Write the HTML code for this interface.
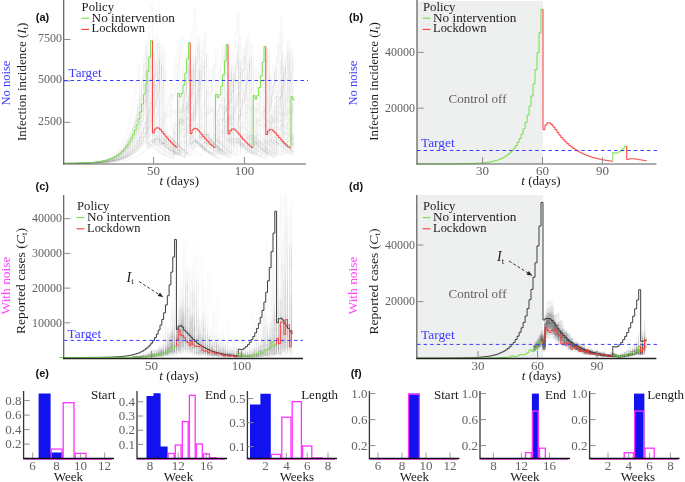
<!DOCTYPE html>
<html><head><meta charset="utf-8"><style>
html,body{margin:0;padding:0;background:#fff;}
svg{display:block;will-change:transform;}
</style></head><body>
<svg width="685" height="482" viewBox="0 0 685 482">
<defs>
<clipPath id="clipA"><rect x="64" y="0" width="245" height="164"/></clipPath>
<clipPath id="clipC"><rect x="64" y="195" width="245" height="163"/></clipPath>
<clipPath id="clipD"><rect x="417" y="195" width="245" height="163"/></clipPath>
</defs>
<rect width="685" height="482" fill="#fff"/>
<g font-family='"Liberation Serif", serif' font-size="13" fill="#1a1a1a">
<g clip-path="url(#clipA)" fill="none" stroke="#808080" stroke-width="0.5" stroke-opacity="0.14">
<path d="M64.2 163.4H66V163.4H67.8V163.4H69.6V163.4H71.4V163.4H73.2V163.3H75V163.3H76.8V163.3H78.6V163.2H80.4V163.2H82.2V163.1H84V163.1H85.8V163H87.6V162.9H89.4V162.8H91.2V162.7H93V162.5H94.8V162.4H96.6V162.2H98.4V161.9H100.2V161.6H102V161.3H103.8V160.9H105.6V160.4H107.4V159.9H109.2V159.2H111V158.5H112.8V157.6H114.6V156.5H116.4V155.3H118.2V153.8H120V152.1H121.8V150H123.6V147.6H125.4V144.8H127.2V141.4H129V137.5H130.8V132.8H132.6V127.3H134.4V120.9H136.2V113.2H138V104.2H139.8V93.6H141.6V81.1H143.4V66.4H145.2V49.1H147V147H148.8V144.7H150.6V143.9H152.4V144.3H154.2V145.6H156V147.2H157.8V148.9H159.6V150.5H161.4V152.1H163.2V153.5H165V154.7H166.8V155.8H168.6V156.8H170.4V157.6H172.2V158.4H174V126.8H175.8V129.9H177.6V128.4H179.4V123.6H181.2V116.7H183V108.3H184.8V98.3H186.6V86.6H188.4V72.8H190.2V56.7H192V148.1H193.8V146H195.6V145.2H197.4V145.6H199.2V146.8H201V148.2H202.8V149.8H204.6V151.4H206.4V152.8H208.2V154.1H210V155.3H211.8V156.3H213.6V157.2H215.4V158H217.2V158.7H219V129.2H220.8V132.1H222.6V130.8H224.4V126.3H226.2V119.8H228V111.9H229.8V102.6H231.6V91.7H233.4V78.8H235.2V63.7H237V46H238.8V146.5H240.6V144.2H242.4V143.4H244.2V143.8H246V145.1H247.8V146.7H249.6V148.5H251.4V150.2H253.2V151.8H255V153.2H256.8V154.5H258.6V155.6H260.4V156.6H262.2V157.5H264V158.2H265.8V125.8H267.6V129H269.4V127.5H271.2V122.5H273V115.4H274.8V106.7H276.6V96.5H278.4V84.5H280.2V70.3H282V53.7H283.8V147.7H285.6V145.5H287.4V144.7H289.2V145.1H291V146.3H292.8V147.8H294.6"/>
<path d="M64.2 163.4H66V163.4H67.8V163.4H69.6V163.4H71.4V163.4H73.2V163.4H75V163.4H76.8V163.3H78.6V163.3H80.4V163.3H82.2V163.3H84V163.2H85.8V163.2H87.6V163.1H89.4V163.1H91.2V163H93V162.9H94.8V162.9H96.6V162.8H98.4V162.6H100.2V162.5H102V162.4H103.8V162.2H105.6V162H107.4V161.8H109.2V161.5H111V161.2H112.8V160.8H114.6V160.4H116.4V159.9H118.2V159.4H120V158.8H121.8V158H123.6V157.2H125.4V156.2H127.2V155.1H129V153.8H130.8V152.3H132.6V150.6H134.4V148.7H136.2V146.4H138V143.7H139.8V140.7H141.6V137.2H143.4V133.2H145.2V128.5H147V123.1H148.8V117H150.6V109.8H152.4V101.6H154.2V92.1H156V81.1H157.8V68.4H159.6V53.8H161.4V145.2H163.2V143.1H165V142.4H166.8V142.9H168.6V144.3H170.4V146H172.2V147.8H174V149.5H175.8V151.1H177.6V152.6H179.4V153.9H181.2V155H183V156.1H184.8V157H186.6V123.8H188.4V127.2H190.2V126.2H192V122.1H193.8V116H195.6V108.7H197.4V100.2H199.2V90.4H201V79.2H202.8V66.3H204.6V147.3H206.4V145.4H208.2V144.8H210V145.3H211.8V146.5H213.6V148H215.4V149.5H217.2V151.1H219V152.5H220.8V153.8H222.6V155H224.4V156H226.2V156.9H228V157.7H229.8V128.3H231.6V131.3H233.4V130.4H235.2V126.8H237V121.4H238.8V114.9H240.6V107.4H242.4V98.7H244.2V88.8H246V77.3H247.8V64.1H249.6V146.9H251.4V145H253.2V144.4H255V144.9H256.8V146.1H258.6V147.6H260.4V149.2H262.2V150.8H264V152.3H265.8V153.6H267.6V154.8H269.4V155.8H271.2V156.8H273V157.6H274.8V127.5H276.6V130.6H278.4V129.7H280.2V125.9H282V120.5H283.8V113.8H285.6V106.1H287.4V97.2H289.2V87.1H291V75.4H292.8V61.9H294.6"/>
<path d="M64.2 163.4H66V163.4H67.8V163.4H69.6V163.4H71.4V163.4H73.2V163.3H75V163.3H76.8V163.3H78.6V163.2H80.4V163.2H82.2V163.1H84V163H85.8V162.9H87.6V162.8H89.4V162.7H91.2V162.5H93V162.3H94.8V162.1H96.6V161.8H98.4V161.5H100.2V161.1H102V160.7H103.8V160.1H105.6V159.5H107.4V158.7H109.2V157.7H111V156.6H112.8V155.3H114.6V153.7H116.4V151.8H118.2V149.5H120V146.8H121.8V143.6H123.6V139.7H125.4V135.1H127.2V129.6H129V123.1H130.8V115.2H132.6V105.9H134.4V94.7H136.2V81.3H138V65.4H139.8V145.7H141.6V143.1H143.4V141.9H145.2V142.1H147V143.2H148.8V144.6H150.6V146.2H152.4V147.8H154.2V149.3H156V150.7H157.8V152H159.6V153.2H161.4V154.2H163.2V155.1H165V113.8H166.8V116.6H168.6V113.4H170.4V105.4H172.2V94.4H174V80.9H175.8V64.7H177.6V145.6H179.4V142.9H181.2V141.8H183V142H184.8V143H186.6V144.5H188.4V146.1H190.2V147.7H192V149.2H193.8V150.6H195.6V151.9H197.4V153.1H199.2V154.1H201V155.1H202.8V113.5H204.6V116.3H206.4V113H208.2V105H210V93.9H211.8V80.3H213.6V64H215.4V145.5H217.2V142.8H219V141.6H220.8V141.8H222.6V142.9H224.4V144.3H226.2V146H228V147.6H229.8V149.1H231.6V150.6H233.4V151.8H235.2V153H237V154.1H238.8V155H240.6V113.1H242.4V116H244.2V112.6H246V104.6H247.8V93.4H249.6V79.7H251.4V63.3H253.2V145.4H255V142.6H256.8V141.4H258.6V141.7H260.4V142.7H262.2V144.2H264V145.9H265.8V147.5H267.6V149H269.4V150.5H271.2V151.8H273V152.9H274.8V154H276.6V154.9H278.4V112.7H280.2V115.6H282V112.3H283.8V104.2H285.6V92.9H287.4V79.1H289.2V62.6H291V145.2H292.8V142.5H294.6"/>
<path d="M64.2 163.4H66V163.4H67.8V163.4H69.6V163.4H71.4V163.4H73.2V163.4H75V163.4H76.8V163.3H78.6V163.3H80.4V163.3H82.2V163.2H84V163.2H85.8V163.2H87.6V163.1H89.4V163.1H91.2V163H93V162.9H94.8V162.8H96.6V162.7H98.4V162.6H100.2V162.5H102V162.4H103.8V162.2H105.6V162H107.4V161.8H109.2V161.6H111V161.3H112.8V161H114.6V160.6H116.4V160.2H118.2V159.7H120V159.2H121.8V158.5H123.6V157.8H125.4V157H127.2V156.1H129V155H130.8V153.7H132.6V152.3H134.4V150.7H136.2V148.9H138V146.8H139.8V144.4H141.6V141.6H143.4V138.4H145.2V134.8H147V130.7H148.8V125.9H150.6V120.5H152.4V114.3H154.2V107.1H156V99H157.8V89.7H159.6V79H161.4V66.8H163.2V52.9H165V141H166.8V138.5H168.6V137.7H170.4V138.3H172.2V139.8H174V141.6H175.8V143.6H177.6V145.6H179.4V147.4H181.2V149.1H183V150.6H184.8V152H186.6V153.2H188.4V154.3H190.2V117.2H192V120.5H193.8V119.3H195.6V114.7H197.4V108.1H199.2V100H201V90.8H202.8V80.2H204.6V68.2H206.4V54.4H208.2V141.4H210V138.9H211.8V138.1H213.6V138.7H215.4V140.1H217.2V141.9H219V143.9H220.8V145.8H222.6V147.7H224.4V149.3H226.2V150.8H228V152.2H229.8V153.4H231.6V154.4H233.4V117.8H235.2V121.1H237V119.9H238.8V115.4H240.6V108.9H242.4V100.9H244.2V91.8H246V81.4H247.8V69.5H249.6V56H251.4V141.7H253.2V139.3H255V138.4H256.8V139H258.6V140.4H260.4V142.3H262.2V144.2H264V146.1H265.8V147.9H267.6V149.5H269.4V151H271.2V152.3H273V153.5H274.8V154.6H276.6V118.5H278.4V121.7H280.2V120.6H282V116.1H283.8V109.6H285.6V101.8H287.4V92.8H289.2V82.6H291V70.8H292.8V57.5H294.6"/>
<path d="M64.2 163.4H66V163.4H67.8V163.4H69.6V163.4H71.4V163.3H73.2V163.3H75V163.3H76.8V163.2H78.6V163.2H80.4V163.1H82.2V163.1H84V163H85.8V162.9H87.6V162.8H89.4V162.7H91.2V162.6H93V162.4H94.8V162.3H96.6V162.1H98.4V161.8H100.2V161.5H102V161.2H103.8V160.8H105.6V160.4H107.4V159.9H109.2V159.3H111V158.6H112.8V157.7H114.6V156.8H116.4V155.6H118.2V154.3H120V152.8H121.8V151H123.6V149H125.4V146.5H127.2V143.7H129V140.4H130.8V136.6H132.6V132.1H134.4V126.9H136.2V120.7H138V113.6H139.8V105.3H141.6V95.6H143.4V84.3H145.2V71.2H147V55.8H148.8V143H150.6V140.3H152.4V139.3H154.2V139.7H156V141H157.8V142.7H159.6V144.6H161.4V146.4H163.2V148.1H165V149.7H166.8V151.1H168.6V152.4H170.4V153.6H172.2V109.1H174V112.7H175.8V110.4H177.6V103.6H179.4V94H181.2V82.4H183V68.7H184.8V52.8H186.6V142.4H188.4V139.7H190.2V138.6H192V139.1H193.8V140.4H195.6V142.2H197.4V144.1H199.2V145.9H201V147.7H202.8V149.3H204.6V150.8H206.4V152.1H208.2V153.3H210V107.7H211.8V111.4H213.6V109H215.4V102H217.2V92.1H219V80.2H220.8V66.1H222.6V49.8H224.4V141.8H226.2V139H228V138H229.8V138.4H231.6V139.8H233.4V141.6H235.2V143.5H237V145.5H238.8V147.3H240.6V148.9H242.4V150.5H244.2V151.8H246V153H247.8V106.2H249.6V110H251.4V107.5H253.2V100.3H255V90.2H256.8V77.9H258.6V63.5H260.4V144.4H262.2V141.9H264V141H265.8V141.4H267.6V142.6H269.4V144.2H271.2V145.9H273V147.6H274.8V149.2H276.6V150.7H278.4V152H280.2V153.2H282V154.3H283.8V113H285.6V116.4H287.4V114.2H289.2V107.9H291V99H292.8V88.1H294.6"/>
<path d="M64.2 163.4H66V163.4H67.8V163.3H69.6V163.3H71.4V163.3H73.2V163.2H75V163.2H76.8V163.2H78.6V163.1H80.4V163H82.2V163H84V162.9H85.8V162.8H87.6V162.7H89.4V162.6H91.2V162.4H93V162.3H94.8V162.1H96.6V161.9H98.4V161.6H100.2V161.4H102V161H103.8V160.7H105.6V160.2H107.4V159.8H109.2V159.2H111V158.5H112.8V157.8H114.6V156.9H116.4V156H118.2V154.8H120V153.5H121.8V152H123.6V150.3H125.4V148.3H127.2V146H129V143.4H130.8V140.4H132.6V136.9H134.4V132.9H136.2V128.3H138V123H139.8V116.9H141.6V109.9H143.4V101.9H145.2V92.6H147V81.9H148.8V69.7H150.6V55.6H152.4V141.6H154.2V139.1H156V138.2H157.8V138.7H159.6V140.1H161.4V141.9H163.2V143.8H165V145.7H166.8V147.5H168.6V149.2H170.4V150.7H172.2V152H174V153.2H175.8V154.3H177.6V155.2H179.4V121.4H181.2V124.4H183V123.1H184.8V118.6H186.6V112.2H188.4V104.4H190.2V95.5H192V85.2H193.8V73.4H195.6V59.9H197.4V44.4H199.2V139.3H201V136.5H202.8V135.6H204.6V136.1H206.4V137.7H208.2V139.7H210V141.8H211.8V143.9H213.6V145.9H215.4V147.7H217.2V149.3H219V150.8H220.8V152.1H222.6V153.3H224.4V154.4H226.2V117.1H228V120.3H229.8V118.9H231.6V113.9H233.4V106.9H235.2V98.3H237V88.4H238.8V77H240.6V64H242.4V49.1H244.2V140.3H246V137.6H247.8V136.7H249.6V137.2H251.4V138.7H253.2V140.6H255V142.7H256.8V144.7H258.6V146.6H260.4V148.3H262.2V149.9H264V151.3H265.8V152.6H267.6V153.7H269.4V154.7H271.2V118.9H273V122H274.8V120.6H276.6V115.9H278.4V109.1H280.2V100.9H282V91.4H283.8V80.5H285.6V68H287.4V53.7H289.2V141.2H291V138.7H292.8V137.8H294.6"/>
<path d="M64.2 163.4H66V163.4H67.8V163.4H69.6V163.4H71.4V163.4H73.2V163.4H75V163.4H76.8V163.4H78.6V163.3H80.4V163.3H82.2V163.3H84V163.2H85.8V163.2H87.6V163.1H89.4V163.1H91.2V163H93V163H94.8V162.9H96.6V162.8H98.4V162.7H100.2V162.6H102V162.4H103.8V162.2H105.6V162H107.4V161.8H109.2V161.6H111V161.3H112.8V160.9H114.6V160.5H116.4V160.1H118.2V159.6H120V159H121.8V158.3H123.6V157.5H125.4V156.5H127.2V155.5H129V154.3H130.8V152.8H132.6V151.2H134.4V149.3H136.2V147.2H138V144.7H139.8V141.8H141.6V138.5H143.4V134.7H145.2V130.2H147V125.2H148.8V119.3H150.6V112.5H152.4V104.7H154.2V95.7H156V85.4H157.8V73.4H159.6V59.7H161.4V43.8H163.2V139.6H165V136.8H166.8V135.8H168.6V136.3H170.4V137.9H172.2V139.9H174V142H175.8V144.1H177.6V146H179.4V147.8H181.2V149.5H183V150.9H184.8V152.3H186.6V153.4H188.4V111.4H190.2V115.1H192V113.4H193.8V107.7H195.6V99.6H197.4V89.7H199.2V78.3H201V65.2H202.8V50.2H204.6V32.9H206.4V137.4H208.2V134.4H210V133.3H211.8V133.9H213.6V135.5H215.4V137.7H217.2V140H219V142.3H220.8V144.5H222.6V146.4H224.4V148.2H226.2V149.8H228V151.2H229.8V152.5H231.6V106.7H233.4V110.6H235.2V108.8H237V102.6H238.8V93.7H240.6V83H242.4V70.6H244.2V56.3H246V39.9H247.8V138.8H249.6V135.9H251.4V134.9H253.2V135.5H255V137H256.8V139.1H258.6V141.3H260.4V143.4H262.2V145.5H264V147.3H265.8V149H267.6V150.5H269.4V151.9H271.2V153.1H273V109.7H274.8V113.5H276.6V111.7H278.4V105.9H280.2V97.5H282V87.3H283.8V75.5H285.6V62H287.4V46.5H289.2V140.2H291V137.4H292.8V136.4H294.6"/>
<path d="M64.2 163.4H66V163.4H67.8V163.4H69.6V163.4H71.4V163.4H73.2V163.3H75V163.3H76.8V163.3H78.6V163.3H80.4V163.2H82.2V163.2H84V163.1H85.8V163.1H87.6V163H89.4V163H91.2V162.9H93V162.8H94.8V162.7H96.6V162.5H98.4V162.4H100.2V162.2H102V162H103.8V161.8H105.6V161.5H107.4V161.2H109.2V160.9H111V160.5H112.8V160H114.6V159.5H116.4V158.9H118.2V158.2H120V157.3H121.8V156.4H123.6V155.3H125.4V154.1H127.2V152.6H129V151H130.8V149.1H132.6V146.9H134.4V144.3H136.2V141.4H138V138H139.8V134.1H141.6V129.6H143.4V124.5H145.2V118.5H147V111.6H148.8V103.7H150.6V94.6H152.4V84.1H154.2V71.9H156V57.9H157.8V41.8H159.6V136.3H161.4V133.1H163.2V131.8H165V132.3H166.8V133.9H168.6V136H170.4V138.2H172.2V140.4H174V142.5H175.8V144.5H177.6V146.2H179.4V147.9H181.2V149.3H183V150.7H184.8V103.5H186.6V107.1H188.4V104.7H190.2V98H192V88.4H193.8V76.9H195.6V63.5H197.4V48.2H199.2V137.7H201V134.7H202.8V133.5H204.6V134H206.4V135.5H208.2V137.4H210V139.5H211.8V141.6H213.6V143.6H215.4V145.5H217.2V147.2H219V148.7H220.8V150.1H222.6V151.3H224.4V106.6H226.2V110H228V107.8H229.8V101.4H231.6V92.4H233.4V81.5H235.2V68.8H237V54.3H238.8V139.1H240.6V136.2H242.4V135.1H244.2V135.5H246V136.9H247.8V138.8H249.6V140.8H251.4V142.8H253.2V144.7H255V146.4H256.8V148H258.6V149.5H260.4V150.8H262.2V152H264V109.6H265.8V112.9H267.6V110.7H269.4V104.7H271.2V96.1H273V85.8H274.8V73.8H276.6V60H278.4V44.2H280.2V136.8H282V133.7H283.8V132.5H285.6V133H287.4V134.5H289.2V136.5H291V138.7H292.8V140.9H294.6"/>
<path d="M64.2 163.5H66V163.4H67.8V163.4H69.6V163.4H71.4V163.4H73.2V163.4H75V163.4H76.8V163.4H78.6V163.3H80.4V163.3H82.2V163.3H84V163.3H85.8V163.2H87.6V163.2H89.4V163.1H91.2V163.1H93V163H94.8V162.9H96.6V162.8H98.4V162.7H100.2V162.6H102V162.4H103.8V162.2H105.6V162H107.4V161.8H109.2V161.5H111V161.2H112.8V160.8H114.6V160.3H116.4V159.8H118.2V159.2H120V158.5H121.8V157.7H123.6V156.7H125.4V155.6H127.2V154.4H129V152.9H130.8V151.1H132.6V149.1H134.4V146.7H136.2V144H138V140.8H139.8V137.1H141.6V132.8H143.4V127.8H145.2V122H147V115.2H148.8V107.3H150.6V98.1H152.4V87.5H154.2V75.1H156V60.6H157.8V43.8H159.6V145.7H161.4V143.5H163.2V142.8H165V143.4H166.8V144.7H168.6V146.4H170.4V148.2H172.2V150H174V151.7H175.8V153.1H177.6V154.4H179.4V155.6H181.2V156.6H183V157.5H184.8V122.4H186.6V126.1H188.4V124.9H190.2V120.3H192V113.6H193.8V105.4H195.6V95.8H197.4V84.6H199.2V71.8H201V56.8H202.8V39.4H204.6V145.1H206.4V142.8H208.2V142H210V142.6H211.8V144H213.6V145.8H215.4V147.7H217.2V149.5H219V151.2H220.8V152.8H222.6V154.1H224.4V155.3H226.2V156.4H228V157.3H229.8V120.9H231.6V124.7H233.4V123.5H235.2V118.7H237V111.7H238.8V103.2H240.6V93.2H242.4V81.7H244.2V68.4H246V52.9H247.8V34.8H249.6V144.4H251.4V142H253.2V141.3H255V141.9H256.8V143.3H258.6V145.1H260.4V147.1H262.2V149H264V150.8H265.8V152.4H267.6V153.8H269.4V155H271.2V156.1H273V157H274.8V119.3H276.6V123.3H278.4V122H280.2V117.1H282V109.8H283.8V101H285.6V90.6H287.4V78.7H289.2V64.8H291V48.8H292.8V146.5H294.6"/>
<path d="M64.2 163.4H66V163.4H67.8V163.4H69.6V163.4H71.4V163.4H73.2V163.4H75V163.4H76.8V163.3H78.6V163.3H80.4V163.3H82.2V163.3H84V163.2H85.8V163.2H87.6V163.1H89.4V163.1H91.2V163H93V162.9H94.8V162.8H96.6V162.7H98.4V162.6H100.2V162.5H102V162.3H103.8V162.1H105.6V161.9H107.4V161.6H109.2V161.3H111V161H112.8V160.6H114.6V160.1H116.4V159.6H118.2V159H120V158.3H121.8V157.4H123.6V156.5H125.4V155.4H127.2V154.1H129V152.6H130.8V150.8H132.6V148.8H134.4V146.5H136.2V143.8H138V140.6H139.8V137H141.6V132.8H143.4V127.9H145.2V122.2H147V115.7H148.8V108.1H150.6V99.3H152.4V89.1H154.2V77.2H156V63.5H157.8V142.1H159.6V139.4H161.4V138.4H163.2V138.8H165V140H166.8V141.7H168.6V143.5H170.4V145.2H172.2V146.9H174V148.5H175.8V149.9H177.6V151.2H179.4V152.4H181.2V109.3H183V112.5H184.8V110.2H186.6V103.8H188.4V94.7H190.2V83.7H192V70.8H193.8V56H195.6V140.4H197.4V137.6H199.2V136.5H201V136.9H202.8V138.3H204.6V140H206.4V142H208.2V143.9H210V145.7H211.8V147.4H213.6V148.9H215.4V150.3H217.2V151.6H219V105.2H220.8V108.7H222.6V106.3H224.4V99.3H226.2V89.5H228V77.7H229.8V63.9H231.6V142.1H233.4V139.5H235.2V138.5H237V138.8H238.8V140.1H240.6V141.7H242.4V143.5H244.2V145.3H246V147H247.8V148.6H249.6V150H251.4V151.3H253.2V152.4H255V109.5H256.8V112.7H258.6V110.4H260.4V104H262.2V94.9H264V83.9H265.8V71.2H267.6V56.4H269.4V140.5H271.2V137.7H273V136.6H274.8V137H276.6V138.3H278.4V140.1H280.2V142H282V144H283.8V145.8H285.6V147.4H287.4V149H289.2V150.4H291V151.6H292.8V105.5H294.6"/>
<path d="M64.2 163.4H66V163.4H67.8V163.4H69.6V163.4H71.4V163.4H73.2V163.3H75V163.3H76.8V163.3H78.6V163.2H80.4V163.2H82.2V163.2H84V163.1H85.8V163.1H87.6V163H89.4V162.9H91.2V162.8H93V162.7H94.8V162.6H96.6V162.4H98.4V162.3H100.2V162.1H102V161.8H103.8V161.6H105.6V161.3H107.4V160.9H109.2V160.5H111V160.1H112.8V159.6H114.6V158.9H116.4V158.2H118.2V157.4H120V156.5H121.8V155.3H123.6V154.1H125.4V152.6H127.2V150.9H129V148.9H130.8V146.7H132.6V144H134.4V141H136.2V137.5H138V133.4H139.8V128.7H141.6V123.3H143.4V117H145.2V109.7H147V101.3H148.8V91.6H150.6V80.4H152.4V67.4H154.2V52.4H156V35.1H157.8V137.7H159.6V134.6H161.4V133.4H163.2V134H165V135.6H166.8V137.7H168.6V140H170.4V142.3H172.2V144.4H174V146.3H175.8V148.1H177.6V149.7H179.4V151.1H181.2V152.4H183V106H184.8V109.9H186.6V107.8H188.4V101.3H190.2V92H192V80.8H193.8V67.7H195.6V52.7H197.4V35.4H199.2V137.8H201V134.7H202.8V133.5H204.6V134.1H206.4V135.7H208.2V137.8H210V140.1H211.8V142.3H213.6V144.4H215.4V146.4H217.2V148.1H219V149.7H220.8V151.1H222.6V152.4H224.4V106.1H226.2V110H228V107.9H229.8V101.4H231.6V92.2H233.4V81H235.2V68H237V53H238.8V35.7H240.6V137.8H242.4V134.7H244.2V133.6H246V134.2H247.8V135.8H249.6V137.9H251.4V140.1H253.2V142.4H255V144.5H256.8V146.4H258.6V148.1H260.4V149.7H262.2V151.1H264V152.4H265.8V106.3H267.6V110.1H269.4V108H271.2V101.6H273V92.4H274.8V81.2H276.6V68.2H278.4V53.2H280.2V36H282V137.9H283.8V134.8H285.6V133.7H287.4V134.2H289.2V135.8H291V137.9H292.8V140.2H294.6"/>
<path d="M64.2 163.4H66V163.4H67.8V163.4H69.6V163.4H71.4V163.3H73.2V163.3H75V163.3H76.8V163.2H78.6V163.2H80.4V163.1H82.2V163.1H84V163H85.8V162.9H87.6V162.8H89.4V162.7H91.2V162.6H93V162.4H94.8V162.2H96.6V162H98.4V161.7H100.2V161.4H102V161.1H103.8V160.7H105.6V160.2H107.4V159.7H109.2V159H111V158.3H112.8V157.4H114.6V156.4H116.4V155.2H118.2V153.7H120V152.1H121.8V150.2H123.6V148H125.4V145.3H127.2V142.3H129V138.7H130.8V134.5H132.6V129.7H134.4V124H136.2V117.3H138V109.6H139.8V100.5H141.6V89.9H143.4V77.5H145.2V63.1H147V144.5H148.8V142H150.6V141H152.4V141.4H154.2V142.6H156V144.2H157.8V145.9H159.6V147.6H161.4V149.2H163.2V150.7H165V152H166.8V153.2H168.6V154.3H170.4V155.2H172.2V156.1H174V122.7H175.8V125.4H177.6V123.6H179.4V118.4H181.2V111.1H183V102.2H184.8V91.8H186.6V79.7H188.4V65.6H190.2V145H192V142.6H193.8V141.6H195.6V142H197.4V143.1H199.2V144.7H201V146.4H202.8V148H204.6V149.6H206.4V151H208.2V152.3H210V153.5H211.8V154.5H213.6V155.5H215.4V156.3H217.2V123.7H219V126.3H220.8V124.6H222.6V119.6H224.4V112.4H226.2V103.8H228V93.6H229.8V81.8H231.6V68.1H233.4V145.4H235.2V143.1H237V142.2H238.8V142.5H240.6V143.7H242.4V145.2H244.2V146.8H246V148.4H247.8V149.9H249.6V151.3H251.4V152.6H253.2V153.7H255V154.7H256.8V155.7H258.6V156.5H260.4V124.7H262.2V127.3H264V125.6H265.8V120.7H267.6V113.7H269.4V105.3H271.2V95.4H273V83.9H274.8V70.5H276.6V145.9H278.4V143.6H280.2V142.7H282V143.1H283.8V144.2H285.6V145.6H287.4V147.2H289.2V148.8H291V150.3H292.8V151.6H294.6"/>
<path d="M64.2 163.5H66V163.5H67.8V163.5H69.6V163.4H71.4V163.4H73.2V163.4H75V163.4H76.8V163.4H78.6V163.4H80.4V163.4H82.2V163.3H84V163.3H85.8V163.3H87.6V163.2H89.4V163.2H91.2V163.2H93V163.1H94.8V163H96.6V163H98.4V162.9H100.2V162.8H102V162.7H103.8V162.5H105.6V162.4H107.4V162.2H109.2V162H111V161.7H112.8V161.4H114.6V161.1H116.4V160.7H118.2V160.2H120V159.7H121.8V159.1H123.6V158.4H125.4V157.6H127.2V156.6H129V155.5H130.8V154.2H132.6V152.6H134.4V150.9H136.2V148.8H138V146.5H139.8V143.7H141.6V140.5H143.4V136.7H145.2V132.4H147V127.3H148.8V121.5H150.6V114.6H152.4V106.7H154.2V97.5H156V86.8H157.8V74.3H159.6V59.9H161.4V143.5H163.2V140.9H165V140H166.8V140.4H168.6V141.7H170.4V143.4H172.2V145.2H174V146.9H175.8V148.6H177.6V150.1H179.4V151.5H181.2V152.8H183V153.9H184.8V154.9H186.6V117.2H188.4V120.3H190.2V118.5H192V113H193.8V105.1H195.6V95.5H197.4V84.4H199.2V71.5H201V145.7H202.8V143.5H204.6V142.6H206.4V143H208.2V144.1H210V145.6H211.8V147.2H213.6V148.8H215.4V150.3H217.2V151.6H219V152.9H220.8V154H222.6V155H224.4V155.9H226.2V122.4H228V125.2H229.8V123.5H231.6V118.6H233.4V111.6H235.2V103.2H237V93.3H238.8V81.8H240.6V68.5H242.4V145.1H244.2V142.8H246V142H247.8V142.4H249.6V143.5H251.4V145.1H253.2V146.7H255V148.3H256.8V149.9H258.6V151.3H260.4V152.5H262.2V153.7H264V154.7H265.8V155.6H267.6V121.1H269.4V123.9H271.2V122.2H273V117.2H274.8V110H276.6V101.2H278.4V91H280.2V79.2H282V65.5H283.8V144.5H285.6V142.2H287.4V141.3H289.2V141.7H291V142.9H292.8V144.5H294.6"/>
<path d="M64.2 163.4H66V163.4H67.8V163.4H69.6V163.4H71.4V163.4H73.2V163.3H75V163.3H76.8V163.3H78.6V163.2H80.4V163.2H82.2V163.1H84V163.1H85.8V163H87.6V162.9H89.4V162.9H91.2V162.8H93V162.6H94.8V162.5H96.6V162.3H98.4V162.1H100.2V161.9H102V161.6H103.8V161.3H105.6V161H107.4V160.6H109.2V160.1H111V159.5H112.8V158.9H114.6V158.1H116.4V157.3H118.2V156.2H120V155H121.8V153.7H123.6V152.1H125.4V150.2H127.2V148H129V145.5H130.8V142.5H132.6V139.1H134.4V135.1H136.2V130.5H138V125.1H139.8V118.8H141.6V111.5H143.4V103H145.2V93.1H147V81.6H148.8V146.6H150.6V144.4H152.4V143.6H154.2V143.9H156V144.9H157.8V146.2H159.6V147.7H161.4V149.1H163.2V150.5H165V151.7H166.8V152.9H168.6V153.9H170.4V154.8H172.2V155.7H174V123.8H175.8V126.2H177.6V124.4H179.4V119.5H181.2V112.6H183V104.2H184.8V94.5H186.6V83.1H188.4V70H190.2V144.2H192V141.7H193.8V140.8H195.6V141.1H197.4V142.2H199.2V143.8H201V145.4H202.8V147.1H204.6V148.6H206.4V150.1H208.2V151.4H210V152.6H211.8V153.6H213.6V154.6H215.4V118.2H217.2V120.9H219V118.9H220.8V113.3H222.6V105.5H224.4V95.9H226.2V84.7H228V71.8H229.8V144.5H231.6V142.1H233.4V141.2H235.2V141.6H237V142.7H238.8V144.2H240.6V145.8H242.4V147.4H244.2V148.9H246V150.3H247.8V151.6H249.6V152.8H251.4V153.8H253.2V154.8H255V119.1H256.8V121.8H258.6V119.8H260.4V114.3H262.2V106.6H264V97.2H265.8V86.2H267.6V73.5H269.4V144.9H271.2V142.6H273V141.6H274.8V142H276.6V143.1H278.4V144.5H280.2V146.1H282V147.7H283.8V149.2H285.6V150.6H287.4V151.8H289.2V153H291V154H292.8V154.9H294.6"/>
<path d="M64.2 163.4H66V163.4H67.8V163.4H69.6V163.4H71.4V163.3H73.2V163.3H75V163.3H76.8V163.3H78.6V163.2H80.4V163.2H82.2V163.2H84V163.1H85.8V163H87.6V163H89.4V162.9H91.2V162.8H93V162.7H94.8V162.6H96.6V162.5H98.4V162.3H100.2V162.2H102V162H103.8V161.7H105.6V161.5H107.4V161.2H109.2V160.9H111V160.5H112.8V160H114.6V159.5H116.4V159H118.2V158.3H120V157.6H121.8V156.7H123.6V155.7H125.4V154.6H127.2V153.3H129V151.8H130.8V150.1H132.6V148.1H134.4V145.9H136.2V143.3H138V140.4H139.8V137H141.6V133.2H143.4V128.8H145.2V123.7H147V118H148.8V111.3H150.6V103.7H152.4V95H154.2V85.1H156V145.7H157.8V143.7H159.6V143H161.4V143.3H163.2V144.4H165V145.7H166.8V147.2H168.6V148.7H170.4V150H172.2V151.3H174V152.4H175.8V153.5H177.6V154.4H179.4V122.1H181.2V124.7H183V123.3H184.8V119H186.6V112.9H188.4V105.5H190.2V97H192V87.3H193.8V76.2H195.6V143.7H197.4V141.5H199.2V140.7H201V141.1H202.8V142.2H204.6V143.7H206.4V145.4H208.2V147H210V148.5H211.8V149.9H213.6V151.2H215.4V152.4H217.2V153.4H219V117.5H220.8V120.3H222.6V118.8H224.4V114H226.2V107.2H228V99H229.8V89.5H231.6V78.7H233.4V144.2H235.2V142.1H237V141.3H238.8V141.7H240.6V142.8H242.4V144.3H244.2V145.9H246V147.4H247.8V148.9H249.6V150.3H251.4V151.5H253.2V152.7H255V153.7H256.8V118.8H258.6V121.6H260.4V120.1H262.2V115.4H264V108.8H265.8V100.8H267.6V91.6H269.4V81.1H271.2V144.8H273V142.7H274.8V141.9H276.6V142.3H278.4V143.4H280.2V144.8H282V146.4H283.8V147.9H285.6V149.3H287.4V150.7H289.2V151.9H291V153H292.8V154H294.6"/>
<path d="M64.2 163.4H66V163.4H67.8V163.4H69.6V163.4H71.4V163.3H73.2V163.3H75V163.3H76.8V163.2H78.6V163.2H80.4V163.2H82.2V163.1H84V163H85.8V162.9H87.6V162.9H89.4V162.7H91.2V162.6H93V162.5H94.8V162.3H96.6V162.1H98.4V161.9H100.2V161.6H102V161.2H103.8V160.9H105.6V160.4H107.4V159.9H109.2V159.3H111V158.6H112.8V157.8H114.6V156.8H116.4V155.7H118.2V154.3H120V152.8H121.8V151H123.6V148.9H125.4V146.4H127.2V143.5H129V140.1H130.8V136.2H132.6V131.6H134.4V126.2H136.2V119.9H138V112.6H139.8V104H141.6V93.9H143.4V82.2H145.2V68.5H147V148.7H148.8V146.8H150.6V146.1H152.4V146.5H154.2V147.6H156V149H157.8V150.5H159.6V151.9H161.4V153.3H163.2V154.5H165V155.6H166.8V156.6H168.6V157.4H170.4V158.1H172.2V158.8H174V132.5H175.8V135.1H177.6V134H179.4V130.3H181.2V124.9H183V118.3H184.8V110.6H186.6V101.7H188.4V91.3H190.2V79.1H192V64.9H193.8V148.2H195.6V146.2H197.4V145.5H199.2V145.9H201V147H202.8V148.5H204.6V150H206.4V151.5H208.2V152.9H210V154.2H211.8V155.3H213.6V156.3H215.4V157.2H217.2V157.9H219V158.6H220.8V131.3H222.6V134H224.4V132.9H226.2V129H228V123.4H229.8V116.6H231.6V108.6H233.4V99.3H235.2V88.5H237V75.9H238.8V61.2H240.6V147.6H242.4V145.5H244.2V144.8H246V145.2H247.8V146.4H249.6V147.9H251.4V149.5H253.2V151H255V152.5H256.8V153.8H258.6V155H260.4V156H262.2V156.9H264V157.7H265.8V158.4H267.6V130.1H269.4V132.9H271.2V131.7H273V127.7H274.8V121.9H276.6V114.8H278.4V106.5H280.2V96.9H282V85.7H283.8V72.6H285.6V57.3H287.4V147H289.2V144.8H291V144.1H292.8V144.5H294.6"/>
<path d="M64.2 163.4H66V163.4H67.8V163.4H69.6V163.4H71.4V163.4H73.2V163.4H75V163.4H76.8V163.4H78.6V163.3H80.4V163.3H82.2V163.3H84V163.3H85.8V163.2H87.6V163.2H89.4V163.1H91.2V163.1H93V163H94.8V162.9H96.6V162.9H98.4V162.8H100.2V162.6H102V162.5H103.8V162.4H105.6V162.2H107.4V162H109.2V161.8H111V161.5H112.8V161.2H114.6V160.9H116.4V160.5H118.2V160.1H120V159.6H121.8V159H123.6V158.3H125.4V157.5H127.2V156.6H129V155.6H130.8V154.4H132.6V153.1H134.4V151.5H136.2V149.7H138V147.7H139.8V145.3H141.6V142.6H143.4V139.5H145.2V135.9H147V131.8H148.8V127H150.6V121.6H152.4V115.3H154.2V108.1H156V99.9H157.8V90.4H159.6V79.5H161.4V66.9H163.2V140H165V137.3H166.8V136.2H168.6V136.6H170.4V137.8H172.2V139.5H174V141.3H175.8V143.1H177.6V144.8H179.4V146.4H181.2V147.9H183V149.3H184.8V150.5H186.6V107.3H188.4V110.3H190.2V108H192V101.8H193.8V93H195.6V82.4H197.4V70.2H199.2V140.8H201V138.2H202.8V137.1H204.6V137.5H206.4V138.7H208.2V140.3H210V142.1H211.8V143.8H213.6V145.5H215.4V147H217.2V148.4H219V149.7H220.8V150.9H222.6V109.2H224.4V112.1H226.2V109.9H228V103.9H229.8V95.4H231.6V85.2H233.4V73.4H235.2V141.6H237V139H238.8V138H240.6V138.4H242.4V139.5H244.2V141.1H246V142.8H247.8V144.5H249.6V146.1H251.4V147.6H253.2V148.9H255V150.2H256.8V151.4H258.6V111.1H260.4V113.9H262.2V111.7H264V105.9H265.8V97.7H267.6V87.8H269.4V76.4H271.2V142.3H273V139.8H274.8V138.9H276.6V139.2H278.4V140.3H280.2V141.8H282V143.5H283.8V145.1H285.6V146.7H287.4V148.1H289.2V149.4H291V150.7H292.8V151.8H294.6"/>
<path d="M64.2 163.5H66V163.4H67.8V163.4H69.6V163.4H71.4V163.4H73.2V163.4H75V163.4H76.8V163.4H78.6V163.3H80.4V163.3H82.2V163.3H84V163.2H85.8V163.2H87.6V163.1H89.4V163.1H91.2V163H93V162.9H94.8V162.8H96.6V162.7H98.4V162.6H100.2V162.4H102V162.2H103.8V162H105.6V161.7H107.4V161.4H109.2V161.1H111V160.6H112.8V160.2H114.6V159.6H116.4V158.9H118.2V158.1H120V157.2H121.8V156.1H123.6V154.8H125.4V153.4H127.2V151.6H129V149.6H130.8V147.2H132.6V144.4H134.4V141.1H136.2V137.3H138V132.8H139.8V127.5H141.6V121.3H143.4V114.1H145.2V105.6H147V95.7H148.8V84.1H150.6V70.5H152.4V54.5H154.2V142.7H156V139.9H157.8V138.9H159.6V139.2H161.4V140.5H163.2V142.2H165V144.1H166.8V145.9H168.6V147.7H170.4V149.3H172.2V150.7H174V152H175.8V153.2H177.6V106.8H179.4V110.4H181.2V107.7H183V100.3H184.8V89.8H186.6V77H188.4V62H190.2V144.1H192V141.6H193.8V140.5H195.6V140.9H197.4V142.1H199.2V143.7H201V145.4H202.8V147.1H204.6V148.8H206.4V150.3H208.2V151.6H210V152.8H211.8V153.9H213.6V110.7H215.4V114.1H217.2V111.6H219V104.6H220.8V94.8H222.6V82.9H224.4V69H226.2V52.7H228V142.4H229.8V139.6H231.6V138.5H233.4V138.9H235.2V140.2H237V141.9H238.8V143.8H240.6V145.7H242.4V147.4H244.2V149.1H246V150.5H247.8V151.9H249.6V153.1H251.4V105.9H253.2V109.6H255V106.8H256.8V99.2H258.6V88.6H260.4V75.6H262.2V60.4H264V143.8H265.8V141.2H267.6V140.2H269.4V140.5H271.2V141.8H273V143.4H274.8V145.1H276.6V146.9H278.4V148.5H280.2V150H282V151.4H283.8V152.7H285.6V153.8H287.4V109.9H289.2V113.3H291V110.7H292.8V103.7H294.6"/>
<path d="M64.2 163.4H66V163.4H67.8V163.4H69.6V163.4H71.4V163.3H73.2V163.3H75V163.3H76.8V163.2H78.6V163.2H80.4V163.1H82.2V163.1H84V163H85.8V162.9H87.6V162.8H89.4V162.7H91.2V162.5H93V162.3H94.8V162.1H96.6V161.9H98.4V161.6H100.2V161.3H102V160.9H103.8V160.5H105.6V159.9H107.4V159.3H109.2V158.6H111V157.7H112.8V156.7H114.6V155.6H116.4V154.2H118.2V152.5H120V150.6H121.8V148.4H123.6V145.7H125.4V142.6H127.2V139H129V134.7H130.8V129.7H132.6V123.8H134.4V116.8H136.2V108.7H138V99.1H139.8V87.8H141.6V74.6H143.4V59.1H145.2V40.9H147V138.5H148.8V135.1H150.6V133.7H152.4V134H154.2V135.4H156V137.4H157.8V139.5H159.6V141.6H161.4V143.7H163.2V145.5H165V147.2H166.8V148.8H168.6V150.2H170.4V93.9H172.2V97.9H174V94.1H175.8V84.5H177.6V71.1H179.4V54.8H181.2V35.7H183V137.4H184.8V133.9H186.6V132.4H188.4V132.8H190.2V134.3H192V136.3H193.8V138.5H195.6V140.7H197.4V142.8H199.2V144.8H201V146.5H202.8V148.1H204.6V149.6H206.4V91H208.2V95.1H210V91.2H211.8V81.2H213.6V67.2H215.4V50.2H217.2V140.4H219V137.2H220.8V135.9H222.6V136.2H224.4V137.5H226.2V139.3H228V141.3H229.8V143.3H231.6V145.1H233.4V146.9H235.2V148.4H237V149.9H238.8V151.2H240.6V99.2H242.4V102.8H244.2V99.3H246V90.4H247.8V78.1H249.6V63H251.4V45.2H253.2V139.4H255V136.1H256.8V134.8H258.6V135.1H260.4V136.4H262.2V138.3H264V140.4H265.8V142.4H267.6V144.4H269.4V146.2H271.2V147.8H273V149.3H274.8V150.6H276.6V96.4H278.4V100.2H280.2V96.6H282V87.3H283.8V74.4H285.6V58.7H287.4V40.2H289.2V138.4H291V134.9H292.8V133.5H294.6"/>
<path d="M64.2 163.4H66V163.4H67.8V163.4H69.6V163.3H71.4V163.3H73.2V163.3H75V163.2H76.8V163.2H78.6V163.2H80.4V163.1H82.2V163.1H84V163H85.8V162.9H87.6V162.8H89.4V162.7H91.2V162.6H93V162.5H94.8V162.3H96.6V162.2H98.4V162H100.2V161.8H102V161.5H103.8V161.2H105.6V160.8H107.4V160.5H109.2V160H111V159.5H112.8V158.9H114.6V158.2H116.4V157.4H118.2V156.5H120V155.4H121.8V154.2H123.6V152.9H125.4V151.3H127.2V149.5H129V147.4H130.8V145H132.6V142.2H134.4V139H136.2V135.4H138V131.2H139.8V126.4H141.6V120.9H143.4V114.5H145.2V107.2H147V98.9H148.8V89.2H150.6V78.2H152.4V65.5H154.2V144.7H156V142.6H157.8V141.8H159.6V142.4H161.4V143.6H163.2V145.2H165V146.9H166.8V148.6H168.6V150.2H170.4V151.6H172.2V152.9H174V154.1H175.8V155.1H177.6V118.8H179.4V122.2H181.2V121H183V116.4H184.8V109.8H186.6V101.7H188.4V92.4H190.2V81.7H192V69.5H193.8V145.5H195.6V143.4H197.4V142.8H199.2V143.3H201V144.5H202.8V146H204.6V147.6H206.4V149.3H208.2V150.8H210V152.1H211.8V153.4H213.6V154.5H215.4V155.5H217.2V120.7H219V123.9H220.8V122.8H222.6V118.4H224.4V112H226.2V104.3H228V95.4H229.8V85.2H231.6V73.5H233.4V146.3H235.2V144.3H237V143.6H238.8V144.1H240.6V145.3H242.4V146.7H244.2V148.3H246V149.9H247.8V151.3H249.6V152.6H251.4V153.8H253.2V154.9H255V155.8H256.8V122.5H258.6V125.6H260.4V124.5H262.2V120.3H264V114.2H265.8V106.8H267.6V98.2H269.4V88.5H271.2V77.3H273V64.4H274.8V144.5H276.6V142.4H278.4V141.6H280.2V142.1H282V143.4H283.8V145H285.6V146.8H287.4V148.5H289.2V150.1H291V151.5H292.8V152.8H294.6"/>
<path d="M64.2 163.4H66V163.4H67.8V163.4H69.6V163.4H71.4V163.4H73.2V163.3H75V163.3H76.8V163.3H78.6V163.3H80.4V163.2H82.2V163.2H84V163.1H85.8V163.1H87.6V163H89.4V163H91.2V162.9H93V162.8H94.8V162.7H96.6V162.6H98.4V162.5H100.2V162.4H102V162.2H103.8V162H105.6V161.8H107.4V161.6H109.2V161.3H111V161H112.8V160.6H114.6V160.2H116.4V159.8H118.2V159.2H120V158.6H121.8V158H123.6V157.2H125.4V156.3H127.2V155.3H129V154.1H130.8V152.8H132.6V151.3H134.4V149.6H136.2V147.7H138V145.5H139.8V142.9H141.6V140.1H143.4V136.8H145.2V133H147V128.8H148.8V123.9H150.6V118.3H152.4V112H154.2V104.8H156V96.6H157.8V87.2H159.6V76.5H161.4V64.3H163.2V143.4H165V141.3H166.8V140.6H168.6V141.2H170.4V142.5H172.2V144.2H174V146H175.8V147.7H177.6V149.4H179.4V150.9H181.2V152.2H183V153.5H184.8V154.5H186.6V118.4H188.4V121.8H190.2V120.8H192V116.6H193.8V110.4H195.6V103H197.4V94.4H199.2V84.7H201V73.6H202.8V61H204.6V142.8H206.4V140.6H208.2V139.9H210V140.4H211.8V141.8H213.6V143.6H215.4V145.4H217.2V147.2H219V148.9H220.8V150.5H222.6V151.9H224.4V153.1H226.2V154.2H228V117H229.8V120.5H231.6V119.4H233.4V115.1H235.2V108.7H237V101H238.8V92.1H240.6V82H242.4V70.6H244.2V57.6H246V142.1H247.8V139.8H249.6V139.1H251.4V139.7H253.2V141.1H255V142.9H256.8V144.8H258.6V146.7H260.4V148.4H262.2V150H264V151.5H265.8V152.8H267.6V153.9H269.4V115.4H271.2V119H273V117.9H274.8V113.5H276.6V106.9H278.4V98.9H280.2V89.7H282V79.3H283.8V67.5H285.6V144.1H287.4V142H289.2V141.4H291V141.9H292.8V143.2H294.6"/>
<path d="M64.2 163.4H66V163.4H67.8V163.4H69.6V163.3H71.4V163.3H73.2V163.3H75V163.3H76.8V163.2H78.6V163.2H80.4V163.2H82.2V163.1H84V163.1H85.8V163H87.6V162.9H89.4V162.8H91.2V162.8H93V162.6H94.8V162.5H96.6V162.4H98.4V162.2H100.2V162H102V161.8H103.8V161.6H105.6V161.3H107.4V161H109.2V160.7H111V160.3H112.8V159.8H114.6V159.3H116.4V158.7H118.2V158H120V157.2H121.8V156.3H123.6V155.3H125.4V154.1H127.2V152.8H129V151.2H130.8V149.5H132.6V147.5H134.4V145.2H136.2V142.6H138V139.7H139.8V136.3H141.6V132.4H143.4V128H145.2V122.9H147V117.1H148.8V110.5H150.6V102.9H152.4V94.3H154.2V84.5H156V73.2H157.8V60.4H159.6V145H161.4V143H163.2V142.4H165V143H166.8V144.4H168.6V146H170.4V147.8H172.2V149.5H174V151.1H175.8V152.5H177.6V153.8H179.4V155H181.2V156H183V156.9H184.8V126.2H186.6V129.3H188.4V128.7H190.2V125.2H192V120.1H193.8V113.9H195.6V106.7H197.4V98.6H199.2V89.3H201V78.8H202.8V66.8H204.6V53H206.4V143.7H208.2V141.6H210V140.9H211.8V141.6H213.6V143H215.4V144.8H217.2V146.7H219V148.5H220.8V150.2H222.6V151.7H224.4V153.1H226.2V154.3H228V155.4H229.8V156.4H231.6V123.5H233.4V126.9H235.2V126.2H237V122.5H238.8V117H240.6V110.3H242.4V102.7H244.2V93.9H246V84H247.8V72.7H249.6V59.9H251.4V145H253.2V142.9H255V142.3H256.8V142.9H258.6V144.3H260.4V145.9H262.2V147.7H264V149.4H265.8V151H267.6V152.5H269.4V153.8H271.2V154.9H273V155.9H274.8V156.8H276.6V125.9H278.4V129.1H280.2V128.5H282V125H283.8V119.8H285.6V113.6H287.4V106.4H289.2V98.2H291V88.9H292.8V78.4H294.6"/>
<path d="M64.2 163.4H66V163.4H67.8V163.4H69.6V163.4H71.4V163.4H73.2V163.3H75V163.3H76.8V163.3H78.6V163.3H80.4V163.2H82.2V163.2H84V163.1H85.8V163.1H87.6V163H89.4V162.9H91.2V162.8H93V162.7H94.8V162.6H96.6V162.4H98.4V162.2H100.2V162H102V161.8H103.8V161.5H105.6V161.2H107.4V160.8H109.2V160.3H111V159.8H112.8V159.2H114.6V158.5H116.4V157.7H118.2V156.7H120V155.6H121.8V154.3H123.6V152.8H125.4V151.1H127.2V149H129V146.6H130.8V143.9H132.6V140.6H134.4V136.9H136.2V132.5H138V127.4H139.8V121.5H141.6V114.6H143.4V106.5H145.2V97.2H147V86.3H148.8V73.6H150.6V58.8H152.4V142.5H154.2V139.8H156V138.8H157.8V139.2H159.6V140.5H161.4V142.2H163.2V144H165V145.8H166.8V147.5H168.6V149.1H170.4V150.6H172.2V151.8H174V153H175.8V154.1H177.6V155H179.4V119.2H181.2V122H183V120.1H184.8V114.6H186.6V106.9H188.4V97.5H190.2V86.6H192V73.9H193.8V59.2H195.6V142.6H197.4V139.9H199.2V138.9H201V139.3H202.8V140.5H204.6V142.2H206.4V144.1H208.2V145.9H210V147.6H211.8V149.2H213.6V150.6H215.4V151.9H217.2V153.1H219V154.1H220.8V155H222.6V119.3H224.4V122.1H226.2V120.2H228V114.7H229.8V107H231.6V97.7H233.4V86.8H235.2V74.1H237V59.5H238.8V142.7H240.6V140H242.4V139H244.2V139.4H246V140.6H247.8V142.3H249.6V144.1H251.4V145.9H253.2V147.6H255V149.2H256.8V150.6H258.6V151.9H260.4V153.1H262.2V154.1H264V155.1H265.8V119.4H267.6V122.2H269.4V120.3H271.2V114.9H273V107.2H274.8V97.9H276.6V87H278.4V74.4H280.2V59.8H282V142.7H283.8V140.1H285.6V139H287.4V139.4H289.2V140.7H291V142.4H292.8V144.2H294.6"/>
<path d="M64.2 163.4H66V163.4H67.8V163.4H69.6V163.4H71.4V163.4H73.2V163.3H75V163.3H76.8V163.3H78.6V163.2H80.4V163.2H82.2V163.2H84V163.1H85.8V163H87.6V163H89.4V162.9H91.2V162.8H93V162.7H94.8V162.5H96.6V162.3H98.4V162.2H100.2V161.9H102V161.7H103.8V161.4H105.6V161H107.4V160.6H109.2V160.1H111V159.6H112.8V159H114.6V158.2H116.4V157.3H118.2V156.3H120V155.1H121.8V153.7H123.6V152.1H125.4V150.3H127.2V148.1H129V145.5H130.8V142.6H132.6V139.1H134.4V135.1H136.2V130.4H138V125H139.8V118.6H141.6V111.2H143.4V102.6H145.2V92.5H147V80.8H148.8V67.2H150.6V51.3H152.4V143.2H154.2V140.6H156V139.7H157.8V140.2H159.6V141.5H161.4V143.3H163.2V145.1H165V147H166.8V148.7H168.6V150.3H170.4V151.8H172.2V153.1H174V154.2H175.8V110.2H177.6V114.1H179.4V112H181.2V105.6H183V96.4H184.8V85.2H186.6V72.1H188.4V57H190.2V144.2H192V141.8H193.8V140.9H195.6V141.4H197.4V142.6H199.2V144.3H201V146.1H202.8V147.9H204.6V149.5H206.4V151H208.2V152.4H210V153.6H211.8V154.7H213.6V113H215.4V116.6H217.2V114.6H219V108.5H220.8V99.8H222.6V89.2H224.4V76.9H226.2V62.5H228V45.8H229.8V142.2H231.6V139.5H233.4V138.5H235.2V139H237V140.4H238.8V142.3H240.6V144.3H242.4V146.2H244.2V148H246V149.7H247.8V151.2H249.6V152.6H251.4V153.8H253.2V107.6H255V111.7H256.8V109.5H258.6V102.7H260.4V93.1H262.2V81.4H264V67.7H265.8V51.9H267.6V143.3H269.4V140.8H271.2V139.8H273V140.3H274.8V141.6H276.6V143.4H278.4V145.3H280.2V147.1H282V148.8H283.8V150.4H285.6V151.8H287.4V153.1H289.2V154.3H291V110.5H292.8V114.4H294.6"/>
<path d="M64.2 163.4H66V163.4H67.8V163.3H69.6V163.3H71.4V163.3H73.2V163.2H75V163.2H76.8V163.2H78.6V163.1H80.4V163H82.2V163H84V162.9H85.8V162.8H87.6V162.7H89.4V162.5H91.2V162.4H93V162.2H94.8V162H96.6V161.7H98.4V161.5H100.2V161.1H102V160.7H103.8V160.3H105.6V159.8H107.4V159.2H109.2V158.5H111V157.7H112.8V156.7H114.6V155.6H116.4V154.3H118.2V152.8H120V151.1H121.8V149.1H123.6V146.8H125.4V144.1H127.2V140.9H129V137.3H130.8V133H132.6V128.1H134.4V122.4H136.2V115.7H138V108H139.8V99H141.6V88.6H143.4V76.5H145.2V62.4H147V46H148.8V27H150.6V4.9H152.4V131.4H154.2V127.4H156V125.8H157.8V126.4H159.6V128.4H161.4V131H163.2V133.8H165V136.5H166.8V139.2H168.6V141.6H170.4V143.8H172.2V145.7H174V147.5H175.8V149.1H177.6V150.6H179.4V96.6H181.2V100.9H183V98.1H184.8V90.1H186.6V78.7H188.4V64.8H190.2V48.7H192V30H193.8V8.4H195.6V132.1H197.4V128.2H199.2V126.7H201V127.3H202.8V129.2H204.6V131.7H206.4V134.5H208.2V137.2H210V139.7H211.8V142.1H213.6V144.2H215.4V146.1H217.2V147.9H219V149.4H220.8V150.8H222.6V98.1H224.4V102.3H226.2V99.6H228V91.7H229.8V80.6H231.6V67H233.4V51.3H235.2V33H237V11.9H238.8V132.8H240.6V129H242.4V127.5H244.2V128.1H246V130H247.8V132.4H249.6V135.1H251.4V137.8H253.2V140.3H255V142.6H256.8V144.6H258.6V146.5H260.4V148.2H262.2V149.8H264V151.1H265.8V99.6H267.6V103.7H269.4V101H271.2V93.3H273V82.4H274.8V69.2H276.6V53.8H278.4V36H280.2V15.3H282V133.5H283.8V129.8H285.6V128.3H287.4V128.9H289.2V130.7H291V133.1H292.8V135.7H294.6"/>
<path d="M64.2 163.4H66V163.4H67.8V163.4H69.6V163.4H71.4V163.4H73.2V163.3H75V163.3H76.8V163.3H78.6V163.3H80.4V163.3H82.2V163.2H84V163.2H85.8V163.1H87.6V163.1H89.4V163H91.2V163H93V162.9H94.8V162.8H96.6V162.7H98.4V162.6H100.2V162.5H102V162.4H103.8V162.2H105.6V162H107.4V161.9H109.2V161.6H111V161.4H112.8V161.1H114.6V160.8H116.4V160.4H118.2V160H120V159.5H121.8V159H123.6V158.4H125.4V157.7H127.2V156.9H129V156H130.8V155H132.6V153.9H134.4V152.6H136.2V151.2H138V149.5H139.8V147.6H141.6V145.5H143.4V143.1H145.2V140.4H147V137.2H148.8V133.7H150.6V129.7H152.4V125.2H154.2V120.1H156V114.2H157.8V107.6H159.6V100.1H161.4V91.7H163.2V82H165V71.1H166.8V143.9H168.6V141.9H170.4V141.2H172.2V141.8H174V143.1H175.8V144.7H177.6V146.4H179.4V148.1H181.2V149.7H183V151.1H184.8V152.4H186.6V153.6H188.4V154.6H190.2V155.6H192V125.6H193.8V128.4H195.6V127.7H197.4V124.4H199.2V119.5H201V113.6H202.8V106.8H204.6V99.2H206.4V90.5H208.2V80.8H210V69.7H211.8V143.6H213.6V141.5H215.4V140.9H217.2V141.5H219V142.8H220.8V144.4H222.6V146.2H224.4V147.9H226.2V149.5H228V150.9H229.8V152.2H231.6V153.4H233.4V154.5H235.2V155.4H237V125H238.8V127.9H240.6V127.2H242.4V123.8H244.2V118.8H246V112.8H247.8V105.9H249.6V98.2H251.4V89.4H253.2V79.5H255V68.2H256.8V143.3H258.6V141.2H260.4V140.5H262.2V141.1H264V142.4H265.8V144.1H267.6V145.9H269.4V147.6H271.2V149.2H273V150.7H274.8V152.1H276.6V153.3H278.4V154.4H280.2V155.3H282V124.4H283.8V127.3H285.6V126.6H287.4V123.2H289.2V118.1H291V112H292.8V105H294.6"/>
<path d="M64.2 163.5H66V163.4H67.8V163.4H69.6V163.4H71.4V163.4H73.2V163.4H75V163.4H76.8V163.4H78.6V163.4H80.4V163.3H82.2V163.3H84V163.3H85.8V163.3H87.6V163.2H89.4V163.2H91.2V163.2H93V163.1H94.8V163.1H96.6V163H98.4V163H100.2V162.9H102V162.8H103.8V162.7H105.6V162.6H107.4V162.5H109.2V162.4H111V162.2H112.8V162.1H114.6V161.9H116.4V161.7H118.2V161.4H120V161.2H121.8V160.9H123.6V160.5H125.4V160.1H127.2V159.7H129V159.2H130.8V158.6H132.6V157.9H134.4V157.2H136.2V156.4H138V155.4H139.8V154.4H141.6V153.2H143.4V151.8H145.2V150.3H147V148.6H148.8V146.6H150.6V144.4H152.4V141.8H154.2V139H156V135.8H157.8V132.1H159.6V128H161.4V123.3H163.2V118H165V112H166.8V105.2H168.6V97.6H170.4V88.9H172.2V79.1H174V68H175.8V55.4H177.6V41.2H179.4V133H181.2V129.9H183V128.8H184.8V129.5H186.6V131.2H188.4V133.4H190.2V135.8H192V138.2H193.8V140.4H195.6V142.5H197.4V144.4H199.2V146.1H201V147.7H202.8V149.1H204.6V150.4H206.4V109.7H208.2V113H210V111.6H211.8V106.8H213.6V99.8H215.4V91.4H217.2V81.8H219V71H220.8V58.8H222.6V45.1H224.4V134H226.2V130.9H228V129.9H229.8V130.6H231.6V132.2H233.4V134.4H235.2V136.7H237V139H238.8V141.2H240.6V143.2H242.4V145H244.2V146.7H246V148.2H247.8V149.6H249.6V150.9H251.4V111.4H253.2V114.6H255V113.3H256.8V108.6H258.6V101.8H260.4V93.7H262.2V84.4H264V74H265.8V62.2H267.6V48.9H269.4V134.9H271.2V132H273V131H274.8V131.6H276.6V133.2H278.4V135.3H280.2V137.6H282V139.8H283.8V141.9H285.6V143.8H287.4V145.6H289.2V147.2H291V148.7H292.8V150H294.6"/>
<path d="M64.2 163.4H66V163.3H67.8V163.3H69.6V163.3H71.4V163.3H73.2V163.2H75V163.2H76.8V163.2H78.6V163.1H80.4V163H82.2V163H84V162.9H85.8V162.8H87.6V162.7H89.4V162.6H91.2V162.5H93V162.3H94.8V162.1H96.6V161.9H98.4V161.7H100.2V161.4H102V161.1H103.8V160.8H105.6V160.4H107.4V159.9H109.2V159.4H111V158.8H112.8V158.1H114.6V157.3H116.4V156.4H118.2V155.3H120V154.1H121.8V152.8H123.6V151.2H125.4V149.4H127.2V147.3H129V144.9H130.8V142.2H132.6V139H134.4V135.4H136.2V131.3H138V126.5H139.8V121.1H141.6V114.9H143.4V107.7H145.2V99.5H147V90.1H148.8V79.3H150.6V66.9H152.4V52.6H154.2V140.2H156V137.6H157.8V136.7H159.6V137.2H161.4V138.7H163.2V140.6H165V142.6H166.8V144.6H168.6V146.4H170.4V148.1H172.2V149.7H174V151.1H175.8V152.4H177.6V153.5H179.4V154.5H181.2V119.5H183V122.5H184.8V121.1H186.6V116.6H188.4V110.1H190.2V102.2H192V93H193.8V82.6H195.6V70.7H197.4V57.1H199.2V41.5H201V137.9H202.8V135H204.6V134H206.4V134.6H208.2V136.2H210V138.2H211.8V140.5H213.6V142.7H215.4V144.7H217.2V146.6H219V148.3H220.8V149.9H222.6V151.2H224.4V152.5H226.2V153.6H228V115H229.8V118.3H231.6V116.9H233.4V111.9H235.2V104.7H237V96H238.8V85.9H240.6V74.5H242.4V61.4H244.2V46.4H246V138.9H247.8V136.1H249.6V135.1H251.4V135.7H253.2V137.3H255V139.3H256.8V141.4H258.6V143.5H260.4V145.5H262.2V147.3H264V148.9H265.8V150.4H267.6V151.7H269.4V152.9H271.2V154H273V116.9H274.8V120.1H276.6V118.7H278.4V113.9H280.2V107H282V98.7H283.8V89H285.6V78H287.4V65.5H289.2V51H291V139.9H292.8V137.2H294.6"/>
</g>
<path d="M64.2 163.4H66V163.4H67.8V163.3H69.6V163.3H71.4V163.3H73.2V163.3H75V163.2H76.8V163.2H78.6V163.1H80.4V163.1H82.2V163H84V162.9H85.8V162.8H87.6V162.7H89.4V162.6H91.2V162.5H93V162.3H94.8V162.1H96.6V161.9H98.4V161.7H100.2V161.4H102V161H103.8V160.7H105.6V160.2H107.4V159.7H109.2V159.1H111V158.4H112.8V157.6H114.6V156.7H116.4V155.7H118.2V154.4H120V153H121.8V151.4H123.6V149.5H125.4V147.3H127.2V144.8H129V141.9H130.8V138.5H132.6V134.6H134.4V130.1H136.2V124.9H138V118.9H139.8V112H141.6V104H143.4V94.7H145.2V84H147V71.6H148.8V57.2H150.6V40.7H152.4" fill="none" stroke="#74e043" stroke-width="1" />
<path d="M152.4 40.7V133H154.2V129.3H156V127.8H157.8V128.1H159.6V129.6H161.4V131.7H163.2V133.9H165V136.2H166.8V138.4H168.6V140.4H170.4V142.3H172.2V144.1H174V145.7H175.8V147.1H177.6" fill="none" stroke="#ff3a3a" stroke-width="1" />
<path d="M177.6 147.1V93.4H179.4V96.8H181.2V93.4H183V85H184.8V73.2H186.6V59.1H188.4V42.7H190.2" fill="none" stroke="#74e043" stroke-width="1" />
<path d="M190.2 42.7V133.5H192V129.8H193.8V128.3H195.6V128.7H197.4V130.2H199.2V132.2H201V134.4H202.8V136.7H204.6V138.8H206.4V140.8H208.2V142.7H210V144.4H211.8V145.9H213.6V147.4H215.4" fill="none" stroke="#ff3a3a" stroke-width="1" />
<path d="M215.4 147.4V94.5H217.2V97.8H219V94.5H220.8V86.2H222.6V74.7H224.4V60.8H226.2V44.6H228" fill="none" stroke="#74e043" stroke-width="1" />
<path d="M228 44.6V134H229.8V130.4H231.6V128.9H233.4V129.2H235.2V130.7H237V132.7H238.8V134.9H240.6V137.1H242.4V139.2H244.2V141.2H246V143H247.8V144.7H249.6V146.2H251.4V147.6H253.2" fill="none" stroke="#ff3a3a" stroke-width="1" />
<path d="M253.2 147.6V95.6H255V98.9H256.8V95.6H258.6V87.5H260.4V76.1H262.2V62.4H264V46.5H265.8" fill="none" stroke="#74e043" stroke-width="1" />
<path d="M265.8 46.5V134.5H267.6V130.9H269.4V129.4H271.2V129.8H273V131.2H274.8V133.2H276.6V135.4H278.4V137.5H280.2V139.6H282V141.5H283.8V143.3H285.6V145H287.4V146.5H289.2V147.9H291" fill="none" stroke="#ff3a3a" stroke-width="1" />
<path d="M291 147.9V96.7H292.8V99.9H294.6" fill="none" stroke="#74e043" stroke-width="1" />
<path d="M63.7 0L63.7 164.5" stroke="#5a5a5a" stroke-width="1.2" />
<path d="M63.1 164L306 164" stroke="#5a5a5a" stroke-width="1.2" />
<path d="M63.7 122.3L70.5 122.3" stroke="#8a8a8a" stroke-width="1" />
<text x="62" y="124.6" text-anchor="end" fill="#626262" textLength="24" lengthAdjust="spacingAndGlyphs">2500</text>
<path d="M63.7 80.9L70.5 80.9" stroke="#8a8a8a" stroke-width="1" />
<text x="62" y="83.2" text-anchor="end" fill="#626262" textLength="24" lengthAdjust="spacingAndGlyphs">5000</text>
<path d="M63.7 39.5L70.5 39.5" stroke="#8a8a8a" stroke-width="1" />
<text x="62" y="41.8" text-anchor="end" fill="#626262" textLength="24" lengthAdjust="spacingAndGlyphs">7500</text>
<path d="M153.6 164L153.6 157" stroke="#8a8a8a" stroke-width="1" />
<text x="153.6" y="175" text-anchor="middle" fill="#626262">50</text>
<path d="M244.4 164L244.4 157" stroke="#8a8a8a" stroke-width="1" />
<text x="244.4" y="175" text-anchor="middle" fill="#626262">100</text>
<text x="179.3" y="184.8" text-anchor="middle"><tspan font-style="italic">t</tspan> (days)</text>
<path d="M64 80.5L308 80.5" stroke="#3b3bff" stroke-width="1" stroke-dasharray="3.5 3.07"/>
<text x="68.6" y="76.8" fill="#3b3bff" textLength="33" lengthAdjust="spacingAndGlyphs">Target</text>
<text x="81.6" y="10.6" textLength="32.4" lengthAdjust="spacingAndGlyphs">Policy</text>
<path d="M81.2 18.2L89 18.2" stroke="#74e043" stroke-width="1.1" />
<text x="91.6" y="21.6" textLength="83.4" lengthAdjust="spacingAndGlyphs">No intervention</text>
<path d="M81.2 29.4L89 29.4" stroke="#ff3a3a" stroke-width="1.1" />
<text x="91.6" y="32.1" textLength="53.4" lengthAdjust="spacingAndGlyphs">Lockdown</text>
<rect x="417" y="1" width="126" height="163" fill="#eeefef"/>
<text x="477.5" y="103.3" text-anchor="middle" fill="#606060" textLength="58" lengthAdjust="spacingAndGlyphs">Control off</text>
<path d="M417.4 164H419.4V164H421.4V164H423.4V164H425.4V164H427.4V164H429.4V164H431.4V164H433.4V164H435.4V164H437.4V164H439.4V164H441.4V164H443.4V164H445.3V163.9H447.3V163.9H449.3V163.9H451.3V163.9H453.3V163.9H455.3V163.9H457.3V163.8H459.3V163.8H461.3V163.8H463.3V163.7H465.3V163.7H467.3V163.7H469.3V163.6H471.3V163.5H473.2V163.4H475.2V163.3H477.2V163.2H479.2V163.1H481.2V162.9H483.2V162.7H485.2V162.5H487.2V162.2H489.2V161.9H491.2V161.5H493.2V161H495.2V160.5H497.2V159.9H499.2V159.1H501.1V158.3H503.1V157.2H505.1V156H507.1V154.6H509.1V152.9H511.1V150.9H513.1V148.6H515.1V145.8H517.1V142.5H519.1V138.7H521.1V134.2H523.1V128.8H525.1V122.5H527.1V115.1H529V106.3H531V96H533V83.9H535V69.5H537V52.6H539V32.7H541V9.2H543" fill="none" stroke="#74e043" stroke-width="1" />
<path d="M543 9.2V129.7H545V124.9H547V122.7H549V123H551V124.7H553V127.1H555V129.8H557V132.5H558.9V135.1H560.9V137.6H562.9V139.8H564.9V141.9H566.9V143.7H568.9V145.5H570.9V147H572.9V148.5H574.9V149.8H576.9V151H578.9V152.1H580.9V153.1H582.9V154.1H584.9V154.9H586.8V155.7H588.8V156.4H590.8V157.1H592.8V157.7H594.8V158.2H596.8V158.7H598.8V159.1H600.8V159.6H602.8V159.9H604.8V160.3H606.8V160.6H608.8V160.9H610.8V161.2H612.8" fill="none" stroke="#ff3a3a" stroke-width="1" />
<path d="M612.8 161.2V152.6H614.7V153.2H616.7V152.8H618.7V151.7H620.7V150.1H622.7V148.2H624.7V146H626.7" fill="none" stroke="#74e043" stroke-width="1" />
<path d="M626.7 146V159.4H628.7V158.9H630.7V158.7H632.7V158.7H634.7V159H636.7V159.3H638.7V159.7H640.7V160H642.6V160.3H644.6V160.7H646.6" fill="none" stroke="#ff3a3a" stroke-width="1" />
<path d="M417 0L417 164.5" stroke="#5a5a5a" stroke-width="1.2" />
<path d="M416.4 164L656.4 164" stroke="#5a5a5a" stroke-width="1.2" />
<path d="M417 108.2L423.7 108.2" stroke="#8a8a8a" stroke-width="1" />
<text x="415" y="111.9" text-anchor="end" fill="#626262" textLength="30" lengthAdjust="spacingAndGlyphs">20000</text>
<path d="M417 52.4L423.7 52.4" stroke="#8a8a8a" stroke-width="1" />
<text x="415" y="56.1" text-anchor="end" fill="#626262" textLength="30" lengthAdjust="spacingAndGlyphs">40000</text>
<path d="M482.6 164L482.6 157" stroke="#8a8a8a" stroke-width="1" />
<text x="482.6" y="175" text-anchor="middle" fill="#626262">30</text>
<path d="M542.5 164L542.5 157" stroke="#8a8a8a" stroke-width="1" />
<text x="542.5" y="175" text-anchor="middle" fill="#626262">60</text>
<path d="M602.4 164L602.4 157" stroke="#8a8a8a" stroke-width="1" />
<text x="602.4" y="175" text-anchor="middle" fill="#626262">90</text>
<text x="541" y="184.8" text-anchor="middle"><tspan font-style="italic">t</tspan> (days)</text>
<path d="M417 150.5L659 150.5" stroke="#3b3bff" stroke-width="1" stroke-dasharray="3.5 3.07"/>
<text x="421" y="146.7" fill="#3b3bff" textLength="33.6" lengthAdjust="spacingAndGlyphs">Target</text>
<text x="423" y="10.6" textLength="32.4" lengthAdjust="spacingAndGlyphs">Policy</text>
<path d="M422.6 18.2L430.4 18.2" stroke="#74e043" stroke-width="1.1" />
<text x="433" y="21.6" textLength="83.4" lengthAdjust="spacingAndGlyphs">No intervention</text>
<path d="M422.6 29.4L430.4 29.4" stroke="#ff3a3a" stroke-width="1.1" />
<text x="433" y="32.1" textLength="53.4" lengthAdjust="spacingAndGlyphs">Lockdown</text>
<g clip-path="url(#clipC)" fill="none" stroke="#707070" stroke-width="0.5" stroke-opacity="0.065">
<path d="M132.7 357.3H134.5V357.4H136.3V357H138.1V356.8H140V357.1H141.8V355.7H143.6V356.1H145.4V356H147.2V356H149.1V355H150.9V356.8H152.7V354.8H154.5V354.3H156.4V356.7H158.2V353.8H160V354.5H161.8V350.7H163.6V353.9H165.5V352H167.3V349.3H169.1V353.1H170.9V344.2H172.8V347.6H174.6V340.4H176.4V347.1H178.2V339.1H180V327H181.9V330.2H183.7V311.6H185.5V291.4H187.3V269.9H189.2V348.4H191V316.1H192.8V328.5H194.6V339H196.4V348.2H198.3V320.2H200.1V350.9H201.9V337.5H203.7V328H205.6V353.4H207.4V348.8H209.2V353.4H211V347.1H212.8V335.7H214.7V329.7H216.5V355.4H218.3V353.2H220.1V348.5H222V343H223.8V351.2H225.6V354.8H227.4V352.7H229.2V353.9H231.1V354.6H232.9V355.6H234.7V353.9H236.5V354.4H238.3V355.3H240.2V353H242V356.2H243.8V356.1H245.6V353.9H247.5V355.8H249.3V356.6H251.1V351.2H252.9V353.1H254.7V343.2H256.6V353.1H258.4V353.8H260.2V355.2H262V341.3H263.9V314.9H265.7V352H267.5V350.3H269.3V338.5H271.1V348.7H273V342.6H274.8V340.9H276.6V329.9H278.4V326.6H280.3V322.6H282.1V264.3H283.9V318.7H285.7V297.1H287.5V346.1H289.4V341H291.2V291.9H293"/>
<path d="M132.7 357.1H134.5V357.1H136.3V356.8H138.1V356.8H140V356.3H141.8V357.1H143.6V355.6H145.4V356.7H147.2V356.6H149.1V356H150.9V356.1H152.7V354.6H154.5V355.6H156.4V355.9H158.2V355.3H160V347.1H161.8V352.2H163.6V354.7H165.5V350.4H167.3V354.5H169.1V326.5H170.9V355.3H172.8V339.4H174.6V329.4H176.4V349.9H178.2V334.8H180V324.1H181.9V335.6H183.7V340H185.5V332.4H187.3V343.8H189.2V343.5H191V348H192.8V343.4H194.6V352.9H196.4V344.5H198.3V352.4H200.1V354.3H201.9V350H203.7V341.3H205.6V348.3H207.4V354.3H209.2V351.1H211V354.7H212.8V354.4H214.7V354.3H216.5V356.9H218.3V354.6H220.1V356.3H222V356.2H223.8V356.8H225.6V356.8H227.4V356.6H229.2V355H231.1V353.6H232.9V356.3H234.7V355.3H236.5V355.4H238.3V357.1H240.2V356.5H242V356.5H243.8V356.8H245.6V356.2H247.5V355.7H249.3V356.7H251.1V356.9H252.9V355.8H254.7V355.5H256.6V355.3H258.4V351.5H260.2V346.1H262V354.2H263.9V349.5H265.7V346.6H267.5V346.5H269.3V341.5H271.1V350.1H273V339.6H274.8V309.2H276.6V332H278.4V351.4H280.3V326.7H282.1V287.4H283.9V318.7H285.7V337.3H287.5V283.1H289.4V346.3H291.2V325.4H293"/>
<path d="M132.7 357.1H134.5V357.2H136.3V356.3H138.1V357.2H140V356.9H141.8V353.2H143.6V357H145.4V357H147.2V356.5H149.1V356.3H150.9V355H152.7V355.7H154.5V356.3H156.4V354.9H158.2V342.6H160V350.3H161.8V356.9H163.6V353.6H165.5V354.6H167.3V348.6H169.1V351.3H170.9V328.9H172.8V340H174.6V337.5H176.4V342.7H178.2V350.5H180V337.2H181.9V301.3H183.7V323.7H185.5V339.4H187.3V309.2H189.2V335.6H191V340.8H192.8V348H194.6V347.5H196.4V348.9H198.3V355.6H200.1V337H201.9V343.7H203.7V350H205.6V342.1H207.4V348.1H209.2V349.4H211V356.4H212.8V353.1H214.7V350.9H216.5V345.5H218.3V344.9H220.1V348.9H222V356.1H223.8V356.8H225.6V353.9H227.4V355.2H229.2V353.7H231.1V355.8H232.9V355.6H234.7V356.9H236.5V355.7H238.3V356.6H240.2V356.1H242V356.2H243.8V355.2H245.6V355.7H247.5V356.6H249.3V356.3H251.1V356.3H252.9V356.8H254.7V356.7H256.6V353.1H258.4V355.9H260.2V353.8H262V354.5H263.9V355.6H265.7V355.6H267.5V353.5H269.3V352.4H271.1V349.9H273V354.9H274.8V352.8H276.6V349.8H278.4V330.4H280.3V355.1H282.1V349.3H283.9V347.7H285.7V330.1H287.5V342.7H289.4V332.9H291.2V307.6H293"/>
<path d="M132.7 356.9H134.5V357.4H136.3V357.2H138.1V357H140V356.4H141.8V355.9H143.6V356.9H145.4V356.9H147.2V356H149.1V356.5H150.9V356.3H152.7V353.9H154.5V351.3H156.4V354.6H158.2V355H160V352.6H161.8V356.3H163.6V352.9H165.5V354.8H167.3V327.4H169.1V345.5H170.9V347.9H172.8V352.9H174.6V355.2H176.4V329.6H178.2V307.3H180V347.1H181.9V333.2H183.7V334.5H185.5V352.7H187.3V335.4H189.2V331H191V345.9H192.8V348.8H194.6V343.7H196.4V354.7H198.3V350.2H200.1V345.1H201.9V355H203.7V347.6H205.6V353.9H207.4V356.4H209.2V353.8H211V355.6H212.8V353.5H214.7V356.1H216.5V352.2H218.3V356H220.1V354.7H222V356.1H223.8V356H225.6V353.9H227.4V355.7H229.2V356.4H231.1V356.9H232.9V355H234.7V355.8H236.5V356.7H238.3V356.5H240.2V357.1H242V356.6H243.8V356.9H245.6V356.6H247.5V356.8H249.3V357.1H251.1V356.2H252.9V355.9H254.7V356.3H256.6V355H258.4V356.3H260.2V355.9H262V354.7H263.9V355.1H265.7V352.7H267.5V356H269.3V347.6H271.1V354.7H273V352.6H274.8V354.9H276.6V346.5H278.4V337.4H280.3V347.1H282.1V337.3H283.9V351.1H285.7V347H287.5V345.2H289.4V349H291.2V327.8H293"/>
<path d="M132.7 357.4H134.5V357.2H136.3V357.3H138.1V356.7H140V357.2H141.8V356H143.6V356.4H145.4V357.3H147.2V355.8H149.1V354.1H150.9V356.6H152.7V354.3H154.5V356.9H156.4V354.8H158.2V356.6H160V353.1H161.8V356.3H163.6V356.7H165.5V350.8H167.3V330.8H169.1V352.7H170.9V343.3H172.8V347H174.6V348.2H176.4V337.5H178.2V311.8H180V353.4H181.9V327.7H183.7V319H185.5V345.4H187.3V274.5H189.2V261.3H191V344.1H192.8V286.8H194.6V335.9H196.4V340.5H198.3V311.8H200.1V339.4H201.9V340H203.7V322.9H205.6V330.4H207.4V338.5H209.2V353.6H211V354.3H212.8V340.9H214.7V353.5H216.5V350.2H218.3V354.5H220.1V352.7H222V355.4H223.8V344.6H225.6V355.4H227.4V354.1H229.2V354.5H231.1V350.9H232.9V356.4H234.7V355.1H236.5V352.4H238.3V352.6H240.2V354.5H242V356.1H243.8V355H245.6V355.5H247.5V353.5H249.3V354.2H251.1V354.8H252.9V352.8H254.7V350.4H256.6V328.8H258.4V351.9H260.2V346.4H262V330H263.9V354.3H265.7V352.8H267.5V349.6H269.3V338.8H271.1V250.1H273V321.8H274.8V286.4H276.6V324.6H278.4V353.1H280.3V346.4H282.1V241.3H283.9V274.4H285.7V327.3H287.5V243.9H289.4V335.3H291.2V250H293"/>
<path d="M132.7 357.3H134.5V357H136.3V357.1H138.1V357.2H140V357H141.8V357H143.6V355.5H145.4V356.8H147.2V356.6H149.1V351.9H150.9V356.3H152.7V352H154.5V351.7H156.4V354.9H158.2V356.1H160V352.1H161.8V350.2H163.6V347H165.5V350.6H167.3V340.5H169.1V334.9H170.9V355H172.8V328.6H174.6V338.4H176.4V345.8H178.2V344.5H180V306.9H181.9V331.5H183.7V353.6H185.5V345.5H187.3V348.1H189.2V349.2H191V351.5H192.8V354.5H194.6V345.4H196.4V354.1H198.3V353.1H200.1V354H201.9V354.6H203.7V350.7H205.6V352.6H207.4V355.3H209.2V355.8H211V355.4H212.8V352.8H214.7V355H216.5V355.1H218.3V356H220.1V356.1H222V355.7H223.8V357.1H225.6V354H227.4V356.8H229.2V356.8H231.1V355.3H232.9V356.5H234.7V356.7H236.5V356.2H238.3V357.1H240.2V356.7H242V356.2H243.8V357.1H245.6V355.5H247.5V357H249.3V356.8H251.1V355.6H252.9V355.9H254.7V354.6H256.6V356.1H258.4V356.2H260.2V356.6H262V355.9H263.9V355.4H265.7V355.5H267.5V350.3H269.3V353H271.1V355.3H273V335H274.8V351.6H276.6V350.8H278.4V323.8H280.3V326.9H282.1V351.2H283.9V352.8H285.7V351.7H287.5V336.4H289.4V350H291.2V352.6H293"/>
<path d="M132.7 356.5H134.5V357.2H136.3V357H138.1V356.6H140V355.9H141.8V356.7H143.6V356.6H145.4V356.6H147.2V357H149.1V355H150.9V356.3H152.7V357H154.5V355.8H156.4V356.8H158.2V356.1H160V354.4H161.8V355.5H163.6V349H165.5V355.6H167.3V350.6H169.1V347.6H170.9V336.7H172.8V340.3H174.6V344.6H176.4V350.3H178.2V342.6H180V309H181.9V342.5H183.7V326.7H185.5V338.1H187.3V335.2H189.2V342.7H191V292.9H192.8V347.9H194.6V341.6H196.4V342.7H198.3V340.7H200.1V343.6H201.9V345H203.7V341.1H205.6V354.5H207.4V350.2H209.2V354.5H211V350.4H212.8V354.9H214.7V354.8H216.5V353H218.3V347H220.1V351.9H222V353.2H223.8V349.5H225.6V355.9H227.4V356.8H229.2V355.6H231.1V355.6H232.9V352.9H234.7V349.9H236.5V356.8H238.3V349.6H240.2V347.8H242V353.9H243.8V355.8H245.6V352.1H247.5V356.1H249.3V356.4H251.1V355.6H252.9V356.6H254.7V354.2H256.6V354.8H258.4V353.3H260.2V352.5H262V355.2H263.9V344.8H265.7V354.2H267.5V344.3H269.3V354.4H271.1V344.5H273V350.5H274.8V343.1H276.6V346.7H278.4V352.8H280.3V351.7H282.1V329.2H283.9V297.1H285.7V342.1H287.5V347.9H289.4V337.2H291.2V328.5H293"/>
<path d="M132.7 356.7H134.5V357.1H136.3V356.7H138.1V357.2H140V356.6H141.8V356.8H143.6V356.1H145.4V356.1H147.2V356.9H149.1V357H150.9V356.5H152.7V353.8H154.5V354H156.4V353.5H158.2V356.5H160V356.8H161.8V354.2H163.6V352.8H165.5V352.9H167.3V347.6H169.1V349.2H170.9V352.5H172.8V350.4H174.6V349.7H176.4V340.6H178.2V334.7H180V254.4H181.9V338.6H183.7V334.9H185.5V347.5H187.3V343.7H189.2V335.2H191V336.7H192.8V345.8H194.6V342.3H196.4V346.5H198.3V354.7H200.1V356.5H201.9V322.2H203.7V345.3H205.6V351.3H207.4V355.6H209.2V355.2H211V346H212.8V356.8H214.7V354.4H216.5V351.3H218.3V354H220.1V352.8H222V355.1H223.8V346.4H225.6V356.4H227.4V356.7H229.2V355.4H231.1V353.5H232.9V356.1H234.7V355H236.5V356.7H238.3V356.2H240.2V353.4H242V354.6H243.8V355.2H245.6V356.8H247.5V357H249.3V356.9H251.1V356.1H252.9V354.8H254.7V354.5H256.6V356.5H258.4V354.1H260.2V354H262V353.2H263.9V352.8H265.7V352.6H267.5V347.9H269.3V349.2H271.1V347.2H273V350.9H274.8V349.9H276.6V345.2H278.4V352.5H280.3V330.8H282.1V341.9H283.9V326H285.7V343.2H287.5V343.9H289.4V342.5H291.2V345.7H293"/>
<path d="M132.7 357.2H134.5V357.2H136.3V357H138.1V357.3H140V356.9H141.8V356.4H143.6V356.6H145.4V356.9H147.2V356.7H149.1V356H150.9V355.3H152.7V354.3H154.5V355.5H156.4V356.4H158.2V349.9H160V353.3H161.8V352.2H163.6V351.7H165.5V354.6H167.3V352.2H169.1V348.4H170.9V339.9H172.8V346.6H174.6V355.9H176.4V345.2H178.2V336.4H180V336.6H181.9V325.1H183.7V238.8H185.5V282.3H187.3V289.6H189.2V309.1H191V347.7H192.8V319.8H194.6V328.5H196.4V344.9H198.3V334.2H200.1V338.7H201.9V348H203.7V346.8H205.6V348.7H207.4V346.6H209.2V351.1H211V346.7H212.8V355.5H214.7V352.4H216.5V355.6H218.3V353.9H220.1V351.3H222V353.4H223.8V354.2H225.6V354.1H227.4V349.4H229.2V356.2H231.1V353.3H232.9V356.7H234.7V356.1H236.5V355.6H238.3V356.6H240.2V353.1H242V353.9H243.8V356.8H245.6V356.4H247.5V356.4H249.3V357H251.1V355.8H252.9V356.2H254.7V351.3H256.6V355.8H258.4V346.8H260.2V354.6H262V340.4H263.9V349.4H265.7V348.6H267.5V344.4H269.3V341.1H271.1V345.3H273V323.4H274.8V344.4H276.6V350.3H278.4V354.8H280.3V346.5H282.1V336.2H283.9V342.5H285.7V346H287.5V349.9H289.4V351.8H291.2V351H293"/>
<path d="M132.7 357.2H134.5V357.1H136.3V356.8H138.1V357.1H140V357.2H141.8V356.5H143.6V356.5H145.4V357.2H147.2V356.7H149.1V356.1H150.9V356.2H152.7V355.3H154.5V354.4H156.4V354.4H158.2V355.2H160V356.3H161.8V352.3H163.6V347.3H165.5V340.2H167.3V352H169.1V351H170.9V337.6H172.8V334.3H174.6V344.2H176.4V337.6H178.2V353.4H180V335.4H181.9V344.4H183.7V337.4H185.5V338.1H187.3V343.2H189.2V353H191V348.1H192.8V339.4H194.6V344.9H196.4V348.3H198.3V343.4H200.1V342.5H201.9V342.6H203.7V352.9H205.6V350.4H207.4V352.5H209.2V354.3H211V355.6H212.8V353.2H214.7V355.2H216.5V342.5H218.3V354.4H220.1V354.9H222V355.4H223.8V349.4H225.6V356.3H227.4V355.8H229.2V356.4H231.1V356.1H232.9V356.1H234.7V354.9H236.5V357H238.3V356.5H240.2V354.9H242V355.8H243.8V356.3H245.6V357H247.5V357.4H249.3V356.7H251.1V355.4H252.9V356.6H254.7V357.1H256.6V355.6H258.4V355.5H260.2V353.2H262V352.8H263.9V354.9H265.7V352.8H267.5V356.2H269.3V347.2H271.1V350.9H273V343.6H274.8V341.4H276.6V349.7H278.4V347.4H280.3V354.2H282.1V354H283.9V339.3H285.7V335.9H287.5V348.3H289.4V330.2H291.2V340.7H293"/>
<path d="M132.7 357.3H134.5V357.3H136.3V357.1H138.1V356.4H140V356.9H141.8V356.3H143.6V354.8H145.4V355H147.2V354.3H149.1V354.2H150.9V356.9H152.7V353H154.5V354.5H156.4V354.9H158.2V355.9H160V356.1H161.8V355.3H163.6V352.2H165.5V354.6H167.3V353.1H169.1V351.7H170.9V341.7H172.8V347.6H174.6V351.4H176.4V321.6H178.2V339.2H180V324.7H181.9V346.8H183.7V333.1H185.5V337.9H187.3V339H189.2V346.4H191V350.6H192.8V347.4H194.6V349.3H196.4V337.8H198.3V341.1H200.1V353.7H201.9V346.3H203.7V352.6H205.6V349.3H207.4V353.5H209.2V355.6H211V348.8H212.8V352H214.7V355.8H216.5V356.5H218.3V355.4H220.1V356.2H222V355.6H223.8V354.2H225.6V352.3H227.4V356.1H229.2V353.5H231.1V354.3H232.9V356.5H234.7V356.4H236.5V354.1H238.3V355.7H240.2V352.8H242V354.5H243.8V355.2H245.6V352.6H247.5V356.5H249.3V354.9H251.1V355.3H252.9V347.7H254.7V352.2H256.6V356.9H258.4V345.1H260.2V354.2H262V345.9H263.9V351.5H265.7V346.1H267.5V340.3H269.3V342.3H271.1V349H273V311.7H274.8V329.4H276.6V345.6H278.4V314.2H280.3V328.8H282.1V243.5H283.9V313.1H285.7V312.2H287.5V316.4H289.4V341H291.2V344.9H293"/>
<path d="M132.7 357.1H134.5V356.8H136.3V357H138.1V356.9H140V355.5H141.8V356.8H143.6V356H145.4V356.4H147.2V356.6H149.1V356.4H150.9V356.5H152.7V355.5H154.5V355.9H156.4V355.4H158.2V350.5H160V354.1H161.8V348.4H163.6V351.4H165.5V347H167.3V352.8H169.1V348.4H170.9V303.8H172.8V338.1H174.6V331.9H176.4V339.3H178.2V325.5H180V347.4H181.9V350.2H183.7V319.4H185.5V284.5H187.3V325H189.2V321.6H191V327.6H192.8V326.6H194.6V342.8H196.4V346H198.3V332.3H200.1V349.7H201.9V345.8H203.7V344.4H205.6V348.3H207.4V338.1H209.2V346.2H211V344.4H212.8V351H214.7V350.5H216.5V343H218.3V345.6H220.1V351.2H222V347.6H223.8V349.5H225.6V350.4H227.4V341.1H229.2V353.4H231.1V351.2H232.9V351.7H234.7V354.1H236.5V355.8H238.3V352.3H240.2V348.4H242V352.8H243.8V354.6H245.6V355.1H247.5V355.9H249.3V353.5H251.1V356.3H252.9V353.1H254.7V355.5H256.6V352.6H258.4V345.9H260.2V350.3H262V350.2H263.9V341.1H265.7V346H267.5V345.1H269.3V342.9H271.1V298.3H273V317.5H274.8V315.9H276.6V341H278.4V326H280.3V336.8H282.1V260.3H283.9V323.4H285.7V212.8H287.5V336.4H289.4V246.1H291.2V268.1H293"/>
<path d="M132.7 357.4H134.5V357.2H136.3V356.9H138.1V357.3H140V357.3H141.8V356.5H143.6V356.7H145.4V356.7H147.2V356.4H149.1V356.9H150.9V348.1H152.7V356.6H154.5V356.1H156.4V356.6H158.2V355.5H160V349.4H161.8V354H163.6V351.5H165.5V354H167.3V339.5H169.1V350.3H170.9V354.2H172.8V343.1H174.6V349.5H176.4V348.6H178.2V342.7H180V333.8H181.9V335.9H183.7V347.1H185.5V350.9H187.3V327.1H189.2V344H191V341.4H192.8V348.5H194.6V354.5H196.4V353.1H198.3V335H200.1V352.6H201.9V351.7H203.7V354.9H205.6V353.1H207.4V353.1H209.2V353.1H211V353.1H212.8V354.7H214.7V354.9H216.5V354.1H218.3V353.7H220.1V355H222V349.7H223.8V354.9H225.6V355.2H227.4V356.3H229.2V354.2H231.1V356.7H232.9V357H234.7V356.8H236.5V353.1H238.3V356.7H240.2V355H242V356.6H243.8V357.1H245.6V356.5H247.5V353H249.3V356.6H251.1V356.7H252.9V354.4H254.7V351.5H256.6V351.7H258.4V354.7H260.2V352.9H262V351.7H263.9V345.7H265.7V331.7H267.5V350.6H269.3V337.4H271.1V353.4H273V340.6H274.8V348.2H276.6V347.2H278.4V336.5H280.3V349.1H282.1V333H283.9V348.7H285.7V345.5H287.5V347.7H289.4V349.9H291.2V348.2H293"/>
<path d="M132.7 357.4H134.5V356.8H136.3V356.1H138.1V357.2H140V356.8H141.8V356.3H143.6V354.5H145.4V357.3H147.2V356.3H149.1V355.6H150.9V356.9H152.7V355.3H154.5V355.2H156.4V353.7H158.2V355.6H160V353.2H161.8V354.9H163.6V350.7H165.5V351.6H167.3V352.6H169.1V354.5H170.9V332H172.8V336.4H174.6V336.1H176.4V348.3H178.2V344.2H180V299.3H181.9V336.2H183.7V340.3H185.5V311.4H187.3V308.6H189.2V319.7H191V335.5H192.8V271.5H194.6V305.7H196.4V328.7H198.3V346.6H200.1V338.3H201.9V331.6H203.7V315.3H205.6V340H207.4V315.3H209.2V336.7H211V346.7H212.8V354.9H214.7V350.5H216.5V352.2H218.3V345.8H220.1V342.7H222V330.4H223.8V347.4H225.6V353.1H227.4V317.5H229.2V347.7H231.1V351.2H232.9V344.4H234.7V353.6H236.5V348.4H238.3V351.1H240.2V340.9H242V343.3H243.8V343.1H245.6V335.6H247.5V348.1H249.3V347.5H251.1V342.3H252.9V349.3H254.7V337.6H256.6V336.8H258.4V310.8H260.2V322.2H262V345.4H263.9V307.2H265.7V240.9H267.5V336.7H269.3V308.3H271.1V261.6H273V310.4H274.8V265.5H276.6V236.5H278.4V280.2H280.3V206.7H282.1V228.6H283.9V241.7H285.7V135.6H287.5V-10.5H289.4V158.8H291.2V107.6H293"/>
<path d="M132.7 356.9H134.5V357.1H136.3V356.7H138.1V357H140V357.1H141.8V356.9H143.6V356.9H145.4V356.7H147.2V354.9H149.1V356.9H150.9V357H152.7V355.8H154.5V351.4H156.4V352.8H158.2V350.9H160V350.1H161.8V355.1H163.6V352.6H165.5V356.6H167.3V353.3H169.1V346.5H170.9V356H172.8V355H174.6V351.4H176.4V341.2H178.2V328.7H180V289.9H181.9V328.1H183.7V353.5H185.5V355.4H187.3V347.8H189.2V341.6H191V355H192.8V352.8H194.6V353H196.4V351.9H198.3V353.1H200.1V351.2H201.9V349.4H203.7V353.6H205.6V352H207.4V346.4H209.2V356.1H211V356.2H212.8V354.3H214.7V350.6H216.5V355.4H218.3V354H220.1V356.2H222V355H223.8V356.7H225.6V355.7H227.4V356.1H229.2V356.3H231.1V355.4H232.9V355.9H234.7V357H236.5V356.4H238.3V357.3H240.2V354.8H242V352.5H243.8V356.7H245.6V356.9H247.5V357H249.3V356.4H251.1V357H252.9V356.2H254.7V356.7H256.6V356.6H258.4V356H260.2V355.9H262V356.9H263.9V348.8H265.7V354.6H267.5V356.5H269.3V350.1H271.1V353.3H273V351.7H274.8V348.1H276.6V353.6H278.4V356.3H280.3V348.5H282.1V351.1H283.9V333.6H285.7V346.2H287.5V342.1H289.4V334.8H291.2V344.2H293"/>
<path d="M132.7 356.2H134.5V357.4H136.3V357.2H138.1V357.4H140V356.7H141.8V356.2H143.6V355.8H145.4V355.9H147.2V356.6H149.1V351.8H150.9V354.9H152.7V355.4H154.5V356.1H156.4V353H158.2V354.6H160V354H161.8V351.2H163.6V350.1H165.5V353.1H167.3V337.7H169.1V352.1H170.9V351.7H172.8V348.8H174.6V339.9H176.4V332.3H178.2V339.2H180V334.1H181.9V342.8H183.7V350.8H185.5V328.5H187.3V349H189.2V344.6H191V335.6H192.8V344.9H194.6V290.5H196.4V353.4H198.3V351.8H200.1V348.5H201.9V338.8H203.7V351.5H205.6V355H207.4V345.2H209.2V354.6H211V353.3H212.8V349.7H214.7V354.9H216.5V354.8H218.3V353H220.1V354.9H222V354.2H223.8V356.2H225.6V355.4H227.4V356.5H229.2V356.8H231.1V352.2H232.9V355.4H234.7V354.9H236.5V356.8H238.3V356.4H240.2V355.2H242V356.9H243.8V356.1H245.6V357H247.5V356.6H249.3V357.1H251.1V354.9H252.9V354.9H254.7V355.1H256.6V356.3H258.4V355.7H260.2V350.9H262V354.6H263.9V352.7H265.7V352.3H267.5V354.8H269.3V339.9H271.1V355.4H273V347.1H274.8V352.5H276.6V353.3H278.4V335.2H280.3V332.5H282.1V339.9H283.9V348.2H285.7V337.8H287.5V329.7H289.4V343.3H291.2V323.2H293"/>
<path d="M132.7 357.1H134.5V357.1H136.3V357.2H138.1V357.1H140V356.8H141.8V356.6H143.6V356.3H145.4V355.9H147.2V356.2H149.1V355.6H150.9V356.3H152.7V355.9H154.5V353.2H156.4V356.8H158.2V353.7H160V330H161.8V356.3H163.6V344.6H165.5V355.7H167.3V349.1H169.1V335.1H170.9V333.5H172.8V351.6H174.6V352.1H176.4V351.7H178.2V330H180V349.5H181.9V334.1H183.7V316.5H185.5V312.6H187.3V311H189.2V324.2H191V347.5H192.8V290.5H194.6V353.5H196.4V309.1H198.3V344.1H200.1V341.6H201.9V345.8H203.7V345.7H205.6V344H207.4V347.1H209.2V351.9H211V339.4H212.8V351H214.7V336.8H216.5V350.4H218.3V353H220.1V348.8H222V346.9H223.8V354.5H225.6V353.4H227.4V346.1H229.2V355.3H231.1V355.3H232.9V353.7H234.7V356.1H236.5V356.9H238.3V355.3H240.2V352.5H242V353.7H243.8V354.4H245.6V354.4H247.5V356.2H249.3V352.2H251.1V349.1H252.9V354.5H254.7V347.3H256.6V352.4H258.4V348.9H260.2V346.1H262V353.5H263.9V325.4H265.7V349.1H267.5V341.4H269.3V342.9H271.1V325.6H273V320.6H274.8V324.2H276.6V260.8H278.4V303H280.3V336.6H282.1V348H283.9V281H285.7V282H287.5V308H289.4V310.8H291.2V251.3H293"/>
<path d="M132.7 356.3H134.5V357H136.3V357.2H138.1V357.2H140V355H141.8V354.8H143.6V357H145.4V356.4H147.2V355.1H149.1V356.9H150.9V356.5H152.7V353.4H154.5V356.2H156.4V355.7H158.2V356.4H160V355.5H161.8V351.6H163.6V354.9H165.5V355.3H167.3V353.4H169.1V334.4H170.9V347.9H172.8V350.5H174.6V344.4H176.4V338.9H178.2V339.8H180V354.3H181.9V329H183.7V327H185.5V297H187.3V343.7H189.2V295.1H191V336.4H192.8V348.7H194.6V298.3H196.4V341.2H198.3V330.8H200.1V340.2H201.9V321.4H203.7V324.1H205.6V326.6H207.4V335.7H209.2V353.1H211V353.7H212.8V345.4H214.7V352.3H216.5V345.4H218.3V348.4H220.1V354.5H222V354H223.8V354.5H225.6V354.3H227.4V352.9H229.2V349.9H231.1V346.7H232.9V355.3H234.7V354.9H236.5V347.9H238.3V351.8H240.2V349.3H242V356.6H243.8V356.1H245.6V355H247.5V355.7H249.3V346H251.1V353.6H252.9V352.3H254.7V355H256.6V354.5H258.4V353H260.2V352H262V349.1H263.9V342.9H265.7V341.7H267.5V326.9H269.3V349.8H271.1V332.3H273V341.3H274.8V267.9H276.6V316.6H278.4V299.4H280.3V331.1H282.1V301.5H283.9V306.3H285.7V333.4H287.5V332.4H289.4V327.3H291.2V316.1H293"/>
<path d="M132.7 357.1H134.5V356.4H136.3V356.6H138.1V356.9H140V355.7H141.8V355.8H143.6V356.7H145.4V357H147.2V356.4H149.1V354.8H150.9V355.7H152.7V349.7H154.5V354.1H156.4V353.7H158.2V352.4H160V354.9H161.8V352.6H163.6V353.5H165.5V355.9H167.3V354.9H169.1V341.5H170.9V352.9H172.8V344.8H174.6V349.7H176.4V343.7H178.2V325.1H180V338.1H181.9V345.5H183.7V315.4H185.5V343.9H187.3V347.2H189.2V332.5H191V354H192.8V343.4H194.6V353.2H196.4V352.6H198.3V352.7H200.1V350H201.9V350.8H203.7V350.5H205.6V351.5H207.4V345.6H209.2V344.4H211V351.2H212.8V351.6H214.7V354.9H216.5V356H218.3V353.5H220.1V354.9H222V353.5H223.8V356.9H225.6V346.5H227.4V356.7H229.2V355.9H231.1V354.7H232.9V357H234.7V356.7H236.5V356.8H238.3V356.9H240.2V357.2H242V356.6H243.8V356.3H245.6V356.6H247.5V354.5H249.3V353.7H251.1V355.7H252.9V355.7H254.7V355.5H256.6V355.4H258.4V349.7H260.2V353H262V353.9H263.9V353H265.7V348.7H267.5V352H269.3V347.2H271.1V348H273V329.8H274.8V329.1H276.6V351.4H278.4V341.2H280.3V323.8H282.1V347.7H283.9V307.1H285.7V302.6H287.5V293.2H289.4V317.5H291.2V309.8H293"/>
<path d="M132.7 357.3H134.5V357.1H136.3V357.4H138.1V356.7H140V357H141.8V356.8H143.6V355.9H145.4V356.8H147.2V355.6H149.1V356.6H150.9V355.5H152.7V356.2H154.5V355.1H156.4V351.6H158.2V355.7H160V355.4H161.8V354.5H163.6V352.2H165.5V326.9H167.3V353.4H169.1V355.6H170.9V352.1H172.8V354H174.6V349.6H176.4V343.9H178.2V349.1H180V352.1H181.9V351.8H183.7V325.4H185.5V340.2H187.3V303.1H189.2V308.1H191V344.6H192.8V341.2H194.6V338.1H196.4V329.8H198.3V352.4H200.1V344.4H201.9V315.7H203.7V346.9H205.6V345.8H207.4V348.4H209.2V353.7H211V343.8H212.8V349.6H214.7V350.8H216.5V348.8H218.3V349.4H220.1V356.2H222V352.1H223.8V355.1H225.6V354H227.4V355.7H229.2V356H231.1V353.1H232.9V355.4H234.7V355.9H236.5V356.1H238.3V355.9H240.2V356.1H242V357.2H243.8V355.7H245.6V355.9H247.5V355.6H249.3V355.1H251.1V356.9H252.9V352.7H254.7V355.8H256.6V354.9H258.4V355.9H260.2V355.7H262V349.7H263.9V354.4H265.7V353.5H267.5V346.9H269.3V339.5H271.1V354.9H273V350.4H274.8V348.1H276.6V321.1H278.4V327.6H280.3V344.3H282.1V331.7H283.9V322.3H285.7V317.2H287.5V343.1H289.4V329.2H291.2V348.1H293"/>
<path d="M132.7 356.9H134.5V357.1H136.3V357.2H138.1V357H140V355.9H141.8V357H143.6V356.6H145.4V356.9H147.2V354.8H149.1V356.3H150.9V354.7H152.7V354.8H154.5V356H156.4V353.5H158.2V352.1H160V355.9H161.8V351.3H163.6V311H165.5V353.2H167.3V348.2H169.1V354.5H170.9V346.4H172.8V351H174.6V339.1H176.4V345H178.2V350.6H180V321.8H181.9V348.9H183.7V346.1H185.5V323.2H187.3V340.3H189.2V317.7H191V330.2H192.8V337H194.6V320.8H196.4V348.2H198.3V320.8H200.1V352.8H201.9V312.2H203.7V341.4H205.6V346.7H207.4V350.3H209.2V342.5H211V349H212.8V349.9H214.7V342.4H216.5V352.3H218.3V352.1H220.1V350H222V347.2H223.8V353.4H225.6V352.9H227.4V353.7H229.2V352.1H231.1V349.5H232.9V356H234.7V351.6H236.5V353.9H238.3V354H240.2V352.3H242V355.3H243.8V354.5H245.6V351.2H247.5V356H249.3V355.1H251.1V354H252.9V352.1H254.7V350.1H256.6V352.3H258.4V330.5H260.2V351.3H262V347.4H263.9V330.3H265.7V331.8H267.5V339.7H269.3V330.8H271.1V316.1H273V329.7H274.8V307.7H276.6V336.9H278.4V311.7H280.3V340.3H282.1V341.5H283.9V327H285.7V219.3H287.5V288.2H289.4V252.1H291.2V312.5H293"/>
<path d="M132.7 356.2H134.5V357.3H136.3V356.6H138.1V357.1H140V356.5H141.8V356.2H143.6V355.7H145.4V354.4H147.2V356.7H149.1V346.3H150.9V354.9H152.7V356.2H154.5V356.4H156.4V342.4H158.2V346.4H160V353.2H161.8V349H163.6V343.1H165.5V350H167.3V351.3H169.1V348H170.9V337.6H172.8V350.8H174.6V350.9H176.4V320.8H178.2V350.5H180V344.8H181.9V312.9H183.7V336.4H185.5V338.3H187.3V341.4H189.2V330.4H191V345.5H192.8V354.4H194.6V345.5H196.4V356.3H198.3V355.3H200.1V335.6H201.9V343.7H203.7V352.9H205.6V352.1H207.4V352H209.2V348.3H211V354.9H212.8V355.3H214.7V355.2H216.5V354H218.3V354.1H220.1V355.5H222V353.6H223.8V356.4H225.6V355.6H227.4V356.4H229.2V356.7H231.1V354.2H232.9V356.4H234.7V356.9H236.5V354.6H238.3V356.6H240.2V355.9H242V355.9H243.8V355.5H245.6V356.9H247.5V356.2H249.3V351.8H251.1V355.8H252.9V352.2H254.7V350.1H256.6V356.2H258.4V349.3H260.2V350.4H262V348.5H263.9V339.3H265.7V348.1H267.5V349H269.3V343.2H271.1V348.6H273V339.4H274.8V353.5H276.6V301H278.4V350.2H280.3V323.8H282.1V314.5H283.9V320.5H285.7V322H287.5V325.4H289.4V348H291.2V339.5H293"/>
<path d="M132.7 357H134.5V356.5H136.3V356.6H138.1V356.5H140V355.5H141.8V357.2H143.6V357.1H145.4V357.2H147.2V355.2H149.1V357.1H150.9V355.7H152.7V353.9H154.5V356.5H156.4V355.5H158.2V354.5H160V350.6H161.8V355.7H163.6V350.2H165.5V346.5H167.3V348.5H169.1V346.8H170.9V331.8H172.8V350.4H174.6V343.7H176.4V340.8H178.2V326H180V341.3H181.9V329.6H183.7V339.7H185.5V325.7H187.3V349.3H189.2V344.4H191V343.3H192.8V344.1H194.6V338.2H196.4V346.7H198.3V343.9H200.1V333H201.9V346.8H203.7V354.7H205.6V355.5H207.4V350.5H209.2V354.3H211V353H212.8V354.5H214.7V350.4H216.5V351.6H218.3V356.3H220.1V354.9H222V355.9H223.8V356.7H225.6V355H227.4V356.2H229.2V355.7H231.1V351.5H232.9V354.9H234.7V355.5H236.5V356.8H238.3V357.1H240.2V355.9H242V357H243.8V355.8H245.6V356.7H247.5V356.8H249.3V355H251.1V357H252.9V356.9H254.7V356.5H256.6V356.3H258.4V357H260.2V357.1H262V356.4H263.9V355.9H265.7V356.2H267.5V356.1H269.3V355.8H271.1V356.2H273V354H274.8V355.5H276.6V353.6H278.4V350.8H280.3V353H282.1V355.6H283.9V354.2H285.7V353.8H287.5V351.9H289.4V356.4H291.2V353.2H293"/>
<path d="M132.7 356.9H134.5V357.2H136.3V357.3H138.1V357.1H140V356.8H141.8V356.3H143.6V353.7H145.4V356.7H147.2V356.3H149.1V356.5H150.9V355.9H152.7V356.1H154.5V356.5H156.4V352.9H158.2V354.4H160V350H161.8V354.7H163.6V352.1H165.5V349.4H167.3V355.6H169.1V354.4H170.9V343.7H172.8V346.9H174.6V353.9H176.4V353.2H178.2V349.5H180V340.4H181.9V295.3H183.7V342.3H185.5V281.9H187.3V341.4H189.2V346.7H191V314.1H192.8V330.9H194.6V325.6H196.4V315.7H198.3V335.9H200.1V335.7H201.9V354.5H203.7V352.6H205.6V347.5H207.4V349.7H209.2V347.6H211V353.3H212.8V347H214.7V340.3H216.5V351.3H218.3V350.8H220.1V352.6H222V351.7H223.8V354.1H225.6V355.6H227.4V354.8H229.2V355.1H231.1V356.7H232.9V355.4H234.7V355.8H236.5V355.8H238.3V355.1H240.2V354.7H242V355.6H243.8V356.8H245.6V356H247.5V355.1H249.3V354.7H251.1V356.4H252.9V356.3H254.7V354.7H256.6V355.9H258.4V338.8H260.2V354.9H262V354.4H263.9V348.5H265.7V352.4H267.5V355.7H269.3V348.9H271.1V351.7H273V348.3H274.8V352.2H276.6V352.5H278.4V339.5H280.3V329.3H282.1V343.2H283.9V340H285.7V342.5H287.5V331.5H289.4V337.7H291.2V348.6H293"/>
<path d="M132.7 357.2H134.5V357.2H136.3V357.3H138.1V355H140V357H141.8V356.6H143.6V356.6H145.4V357.1H147.2V356.7H149.1V355.9H150.9V354.5H152.7V356H154.5V354.6H156.4V355.4H158.2V352.9H160V356.8H161.8V351.1H163.6V354.1H165.5V353.4H167.3V356.4H169.1V353.3H170.9V343.1H172.8V307H174.6V353.5H176.4V348.1H178.2V328.1H180V332H181.9V343.7H183.7V340.6H185.5V344H187.3V334H189.2V333.6H191V317.1H192.8V336.3H194.6V341.1H196.4V346.8H198.3V341.5H200.1V353.3H201.9V328.7H203.7V349.7H205.6V342.9H207.4V354.3H209.2V348.2H211V351.9H212.8V354H214.7V355.2H216.5V355.7H218.3V348.3H220.1V351.8H222V355H223.8V355.1H225.6V356.3H227.4V357H229.2V357H231.1V356.5H232.9V354.3H234.7V356.5H236.5V355.3H238.3V356H240.2V356.1H242V357H243.8V356H245.6V355.5H247.5V356.4H249.3V356.8H251.1V345.8H252.9V351.6H254.7V353.9H256.6V342.1H258.4V344.3H260.2V347.4H262V347.2H263.9V340.2H265.7V325.9H267.5V342.5H269.3V343H271.1V328.5H273V355.7H274.8V331H276.6V328.9H278.4V321.1H280.3V326.4H282.1V316.8H283.9V325.4H285.7V328.9H287.5V334.7H289.4V327.3H291.2V342.9H293"/>
<path d="M132.7 357.5H134.5V357.4H136.3V356.3H138.1V357H140V356.8H141.8V356.9H143.6V356.4H145.4V357.2H147.2V357.2H149.1V357H150.9V355.8H152.7V354.4H154.5V354.3H156.4V355H158.2V356.1H160V351.2H161.8V353.8H163.6V352.3H165.5V351.6H167.3V352.2H169.1V352.2H170.9V350.7H172.8V352.4H174.6V350.2H176.4V344.9H178.2V316.9H180V351.1H181.9V315.4H183.7V340.1H185.5V342.5H187.3V348.5H189.2V349.5H191V352.8H192.8V337.6H194.6V348.8H196.4V343.2H198.3V343.6H200.1V352.2H201.9V351.9H203.7V352.8H205.6V347.1H207.4V352.3H209.2V352.7H211V351.3H212.8V354.2H214.7V345.7H216.5V356H218.3V351.8H220.1V351.8H222V356.5H223.8V354.3H225.6V355.5H227.4V354.9H229.2V356.9H231.1V356.1H232.9V356.9H234.7V356.7H236.5V351.1H238.3V356.1H240.2V357.3H242V357.2H243.8V357.1H245.6V355.4H247.5V356.7H249.3V357H251.1V353.9H252.9V355.1H254.7V354.4H256.6V355.8H258.4V349H260.2V353.8H262V356.2H263.9V354.9H265.7V353.8H267.5V350.6H269.3V342.8H271.1V350.9H273V349.1H274.8V296.4H276.6V339.4H278.4V343.2H280.3V333.2H282.1V352H283.9V317.2H285.7V278.1H287.5V328.9H289.4V281.4H291.2V327H293"/>
<path d="M132.7 357.2H134.5V357.3H136.3V357.4H138.1V356.5H140V357H141.8V356.9H143.6V357H145.4V355.8H147.2V352.7H149.1V355.4H150.9V354.4H152.7V356.6H154.5V354.9H156.4V354.3H158.2V349.1H160V353.7H161.8V355.1H163.6V352.5H165.5V352.9H167.3V339.3H169.1V344.6H170.9V345.3H172.8V351.3H174.6V336H176.4V344.1H178.2V347.4H180V352.4H181.9V322.5H183.7V336.9H185.5V337H187.3V344.9H189.2V324.7H191V352.2H192.8V337.6H194.6V352.7H196.4V351.9H198.3V354.4H200.1V351H201.9V352.9H203.7V350.9H205.6V354.4H207.4V355.8H209.2V352.2H211V349.8H212.8V352.6H214.7V354.9H216.5V354.3H218.3V356.8H220.1V355.9H222V353.6H223.8V355.3H225.6V356.6H227.4V355.2H229.2V356.4H231.1V355.7H232.9V357.1H234.7V356.9H236.5V356.5H238.3V355.1H240.2V355.8H242V356.8H243.8V357H245.6V356.5H247.5V356H249.3V357.1H251.1V356.6H252.9V356.3H254.7V355.7H256.6V353.9H258.4V356.6H260.2V353.8H262V356.5H263.9V355.3H265.7V354.5H267.5V353.4H269.3V353.6H271.1V355.2H273V351.6H274.8V348.4H276.6V354.3H278.4V353.4H280.3V350.3H282.1V345.2H283.9V342.3H285.7V311.6H287.5V350.5H289.4V353.9H291.2V351.5H293"/>
<path d="M132.7 357H134.5V357.3H136.3V357.2H138.1V356.7H140V356.6H141.8V357H143.6V356H145.4V357.1H147.2V356.6H149.1V353.3H150.9V357.2H152.7V355.8H154.5V353.3H156.4V355.1H158.2V355.6H160V355.4H161.8V356.4H163.6V355.4H165.5V351.3H167.3V352.7H169.1V349.4H170.9V353.2H172.8V344.6H174.6V352H176.4V344.5H178.2V345.3H180V345.9H181.9V350.2H183.7V354.6H185.5V341.2H187.3V340.8H189.2V316.2H191V344.4H192.8V336.1H194.6V347.6H196.4V352.7H198.3V349.8H200.1V355.1H201.9V352.1H203.7V353.6H205.6V355.6H207.4V349.9H209.2V351H211V353.6H212.8V353.1H214.7V350.7H216.5V355.5H218.3V356.7H220.1V356.5H222V355H223.8V355.8H225.6V357H227.4V354.7H229.2V356.2H231.1V354.7H232.9V355.6H234.7V356.9H236.5V355.4H238.3V356.8H240.2V357.1H242V357H243.8V356.5H245.6V355.5H247.5V356.9H249.3V355.7H251.1V356.1H252.9V356.1H254.7V353.6H256.6V355.7H258.4V351.1H260.2V355H262V355.5H263.9V350.5H265.7V355.5H267.5V354.7H269.3V351.3H271.1V353.4H273V349.8H274.8V353.7H276.6V351.8H278.4V339.5H280.3V340.3H282.1V351.7H283.9V345.4H285.7V346.8H287.5V341.1H289.4V352.7H291.2V339.5H293"/>
<path d="M132.7 357.3H134.5V356.8H136.3V356.7H138.1V357.2H140V356.7H141.8V356.9H143.6V357.3H145.4V356.5H147.2V355.3H149.1V356.6H150.9V356.5H152.7V353.8H154.5V356.4H156.4V356.1H158.2V355H160V352.1H161.8V351.2H163.6V354H165.5V352.8H167.3V350.4H169.1V351.4H170.9V352.2H172.8V352.2H174.6V337.4H176.4V344.7H178.2V297.9H180V325.8H181.9V338.2H183.7V326.2H185.5V320.2H187.3V321.1H189.2V322.7H191V325.3H192.8V337.3H194.6V326.7H196.4V281.1H198.3V344.7H200.1V345.4H201.9V334.9H203.7V328.2H205.6V337.2H207.4V333.4H209.2V347.8H211V349.6H212.8V344.6H214.7V345.6H216.5V336.6H218.3V339.8H220.1V355.7H222V348.6H223.8V354.3H225.6V356.3H227.4V352.2H229.2V354.1H231.1V354.7H232.9V356.1H234.7V356H236.5V355.2H238.3V356.6H240.2V352.5H242V354.1H243.8V355.7H245.6V355.5H247.5V355.6H249.3V356.4H251.1V356.1H252.9V354.1H254.7V350.6H256.6V352.8H258.4V353.9H260.2V350.9H262V355.4H263.9V353.3H265.7V350.1H267.5V346.9H269.3V347H271.1V344.8H273V349.3H274.8V343.2H276.6V342.2H278.4V348.5H280.3V337.3H282.1V322.6H283.9V251.8H285.7V296.5H287.5V257H289.4V277.3H291.2V334.4H293"/>
<path d="M132.7 357H134.5V356.7H136.3V357.2H138.1V356.4H140V357.2H141.8V356.9H143.6V356.9H145.4V354.1H147.2V353.6H149.1V354.9H150.9V354.9H152.7V356H154.5V349.7H156.4V350.2H158.2V351.3H160V353.7H161.8V353.7H163.6V352.2H165.5V341.9H167.3V353.3H169.1V347.7H170.9V327H172.8V347.2H174.6V316.6H176.4V331.8H178.2V331.8H180V312.3H181.9V331.3H183.7V337.8H185.5V347.2H187.3V352.5H189.2V326.6H191V349.3H192.8V351.5H194.6V342.3H196.4V353.1H198.3V354.5H200.1V353H201.9V351.9H203.7V351.2H205.6V350.9H207.4V349.5H209.2V353.9H211V353.1H212.8V354.6H214.7V355.6H216.5V354.2H218.3V354.6H220.1V350.7H222V354.7H223.8V356.4H225.6V355.3H227.4V356.3H229.2V354.1H231.1V357.1H232.9V356.8H234.7V356.9H236.5V356.6H238.3V356.8H240.2V357.3H242V357H243.8V356.4H245.6V355.9H247.5V356.2H249.3V357H251.1V356.6H252.9V357H254.7V357.1H256.6V355H258.4V355.5H260.2V356.2H262V356.1H263.9V353.7H265.7V354.4H267.5V355.1H269.3V353.4H271.1V353.5H273V353.9H274.8V354H276.6V345.8H278.4V354.9H280.3V353.7H282.1V319.4H283.9V331.3H285.7V341.8H287.5V347.5H289.4V346.7H291.2V354.1H293"/>
<path d="M132.7 357.3H134.5V356.9H136.3V357H138.1V356.9H140V356.8H141.8V356.4H143.6V357.1H145.4V356.5H147.2V356.1H149.1V356.6H150.9V355.5H152.7V356.5H154.5V354.1H156.4V355.9H158.2V355H160V351.8H161.8V349.4H163.6V354.2H165.5V353.8H167.3V345.2H169.1V356.3H170.9V346.9H172.8V334.1H174.6V349.7H176.4V325.2H178.2V339.3H180V339.4H181.9V354.6H183.7V349.1H185.5V348.3H187.3V350.2H189.2V350.7H191V350.9H192.8V356.3H194.6V351.8H196.4V353.7H198.3V352.4H200.1V353.9H201.9V353H203.7V352.6H205.6V346H207.4V355.5H209.2V348.5H211V355.1H212.8V356.1H214.7V356.6H216.5V353.9H218.3V356.8H220.1V354.4H222V355.5H223.8V356.5H225.6V356.6H227.4V355.9H229.2V356.3H231.1V355.9H232.9V356.6H234.7V356.9H236.5V356.5H238.3V357.2H240.2V356.5H242V356.9H243.8V356.9H245.6V357.1H247.5V357.1H249.3V357.4H251.1V356.4H252.9V356.5H254.7V357.2H256.6V356.8H258.4V354.9H260.2V356.2H262V356.9H263.9V357.1H265.7V356.9H267.5V353.3H269.3V354.7H271.1V356.9H273V352.6H274.8V353.9H276.6V354.5H278.4V354.4H280.3V354.5H282.1V346.6H283.9V355.6H285.7V355.1H287.5V350.8H289.4V350.7H291.2V356.2H293"/>
<path d="M132.7 357.1H134.5V357.2H136.3V357.2H138.1V357.1H140V357H141.8V356.3H143.6V356.5H145.4V353.6H147.2V355.7H149.1V355.7H150.9V349.9H152.7V355.5H154.5V356H156.4V354.3H158.2V355.8H160V351.8H161.8V345.8H163.6V348.9H165.5V352.3H167.3V350.2H169.1V344.6H170.9V333.6H172.8V347.3H174.6V345.6H176.4V320.4H178.2V332.5H180V341.4H181.9V317.2H183.7V330.7H185.5V317.6H187.3V274H189.2V321.8H191V325.3H192.8V316.7H194.6V317.9H196.4V241H198.3V342.2H200.1V331.7H201.9V278.2H203.7V337.3H205.6V334.4H207.4V351H209.2V329.2H211V333.3H212.8V336.1H214.7V347.2H216.5V344.1H218.3V348.3H220.1V342.3H222V349.5H223.8V345.3H225.6V354.7H227.4V352.6H229.2V356.6H231.1V352.9H232.9V337.9H234.7V351.5H236.5V336.8H238.3V355.5H240.2V353.9H242V354.6H243.8V353H245.6V352H247.5V354.1H249.3V352H251.1V312.1H252.9V345.3H254.7V326.7H256.6V348.6H258.4V335.4H260.2V317.7H262V327.7H263.9V329.3H265.7V316.4H267.5V301.6H269.3V251.4H271.1V234.6H273V318.9H274.8V329.2H276.6V301.4H278.4V241H280.3V181.4H282.1V155.8H283.9V244.3H285.7V64.7H287.5V221.1H289.4V304.8H291.2V200.3H293"/>
<path d="M132.7 356.1H134.5V357.3H136.3V357.1H138.1V357.3H140V357.1H141.8V357.2H143.6V355.7H145.4V355.8H147.2V356.9H149.1V355.8H150.9V354.9H152.7V351.6H154.5V353.6H156.4V354.6H158.2V354.6H160V352H161.8V352.3H163.6V353.8H165.5V354.8H167.3V343.8H169.1V352.4H170.9V349.5H172.8V338.7H174.6V344.8H176.4V325.5H178.2V353.1H180V323.8H181.9V344.5H183.7V346H185.5V342.7H187.3V328.3H189.2V341.4H191V348.1H192.8V312.2H194.6V347.3H196.4V341.4H198.3V338.9H200.1V347H201.9V341H203.7V339.8H205.6V347.4H207.4V338.2H209.2V351.4H211V353.4H212.8V349H214.7V353.9H216.5V349.7H218.3V352.3H220.1V353.8H222V350.8H223.8V351.6H225.6V356.9H227.4V354.7H229.2V354.1H231.1V353.6H232.9V355.7H234.7V356.4H236.5V355.2H238.3V354.5H240.2V357H242V356.9H243.8V354.9H245.6V357.1H247.5V356.5H249.3V355.5H251.1V356.8H252.9V355.7H254.7V356.4H256.6V354.6H258.4V353.5H260.2V350.3H262V353.7H263.9V349.1H265.7V351H267.5V353.2H269.3V339.7H271.1V352H273V347H274.8V303.5H276.6V346.1H278.4V348.8H280.3V330.9H282.1V342.3H283.9V338.6H285.7V350.2H287.5V336.9H289.4V351.5H291.2V338.5H293"/>
<path d="M132.7 357.2H134.5V357.2H136.3V357.2H138.1V357.4H140V357.4H141.8V356.6H143.6V357.1H145.4V355.5H147.2V356.9H149.1V356.1H150.9V357H152.7V356.5H154.5V355.9H156.4V354.4H158.2V350.1H160V352H161.8V356.2H163.6V353.5H165.5V353.3H167.3V353.8H169.1V348H170.9V336.2H172.8V350.8H174.6V335.7H176.4V326.9H178.2V353.8H180V303.8H181.9V281.9H183.7V327.1H185.5V284.6H187.3V331.1H189.2V313.6H191V328.4H192.8V347.5H194.6V338.6H196.4V344.4H198.3V347.8H200.1V351.8H201.9V350.8H203.7V353H205.6V338.1H207.4V355.1H209.2V349.4H211V352.8H212.8V354.7H214.7V348.1H216.5V354.3H218.3V346.8H220.1V353.5H222V352.5H223.8V354.1H225.6V352.4H227.4V351.8H229.2V355.4H231.1V355H232.9V350.2H234.7V356H236.5V351.2H238.3V354.1H240.2V355.7H242V356.9H243.8V356.7H245.6V357H247.5V356.2H249.3V354H251.1V355H252.9V355.4H254.7V355.6H256.6V354.8H258.4V355.5H260.2V354.9H262V333H263.9V348H265.7V352.2H267.5V340.2H269.3V322.7H271.1V347.3H273V340.6H274.8V348.1H276.6V348.7H278.4V285.8H280.3V189.1H282.1V344.7H283.9V341.1H285.7V231.7H287.5V243.1H289.4V266.8H291.2V235.9H293"/>
<path d="M132.7 357.1H134.5V356.2H136.3V356.2H138.1V357.3H140V357.1H141.8V356.1H143.6V356.5H145.4V356.3H147.2V356.3H149.1V355.9H150.9V356.6H152.7V352.9H154.5V356.2H156.4V354.8H158.2V348.2H160V349.4H161.8V352.8H163.6V352H165.5V353.1H167.3V352H169.1V349.9H170.9V332.8H172.8V348.3H174.6V337H176.4V335.5H178.2V344.6H180V338.8H181.9V303.9H183.7V320.9H185.5V323.9H187.3V335.8H189.2V350.7H191V317.5H192.8V320.4H194.6V342.5H196.4V340.6H198.3V336.8H200.1V349.1H201.9V334.9H203.7V336.9H205.6V337H207.4V337.9H209.2V354.6H211V345H212.8V351.4H214.7V342.3H216.5V344.2H218.3V347.1H220.1V352.2H222V326.7H223.8V353.1H225.6V355.4H227.4V350.4H229.2V356.1H231.1V346.6H232.9V352H234.7V351.3H236.5V345.7H238.3V352.9H240.2V356.5H242V356.2H243.8V354.3H245.6V355.2H247.5V353.7H249.3V355.2H251.1V355H252.9V351.6H254.7V348.4H256.6V350.8H258.4V353.4H260.2V354.4H262V318.3H263.9V351.5H265.7V349.2H267.5V346.9H269.3V322.1H271.1V343.2H273V318.8H274.8V338H276.6V340H278.4V297.4H280.3V333.1H282.1V311.3H283.9V280.5H285.7V319.7H287.5V335.1H289.4V329.4H291.2V327.8H293"/>
<path d="M132.7 357.3H134.5V357.3H136.3V357.3H138.1V357.3H140V356.4H141.8V356.1H143.6V356.5H145.4V355.4H147.2V356.2H149.1V356.4H150.9V356.6H152.7V354.2H154.5V353.5H156.4V351.2H158.2V355.5H160V354.3H161.8V355.6H163.6V346.4H165.5V347.7H167.3V347.3H169.1V349H170.9V348.3H172.8V348.1H174.6V329.5H176.4V352.7H178.2V328.6H180V328.3H181.9V345H183.7V348.5H185.5V344.8H187.3V338.8H189.2V349.9H191V334.1H192.8V328.3H194.6V339.6H196.4V353.7H198.3V355.3H200.1V341.5H201.9V336.2H203.7V351.8H205.6V348.3H207.4V352.5H209.2V354H211V348.5H212.8V354.5H214.7V350.9H216.5V347.1H218.3V354.7H220.1V348.3H222V356.4H223.8V353.5H225.6V355.5H227.4V348.2H229.2V355.9H231.1V356.6H232.9V353.8H234.7V356.2H236.5V354.9H238.3V356.7H240.2V355H242V356.4H243.8V355H245.6V355.9H247.5V356.5H249.3V356.9H251.1V349H252.9V353.8H254.7V355.7H256.6V354H258.4V347.8H260.2V355.2H262V327.1H263.9V350.5H265.7V349.9H267.5V331.5H269.3V342.3H271.1V353.9H273V329.3H274.8V326.5H276.6V310.3H278.4V345.6H280.3V347.9H282.1V330.2H283.9V345.1H285.7V353.8H287.5V348.4H289.4V339.5H291.2V350.8H293"/>
<path d="M132.7 356.9H134.5V357.2H136.3V357.3H138.1V356.8H140V357H141.8V357.2H143.6V357.1H145.4V356.4H147.2V357.1H149.1V356.8H150.9V353H152.7V356.5H154.5V355.1H156.4V354.6H158.2V352.6H160V352.1H161.8V356.8H163.6V354.4H165.5V346.7H167.3V354H169.1V334.7H170.9V347.9H172.8V353.2H174.6V341.1H176.4V309.9H178.2V347.3H180V330.8H181.9V351.7H183.7V341.5H185.5V319.8H187.3V309.1H189.2V315.9H191V322.2H192.8V243.7H194.6V344.8H196.4V350.5H198.3V326.8H200.1V335.7H201.9V350.7H203.7V308.5H205.6V348.4H207.4V352.3H209.2V341.9H211V341.2H212.8V312.2H214.7V354.3H216.5V354H218.3V351.5H220.1V352.6H222V351.9H223.8V354.1H225.6V355.8H227.4V354.2H229.2V351.2H231.1V351.5H232.9V355.4H234.7V353.3H236.5V354H238.3V352.7H240.2V354.4H242V355H243.8V344.6H245.6V354.8H247.5V355.9H249.3V354.5H251.1V354.7H252.9V347.6H254.7V356.2H256.6V354.3H258.4V344.3H260.2V345.6H262V346.7H263.9V337.5H265.7V351.3H267.5V335.5H269.3V347.8H271.1V347.1H273V318.2H274.8V337.7H276.6V326.4H278.4V324.5H280.3V332.4H282.1V251.4H283.9V188.1H285.7V296H287.5V247.8H289.4V257.7H291.2V333.6H293"/>
<path d="M132.7 357.3H134.5V357.2H136.3V357.3H138.1V356.9H140V356H141.8V355.8H143.6V355.7H145.4V356.3H147.2V354.9H149.1V356.2H150.9V357H152.7V355.2H154.5V355H156.4V356.6H158.2V355.1H160V356.7H161.8V354.2H163.6V345.8H165.5V353.5H167.3V340.4H169.1V347.8H170.9V351.5H172.8V354H174.6V335.8H176.4V345.2H178.2V350.8H180V337.5H181.9V303.3H183.7V342.2H185.5V327.3H187.3V351.6H189.2V346.8H191V328.7H192.8V350H194.6V351.8H196.4V352.1H198.3V348H200.1V353.6H201.9V348.1H203.7V344.3H205.6V334.7H207.4V351.7H209.2V337.6H211V348.5H212.8V352.6H214.7V350.3H216.5V344.8H218.3V346.2H220.1V351.2H222V354.2H223.8V352H225.6V354.2H227.4V354.6H229.2V354.7H231.1V350.4H232.9V356.6H234.7V355.8H236.5V356.7H238.3V354.9H240.2V354.7H242V354.5H243.8V355.3H245.6V355.8H247.5V355.8H249.3V356.5H251.1V356.3H252.9V356.2H254.7V355.9H256.6V356H258.4V355H260.2V356.7H262V355.6H263.9V356.3H265.7V354.3H267.5V355.1H269.3V350.9H271.1V345.2H273V354.7H274.8V353.1H276.6V346.9H278.4V344.4H280.3V338.4H282.1V334.7H283.9V341.3H285.7V345.5H287.5V338.2H289.4V338.3H291.2V343.5H293"/>
<path d="M132.7 357.2H134.5V357.1H136.3V357.2H138.1V356.5H140V357H141.8V357H143.6V356H145.4V357H147.2V356.4H149.1V354.2H150.9V355.9H152.7V353.1H154.5V355.8H156.4V355.8H158.2V355H160V355.2H161.8V354.5H163.6V354.1H165.5V348.7H167.3V349.6H169.1V351.3H170.9V352.4H172.8V277.9H174.6V347.5H176.4V324H178.2V350.2H180V352.3H181.9V314.6H183.7V343.6H185.5V343.5H187.3V331.8H189.2V342.1H191V338.8H192.8V334.8H194.6V324.7H196.4V338.6H198.3V339.2H200.1V325.2H201.9V326.6H203.7V348.7H205.6V354.5H207.4V352.9H209.2V341.2H211V352.2H212.8V353.4H214.7V353.1H216.5V342.5H218.3V352.5H220.1V354.1H222V355.1H223.8V355.8H225.6V337.9H227.4V354.8H229.2V354.7H231.1V355.6H232.9V353.4H234.7V356.5H236.5V357H238.3V356.5H240.2V352.9H242V347.9H243.8V356.2H245.6V356.8H247.5V356.4H249.3V356.6H251.1V356.4H252.9V355.2H254.7V354.5H256.6V355.6H258.4V350.5H260.2V353.7H262V352.5H263.9V353.6H265.7V349.4H267.5V347.7H269.3V344H271.1V351.5H273V339.4H274.8V353H276.6V341.8H278.4V322H280.3V299.6H282.1V342.3H283.9V348.3H285.7V338.5H287.5V322.5H289.4V346H291.2V294.5H293"/>
<path d="M132.7 356.8H134.5V356.4H136.3V353.7H138.1V356.6H140V357H141.8V357H143.6V357H145.4V355.3H147.2V355.5H149.1V355H150.9V355H152.7V350.4H154.5V351.5H156.4V350.9H158.2V355H160V353.8H161.8V355.2H163.6V353.4H165.5V349.8H167.3V353.7H169.1V351.1H170.9V314.7H172.8V345.7H174.6V354.3H176.4V348.9H178.2V330.3H180V307.8H181.9V331.6H183.7V312.1H185.5V328.2H187.3V346.9H189.2V317.8H191V343.7H192.8V299H194.6V346.9H196.4V344.5H198.3V348.3H200.1V347.4H201.9V342.6H203.7V348.6H205.6V337.4H207.4V346.3H209.2V335.5H211V350H212.8V342.2H214.7V344.3H216.5V352.5H218.3V330.9H220.1V345.1H222V351.5H223.8V354.1H225.6V354.1H227.4V354.6H229.2V353.9H231.1V356.2H232.9V354.9H234.7V355.9H236.5V351.2H238.3V354.3H240.2V352.2H242V349.7H243.8V352.8H245.6V349.8H247.5V355.8H249.3V355.9H251.1V356.8H252.9V356H254.7V353.2H256.6V354.8H258.4V355.7H260.2V354.8H262V355.6H263.9V355.2H265.7V355.9H267.5V347.4H269.3V345.8H271.1V351.3H273V354.3H274.8V349.8H276.6V318.6H278.4V352.4H280.3V351.8H282.1V344.4H283.9V312.9H285.7V346.1H287.5V327.7H289.4V343.7H291.2V340.2H293"/>
<path d="M132.7 356.6H134.5V357.2H136.3V357.4H138.1V353.1H140V356.1H141.8V356.5H143.6V351.9H145.4V356.9H147.2V356.6H149.1V356.2H150.9V354.6H152.7V355.7H154.5V352.7H156.4V354.9H158.2V348.4H160V351.3H161.8V355.7H163.6V351.5H165.5V354.1H167.3V349.8H169.1V347.7H170.9V307.6H172.8V351.5H174.6V352.1H176.4V332.4H178.2V346.8H180V283.9H181.9V324.6H183.7V303.8H185.5V344.1H187.3V349.5H189.2V339.9H191V352.1H192.8V351.1H194.6V350.8H196.4V348.4H198.3V354.1H200.1V355.4H201.9V337.9H203.7V352.7H205.6V351.9H207.4V349H209.2V350.5H211V354.4H212.8V354.3H214.7V346H216.5V349.2H218.3V352.1H220.1V348.5H222V356.7H223.8V354.8H225.6V355.6H227.4V356.9H229.2V355.1H231.1V354.8H232.9V355.6H234.7V356.4H236.5V355.7H238.3V356H240.2V356.6H242V356H243.8V355.4H245.6V353H247.5V355.1H249.3V343.9H251.1V354.3H252.9V353.6H254.7V351.1H256.6V353.3H258.4V353.3H260.2V343.8H262V355.8H263.9V355H265.7V319.4H267.5V339.2H269.3V338.8H271.1V338.8H273V336H274.8V346.4H276.6V337.4H278.4V350H280.3V285.2H282.1V281.3H283.9V299.5H285.7V296.3H287.5V317H289.4V338.5H291.2V249.8H293"/>
<path d="M132.7 356.9H134.5V357.1H136.3V356H138.1V356.8H140V356.3H141.8V356.3H143.6V356.4H145.4V356.9H147.2V353.4H149.1V356H150.9V357H152.7V356H154.5V356.3H156.4V350.9H158.2V350.3H160V345.9H161.8V336.3H163.6V353.8H165.5V355.6H167.3V353.3H169.1V345.2H170.9V355.7H172.8V348.9H174.6V330.7H176.4V347.4H178.2V338.1H180V344.1H181.9V311.7H183.7V248.8H185.5V333.3H187.3V330.6H189.2V307.9H191V289.7H192.8V305H194.6V301.4H196.4V293H198.3V288.9H200.1V258.9H201.9V328.7H203.7V340.5H205.6V337.2H207.4V270.1H209.2V326.3H211V331.4H212.8V321.1H214.7V326.7H216.5V297.7H218.3V351.1H220.1V346H222V342.4H223.8V343.2H225.6V351.8H227.4V355.3H229.2V352.4H231.1V354H232.9V352.8H234.7V347.9H236.5V350.9H238.3V355.8H240.2V355.5H242V354H243.8V341.6H245.6V353.4H247.5V354.3H249.3V356.7H251.1V355.6H252.9V355.7H254.7V353.3H256.6V353.9H258.4V354.7H260.2V354.7H262V349.5H263.9V352.3H265.7V337H267.5V345.1H269.3V346.6H271.1V329.2H273V353.6H274.8V320.6H276.6V339.3H278.4V309.7H280.3V339.9H282.1V343.8H283.9V350.6H285.7V335.1H287.5V330.1H289.4V350.5H291.2V303.5H293"/>
<path d="M132.7 356.8H134.5V356.8H136.3V355.8H138.1V355.8H140V357.2H141.8V356.3H143.6V355.7H145.4V355.1H147.2V355.4H149.1V356.3H150.9V352.6H152.7V355.3H154.5V355.5H156.4V353.7H158.2V354.6H160V354.6H161.8V351.7H163.6V320.9H165.5V348.3H167.3V348.4H169.1V350H170.9V342.4H172.8V351.2H174.6V334.8H176.4V346.7H178.2V335.8H180V315.8H181.9V331.2H183.7V313.1H185.5V319.6H187.3V322.2H189.2V335.3H191V321.4H192.8V341.5H194.6V318.9H196.4V343.8H198.3V326.2H200.1V343.2H201.9V346.8H203.7V352.5H205.6V344H207.4V347.3H209.2V350H211V348.9H212.8V351H214.7V354.6H216.5V355.3H218.3V350.9H220.1V353.1H222V347.8H223.8V345.4H225.6V352.5H227.4V353.5H229.2V354.1H231.1V355.2H232.9V356.3H234.7V356.7H236.5V352.9H238.3V354.9H240.2V356H242V355.7H243.8V353.7H245.6V353.2H247.5V354.4H249.3V354.8H251.1V351.9H252.9V350H254.7V334.9H256.6V354.2H258.4V347.6H260.2V352.9H262V350.3H263.9V302.7H265.7V347.3H267.5V343H269.3V344.9H271.1V319.1H273V348.5H274.8V348.6H276.6V313.5H278.4V289H280.3V320.6H282.1V318.8H283.9V337.5H285.7V342H287.5V331.1H289.4V346.4H291.2V341.5H293"/>
<path d="M132.7 357.3H134.5V357.2H136.3V357.2H138.1V356.6H140V356.8H141.8V356.1H143.6V355.5H145.4V355.6H147.2V354.8H149.1V354.3H150.9V355.8H152.7V356.2H154.5V356.2H156.4V352.9H158.2V355.2H160V355.5H161.8V354.9H163.6V353H165.5V350.4H167.3V351.5H169.1V353.3H170.9V343.7H172.8V355H174.6V352.2H176.4V327.9H178.2V331.3H180V309.7H181.9V335.4H183.7V329.3H185.5V339.4H187.3V345.4H189.2V338.7H191V332.2H192.8V354.3H194.6V351.2H196.4V355.1H198.3V352.7H200.1V354.1H201.9V352.2H203.7V352.1H205.6V346.2H207.4V345.1H209.2V354.6H211V354.3H212.8V351.4H214.7V355.1H216.5V355H218.3V356.6H220.1V353.1H222V354.6H223.8V356.3H225.6V356.7H227.4V356.6H229.2V355.3H231.1V356.4H232.9V356.9H234.7V356.5H236.5V355.5H238.3V355.1H240.2V355.2H242V355.1H243.8V356H245.6V356.5H247.5V356.4H249.3V356.3H251.1V357H252.9V356.8H254.7V356.5H256.6V355.1H258.4V356.3H260.2V356.3H262V352.9H263.9V350.2H265.7V355.7H267.5V354.1H269.3V348.1H271.1V353.6H273V346.5H274.8V354.8H276.6V354H278.4V343.2H280.3V319.6H282.1V332H283.9V353.1H285.7V353.1H287.5V351.3H289.4V339.9H291.2V342.5H293"/>
<path d="M132.7 357.2H134.5V357.3H136.3V356.9H138.1V357.4H140V356.4H141.8V357.3H143.6V356.9H145.4V356.6H147.2V356.8H149.1V356.7H150.9V354.5H152.7V349.8H154.5V353.8H156.4V355.1H158.2V355.8H160V355.7H161.8V349.5H163.6V349.9H165.5V345.6H167.3V346.2H169.1V341H170.9V352H172.8V351.8H174.6V351.8H176.4V344.6H178.2V350.6H180V338.4H181.9V345.5H183.7V328.1H185.5V314.8H187.3V332.7H189.2V353.8H191V337.9H192.8V343.1H194.6V327.1H196.4V343.8H198.3V336.5H200.1V347.7H201.9V343.2H203.7V337.6H205.6V349.5H207.4V346.8H209.2V348.6H211V346.6H212.8V351.4H214.7V349.2H216.5V355.8H218.3V353.2H220.1V349.6H222V351H223.8V355.5H225.6V355.5H227.4V353.4H229.2V353.9H231.1V354H232.9V355H234.7V355.2H236.5V353.6H238.3V356.5H240.2V355.8H242V352.7H243.8V356.5H245.6V355.4H247.5V356.5H249.3V356.6H251.1V351.6H252.9V355.1H254.7V356.3H256.6V354.4H258.4V353.8H260.2V353.3H262V351.1H263.9V354.3H265.7V350.9H267.5V345H269.3V341.1H271.1V350.6H273V348.7H274.8V351.4H276.6V300.8H278.4V347.4H280.3V342.9H282.1V339.3H283.9V335.3H285.7V342.6H287.5V349.4H289.4V345.2H291.2V312.9H293"/>
<path d="M132.7 357.4H134.5V357.3H136.3V357.3H138.1V357.3H140V357.2H141.8V357.1H143.6V356.3H145.4V357.3H147.2V355.9H149.1V356.7H150.9V355.8H152.7V356.4H154.5V350.1H156.4V356.9H158.2V352.7H160V355.5H161.8V354.8H163.6V348.2H165.5V353.7H167.3V348.2H169.1V341.7H170.9V352.6H172.8V325.3H174.6V334.3H176.4V347.1H178.2V349.8H180V347.9H181.9V329.9H183.7V317.6H185.5V316H187.3V334.2H189.2V344.3H191V346.4H192.8V349.3H194.6V345.8H196.4V338.7H198.3V349.6H200.1V350.8H201.9V352.7H203.7V345H205.6V350.9H207.4V355H209.2V344.3H211V345.9H212.8V352.1H214.7V353.7H216.5V353.3H218.3V355.3H220.1V350.6H222V349.5H223.8V351.8H225.6V354.4H227.4V354.7H229.2V354.4H231.1V351.5H232.9V356.4H234.7V355.9H236.5V356.6H238.3V355.8H240.2V354.8H242V354.6H243.8V356.9H245.6V354.9H247.5V355H249.3V354.9H251.1V351.9H252.9V355.7H254.7V348.3H256.6V354.5H258.4V351.1H260.2V355.6H262V345.6H263.9V349.9H265.7V351.4H267.5V352.2H269.3V343.4H271.1V322.9H273V333.1H274.8V349.9H276.6V344.3H278.4V341.1H280.3V331.5H282.1V346.7H283.9V335.1H285.7V303.7H287.5V334.4H289.4V337.7H291.2V344H293"/>
<path d="M132.7 357H134.5V357.3H136.3V356H138.1V355.3H140V356.3H141.8V356.2H143.6V357H145.4V356.8H147.2V357.1H149.1V356.6H150.9V354.9H152.7V356.3H154.5V356.9H156.4V351.2H158.2V348.1H160V349.2H161.8V356.2H163.6V350.2H165.5V354.6H167.3V352.1H169.1V346.6H170.9V335.4H172.8V351.1H174.6V353H176.4V351.8H178.2V338.1H180V347.4H181.9V344.3H183.7V329.4H185.5V341.8H187.3V341.8H189.2V341.6H191V337.1H192.8V330.3H194.6V352.8H196.4V354.3H198.3V345.8H200.1V345.5H201.9V340.2H203.7V346.9H205.6V339.6H207.4V350.1H209.2V354.3H211V349.1H212.8V355.3H214.7V355.2H216.5V353.2H218.3V354.9H220.1V352.5H222V355.5H223.8V350H225.6V356.4H227.4V354.5H229.2V356.2H231.1V353.5H232.9V355H234.7V353.9H236.5V357.3H238.3V356.8H240.2V353.5H242V355.7H243.8V355.5H245.6V353.6H247.5V345H249.3V356H251.1V354.1H252.9V354.4H254.7V349.7H256.6V353.8H258.4V355H260.2V354.5H262V342.9H263.9V344.7H265.7V334.6H267.5V352.1H269.3V347.5H271.1V342.6H273V314H274.8V337.7H276.6V327.4H278.4V331.5H280.3V301.1H282.1V322.6H283.9V277.8H285.7V246H287.5V316.6H289.4V340.9H291.2V239.7H293"/>
<path d="M132.7 356.8H134.5V356.5H136.3V356.6H138.1V356.8H140V355.9H141.8V357.3H143.6V355.6H145.4V357.2H147.2V356.2H149.1V356H150.9V355.3H152.7V354.7H154.5V354H156.4V355.9H158.2V355.6H160V355.4H161.8V353H163.6V353.6H165.5V355.5H167.3V344.9H169.1V353.7H170.9V350.8H172.8V350.8H174.6V349.6H176.4V335.6H178.2V346.3H180V349.4H181.9V349.5H183.7V343.3H185.5V342.3H187.3V282.8H189.2V274H191V343.1H192.8V263H194.6V254.6H196.4V346H198.3V323.3H200.1V337.7H201.9V320.4H203.7V354.6H205.6V330.6H207.4V344.6H209.2V337.2H211V333.3H212.8V354.8H214.7V346.6H216.5V347.2H218.3V343.6H220.1V339.6H222V344.8H223.8V353.2H225.6V347.3H227.4V353.9H229.2V348.7H231.1V353.2H232.9V353.6H234.7V353.1H236.5V354.2H238.3V353H240.2V355.9H242V352.1H243.8V349.6H245.6V355.9H247.5V356.4H249.3V350.9H251.1V353H252.9V353.3H254.7V317.1H256.6V349.3H258.4V351.1H260.2V345.2H262V336.6H263.9V300.6H265.7V328.2H267.5V345H269.3V333.5H271.1V246H273V342.8H274.8V305.5H276.6V243.9H278.4V269.2H280.3V319.3H282.1V301.4H283.9V235.1H285.7V222.4H287.5V235.7H289.4V207.4H291.2V242.8H293"/>
<path d="M132.7 356.9H134.5V357.1H136.3V356.9H138.1V357.2H140V356.7H141.8V357H143.6V356.5H145.4V356.5H147.2V352H149.1V356.5H150.9V355.1H152.7V355.7H154.5V349.7H156.4V351H158.2V356.1H160V355.1H161.8V351.1H163.6V353.3H165.5V347.6H167.3V348.3H169.1V352.4H170.9V347.5H172.8V348H174.6V342.4H176.4V331.6H178.2V327.6H180V336.8H181.9V307.1H183.7V349H185.5V333.5H187.3V346H189.2V338.4H191V334.4H192.8V339.1H194.6V340.4H196.4V341H198.3V344.6H200.1V350.4H201.9V345.3H203.7V344.5H205.6V346.5H207.4V350.7H209.2V351.3H211V356.2H212.8V355H214.7V354.1H216.5V350.8H218.3V350.6H220.1V354.3H222V356.2H223.8V354.2H225.6V353.4H227.4V354.3H229.2V356.4H231.1V356.7H232.9V356.7H234.7V356.8H236.5V355.2H238.3V356.1H240.2V353.4H242V350.4H243.8V354.7H245.6V356.9H247.5V356.3H249.3V356.3H251.1V357.1H252.9V357H254.7V356.6H256.6V353.6H258.4V355.9H260.2V356.5H262V354.5H263.9V352.6H265.7V355.7H267.5V341.5H269.3V354.2H271.1V344.8H273V345.8H274.8V352H276.6V347.9H278.4V345.1H280.3V346.1H282.1V344H283.9V338H285.7V348.5H287.5V328H289.4V345H291.2V336.3H293"/>
<path d="M132.7 357.4H134.5V357H136.3V357.2H138.1V357.3H140V357.2H141.8V356.9H143.6V356.2H145.4V357.3H147.2V356.6H149.1V355.3H150.9V355.3H152.7V354.3H154.5V349.4H156.4V356H158.2V355.5H160V350.3H161.8V345.3H163.6V351.3H165.5V352.8H167.3V354.3H169.1V345.4H170.9V345.6H172.8V352H174.6V348.3H176.4V349.5H178.2V331.2H180V348.1H181.9V304.4H183.7V272.7H185.5V314.5H187.3V285.2H189.2V296.1H191V281.2H192.8V338.3H194.6V321.4H196.4V284.4H198.3V327H200.1V343.8H201.9V338.2H203.7V290.4H205.6V347H207.4V349.3H209.2V337.2H211V349.5H212.8V354.2H214.7V354.5H216.5V349.8H218.3V352.9H220.1V341H222V353.7H223.8V355.4H225.6V354.7H227.4V355.6H229.2V349.1H231.1V355.4H232.9V348.9H234.7V353.3H236.5V347.5H238.3V355.3H240.2V353.7H242V356.2H243.8V355.3H245.6V356.3H247.5V354.1H249.3V355.8H251.1V354.1H252.9V355.9H254.7V356.2H256.6V354.1H258.4V347.6H260.2V352.7H262V341.2H263.9V352H265.7V351.2H267.5V350.1H269.3V348.3H271.1V349.4H273V344.6H274.8V347.2H276.6V347H278.4V291.2H280.3V332.5H282.1V331.4H283.9V325.7H285.7V340.8H287.5V291.6H289.4V330.7H291.2V243.5H293"/>
<path d="M132.7 357.3H134.5V357.3H136.3V356.9H138.1V357.2H140V355.8H141.8V356.8H143.6V357.1H145.4V356.4H147.2V357.1H149.1V352.5H150.9V355.2H152.7V353.2H154.5V353H156.4V353.2H158.2V355.3H160V349H161.8V352.8H163.6V353.4H165.5V355.4H167.3V335.8H169.1V348.2H170.9V352.5H172.8V353.3H174.6V316.3H176.4V337.1H178.2V316.6H180V338.4H181.9V347.2H183.7V333.4H185.5V352.1H187.3V352.6H189.2V345.5H191V338.8H192.8V335.7H194.6V348.6H196.4V349.5H198.3V348.5H200.1V351.2H201.9V352.8H203.7V349.2H205.6V353.6H207.4V353.2H209.2V347.6H211V352.8H212.8V354.9H214.7V352.1H216.5V354.7H218.3V353.1H220.1V356.1H222V356.1H223.8V356.7H225.6V353.5H227.4V353.1H229.2V354H231.1V355.7H232.9V356H234.7V356.5H236.5V353.6H238.3V356.1H240.2V357H242V355.9H243.8V355.8H245.6V355.9H247.5V356.3H249.3V356.3H251.1V355.6H252.9V355.1H254.7V356.4H256.6V355.4H258.4V355.9H260.2V349.7H262V355.7H263.9V355.2H265.7V354.2H267.5V349.8H269.3V353.1H271.1V328H273V339.9H274.8V354.9H276.6V340.4H278.4V335.9H280.3V352.9H282.1V335.1H283.9V320.4H285.7V334.6H287.5V326.5H289.4V318.9H291.2V337.1H293"/>
<path d="M132.7 357.2H134.5V357.1H136.3V357.1H138.1V356.4H140V356.9H141.8V357.3H143.6V357H145.4V354.7H147.2V355.2H149.1V355.3H150.9V356.6H152.7V354.9H154.5V353.3H156.4V354.8H158.2V352.8H160V350.3H161.8V349.6H163.6V351.2H165.5V350H167.3V354.6H169.1V351.2H170.9V342.2H172.8V325.8H174.6V351.1H176.4V331.2H178.2V338.1H180V347.4H181.9V333.5H183.7V334.9H185.5V348.9H187.3V349.5H189.2V344.4H191V349.3H192.8V343.1H194.6V353.7H196.4V343.1H198.3V352.4H200.1V348.8H201.9V355.3H203.7V347.2H205.6V351.7H207.4V339.4H209.2V356.1H211V356.4H212.8V352.1H214.7V352.1H216.5V356.7H218.3V354H220.1V353.5H222V352.5H223.8V355.5H225.6V356.9H227.4V357.1H229.2V352.3H231.1V355.9H232.9V355.5H234.7V356.7H236.5V356.7H238.3V356.8H240.2V356.4H242V356.6H243.8V357.2H245.6V357H247.5V356.1H249.3V356.7H251.1V356.9H252.9V354H254.7V354.4H256.6V355.9H258.4V356.9H260.2V352.5H262V351.6H263.9V355.5H265.7V348.8H267.5V355.2H269.3V353.5H271.1V353.4H273V350.2H274.8V350.6H276.6V334.8H278.4V353.6H280.3V342.7H282.1V340.6H283.9V338.5H285.7V348.5H287.5V343.5H289.4V325.1H291.2V337.1H293"/>
<path d="M132.7 355.9H134.5V356.9H136.3V356.7H138.1V357.1H140V356.9H141.8V356.7H143.6V355.7H145.4V357H147.2V355.9H149.1V348.4H150.9V356.6H152.7V356.9H154.5V355.9H156.4V355.1H158.2V348.5H160V352.6H161.8V348.7H163.6V354.4H165.5V352H167.3V349.5H169.1V353.1H170.9V346.7H172.8V348.7H174.6V350.4H176.4V351.9H178.2V352.1H180V307.9H181.9V337.6H183.7V340.5H185.5V268H187.3V328H189.2V338.9H191V349.3H192.8V342.9H194.6V345.4H196.4V349.5H198.3V335.7H200.1V344.7H201.9V347.2H203.7V353.7H205.6V353.8H207.4V346.6H209.2V351.9H211V354.5H212.8V352.6H214.7V353.8H216.5V355H218.3V354.9H220.1V353.1H222V354.5H223.8V356.2H225.6V356.3H227.4V355.3H229.2V356.7H231.1V355.9H232.9V356.3H234.7V356.2H236.5V357.1H238.3V356.8H240.2V356.6H242V356.4H243.8V354.6H245.6V356H247.5V355.8H249.3V354.9H251.1V355.7H252.9V349H254.7V355.3H256.6V355.3H258.4V354.3H260.2V346.3H262V353.4H263.9V353.3H265.7V345.6H267.5V337.1H269.3V349.1H271.1V337.3H273V352.6H274.8V315.6H276.6V345H278.4V336.8H280.3V339.7H282.1V345.5H283.9V338.4H285.7V329.2H287.5V347.8H289.4V305.4H291.2V341.4H293"/>
<path d="M132.7 356.5H134.5V357.1H136.3V357.3H138.1V357.2H140V357.1H141.8V355.7H143.6V356.4H145.4V356.7H147.2V356H149.1V353.5H150.9V355.7H152.7V356.1H154.5V354.3H156.4V355.8H158.2V352.6H160V349.6H161.8V352H163.6V353.2H165.5V350.3H167.3V354.4H169.1V331.8H170.9V333.5H172.8V345.7H174.6V353H176.4V346.4H178.2V351.1H180V353H181.9V344.8H183.7V346.1H185.5V349.8H187.3V336H189.2V347.8H191V353H192.8V347.3H194.6V354.4H196.4V352.4H198.3V354.2H200.1V351.2H201.9V353.6H203.7V354.6H205.6V352.9H207.4V352.8H209.2V353.8H211V351.6H212.8V356.2H214.7V354.5H216.5V351.3H218.3V355.6H220.1V357.1H222V354.6H223.8V356.3H225.6V355.6H227.4V356.1H229.2V355.9H231.1V355.4H232.9V356.6H234.7V356.2H236.5V357.2H238.3V357.1H240.2V357H242V356.1H243.8V356.8H245.6V356.9H247.5V356.8H249.3V357.2H251.1V357.3H252.9V357.4H254.7V356.5H256.6V357.1H258.4V356.4H260.2V356.1H262V356.9H263.9V355.6H265.7V357.1H267.5V355.7H269.3V356.4H271.1V354.4H273V354H274.8V353.4H276.6V351.1H278.4V354.2H280.3V355.2H282.1V356H283.9V343.2H285.7V351.9H287.5V348.8H289.4V344.3H291.2V348.7H293"/>
<path d="M132.7 356.7H134.5V357.1H136.3V356.5H138.1V356.7H140V356.6H141.8V357.1H143.6V357H145.4V356.9H147.2V355.3H149.1V354.8H150.9V356.8H152.7V356.8H154.5V355.4H156.4V352.3H158.2V354.4H160V352.9H161.8V352.7H163.6V351.5H165.5V353.1H167.3V349.8H169.1V347.2H170.9V350.3H172.8V330.9H174.6V352.2H176.4V353.2H178.2V350.2H180V320.3H181.9V320.4H183.7V346.8H185.5V340.6H187.3V346.5H189.2V352H191V350.4H192.8V344.1H194.6V343.5H196.4V352.1H198.3V349.7H200.1V345.5H201.9V342.1H203.7V350.4H205.6V354.5H207.4V355.8H209.2V353.2H211V354.5H212.8V355.2H214.7V355.6H216.5V355.6H218.3V354.9H220.1V354.2H222V356.4H223.8V351.8H225.6V353.6H227.4V356.3H229.2V356H231.1V354.5H232.9V356.9H234.7V356.9H236.5V357H238.3V357.1H240.2V356.5H242V357H243.8V355.9H245.6V356.6H247.5V357H249.3V356.3H251.1V357H252.9V357.1H254.7V357.2H256.6V357H258.4V356.4H260.2V356.2H262V355.9H263.9V356.3H265.7V355.1H267.5V354.7H269.3V356.4H271.1V353.8H273V353.1H274.8V354.2H276.6V348.2H278.4V351.9H280.3V353.6H282.1V351.4H283.9V333.8H285.7V352.2H287.5V347H289.4V339.1H291.2V343.2H293"/>
<path d="M132.7 357.4H134.5V356.4H136.3V356.9H138.1V356.6H140V356H141.8V357.2H143.6V355.4H145.4V356.4H147.2V355.8H149.1V355.1H150.9V354.9H152.7V355.9H154.5V355.2H156.4V354.4H158.2V351H160V356.6H161.8V346.2H163.6V354.6H165.5V331.8H167.3V347.4H169.1V330.4H170.9V348.7H172.8V320.5H174.6V338.9H176.4V346.2H178.2V331H180V351.7H181.9V346.4H183.7V347.8H185.5V329.8H187.3V336.5H189.2V319.3H191V331.7H192.8V315.3H194.6V346.6H196.4V337.7H198.3V347.1H200.1V351.3H201.9V353.7H203.7V347.2H205.6V352H207.4V351H209.2V353H211V353.7H212.8V313.2H214.7V350.9H216.5V355H218.3V352.8H220.1V352.5H222V355.8H223.8V349.3H225.6V355.5H227.4V352.7H229.2V355.2H231.1V355.8H232.9V336H234.7V355.9H236.5V356.7H238.3V354H240.2V356H242V353.7H243.8V355.4H245.6V356.7H247.5V350.7H249.3V355.3H251.1V356.2H252.9V350.4H254.7V351.2H256.6V355H258.4V354.8H260.2V351.5H262V352.4H263.9V344.3H265.7V344.4H267.5V351.6H269.3V350.1H271.1V342.5H273V308.7H274.8V341.4H276.6V314.8H278.4V335.3H280.3V329.9H282.1V325.1H283.9V264.8H285.7V318.7H287.5V316.6H289.4V217.6H291.2V252.7H293"/>
<path d="M132.7 356.9H134.5V356.7H136.3V356.2H138.1V356.9H140V356.8H141.8V356H143.6V350.3H145.4V356.7H147.2V356.5H149.1V353.4H150.9V356.8H152.7V357.2H154.5V353.6H156.4V351.5H158.2V350.8H160V351.2H161.8V349.6H163.6V354.7H165.5V347.1H167.3V354.4H169.1V355H170.9V350.4H172.8V353.4H174.6V352.1H176.4V352.9H178.2V345.5H180V331.6H181.9V345.6H183.7V342.5H185.5V338.7H187.3V336.1H189.2V333.3H191V330.6H192.8V340.2H194.6V339.2H196.4V338.2H198.3V346.3H200.1V345.8H201.9V352.3H203.7V347.4H205.6V342.3H207.4V352.8H209.2V341.7H211V353.2H212.8V346.2H214.7V342.2H216.5V352.1H218.3V354.2H220.1V352.3H222V354.8H223.8V355.7H225.6V351.6H227.4V356.7H229.2V353H231.1V356.2H232.9V353.7H234.7V356.2H236.5V351.8H238.3V356.4H240.2V357.2H242V336.1H243.8V355.6H245.6V356.4H247.5V356.5H249.3V356.6H251.1V355.9H252.9V356.6H254.7V350H256.6V356.2H258.4V353.8H260.2V350.7H262V354.7H263.9V350.7H265.7V354.4H267.5V354.8H269.3V353.9H271.1V343H273V341H274.8V352.2H276.6V335.5H278.4V350.3H280.3V348.2H282.1V327.9H283.9V350.4H285.7V316.2H287.5V336H289.4V348.3H291.2V322H293"/>
<path d="M132.7 357.3H134.5V356.1H136.3V357.2H138.1V356.8H140V357.2H141.8V352.8H143.6V356.9H145.4V356.3H147.2V356.5H149.1V356.7H150.9V354.5H152.7V356H154.5V356.4H156.4V355.9H158.2V355.3H160V354.1H161.8V353.4H163.6V354.9H165.5V353.8H167.3V333.8H169.1V351.5H170.9V337.2H172.8V350.3H174.6V343.2H176.4V353.1H178.2V353.4H180V341.9H181.9V317.9H183.7V308.6H185.5V317.3H187.3V344.9H189.2V344.1H191V350.4H192.8V341H194.6V336H196.4V344.2H198.3V351.2H200.1V345.2H201.9V348.3H203.7V346.7H205.6V351.2H207.4V350H209.2V353.8H211V354.4H212.8V356.6H214.7V352.3H216.5V353H218.3V355.5H220.1V348.1H222V350.6H223.8V348.8H225.6V355.1H227.4V355.5H229.2V354.8H231.1V353.9H232.9V352.7H234.7V356.6H236.5V356.2H238.3V357.1H240.2V356.5H242V355.5H243.8V353.4H245.6V350.2H247.5V356H249.3V356.9H251.1V356.9H252.9V356.2H254.7V353.6H256.6V356.8H258.4V356.5H260.2V355.3H262V355.5H263.9V352.2H265.7V355H267.5V353.3H269.3V352.8H271.1V351.1H273V341.3H274.8V354.3H276.6V354.6H278.4V353.6H280.3V347.3H282.1V349.6H283.9V333.9H285.7V327.2H287.5V330.9H289.4V350.3H291.2V343.4H293"/>
<path d="M132.7 356.7H134.5V357.2H136.3V357.4H138.1V356.9H140V356.8H141.8V356.6H143.6V356.8H145.4V356.1H147.2V356.9H149.1V355H150.9V352.1H152.7V355.3H154.5V355.1H156.4V353.3H158.2V352.9H160V352H161.8V352.4H163.6V353.2H165.5V340.3H167.3V354.3H169.1V339.9H170.9V351.9H172.8V350.2H174.6V351.1H176.4V351H178.2V348.6H180V348.6H181.9V319.8H183.7V347.9H185.5V349.3H187.3V351.4H189.2V347.1H191V348.1H192.8V345H194.6V352.6H196.4V354.3H198.3V351.4H200.1V347.4H201.9V349.1H203.7V355.1H205.6V354.5H207.4V352.8H209.2V355.2H211V356.3H212.8V354.4H214.7V355.5H216.5V354.8H218.3V354H220.1V356.2H222V356.7H223.8V356.6H225.6V355.3H227.4V356.2H229.2V355.7H231.1V356.7H232.9V356.1H234.7V356.9H236.5V356.2H238.3V356.3H240.2V356.8H242V357H243.8V356.8H245.6V355.9H247.5V356.9H249.3V357.1H251.1V355.7H252.9V351.9H254.7V353.7H256.6V356.5H258.4V354H260.2V351.1H262V351H263.9V343.5H265.7V348.8H267.5V356.6H269.3V347.5H271.1V352.7H273V352.4H274.8V353.9H276.6V351.9H278.4V345.6H280.3V320.8H282.1V337H283.9V323.5H285.7V283.8H287.5V332.7H289.4V339.9H291.2V257.4H293"/>
<path d="M132.7 357.4H134.5V357.4H136.3V357.2H138.1V357H140V356.8H141.8V357.2H143.6V356.3H145.4V356.9H147.2V355.2H149.1V356.4H150.9V355.9H152.7V356.4H154.5V356.2H156.4V355H158.2V353.3H160V352.1H161.8V355H163.6V355.4H165.5V350.3H167.3V342.6H169.1V352H170.9V350.8H172.8V353.7H174.6V343.3H176.4V325.7H178.2V348.4H180V336.2H181.9V319.3H183.7V337.2H185.5V349.9H187.3V353.1H189.2V346.8H191V334.7H192.8V343.1H194.6V337.6H196.4V351.9H198.3V350.8H200.1V354.1H201.9V349.9H203.7V353.3H205.6V354.9H207.4V354.4H209.2V352.3H211V351.8H212.8V352.6H214.7V345.3H216.5V353.6H218.3V356.3H220.1V353.5H222V356.5H223.8V356.7H225.6V355.1H227.4V356.6H229.2V356.3H231.1V356.7H232.9V356.6H234.7V357.2H236.5V356H238.3V355.8H240.2V356H242V355.1H243.8V356.3H245.6V356.3H247.5V355.8H249.3V357.1H251.1V355.9H252.9V356.5H254.7V355.4H256.6V356.3H258.4V350.8H260.2V351.5H262V355.1H263.9V353.7H265.7V353.6H267.5V352.9H269.3V349.1H271.1V354.6H273V355H274.8V342.1H276.6V346.6H278.4V353.8H280.3V350.3H282.1V351.1H283.9V343.7H285.7V352.4H287.5V341.5H289.4V341.4H291.2V349.6H293"/>
</g>
<path d="M59.8 357.5H61.6V357.5H63.4V357.5H65.3V357.5H67.1V357.5H68.9V357.5H70.7V357.5H72.5V357.5H74.4V357.5H76.2V357.5H78V357.5H79.8V357.5H81.7V357.5H83.5V357.5H85.3V357.5H87.1V357.4H88.9V357.4H90.8V357.4H92.6V357.4H94.4V357.4H96.2V357.4H98.1V357.4H99.9V357.3H101.7V357.3H103.5V357.3H105.3V357.2H107.2V357.2H109V357.2H110.8V357.1H112.6V357H114.5V356.9H116.3V356.8H118.1V356.7H119.9V356.6H121.7V356.4H123.6V356.2H125.4V356H127.2V355.7H129V355.4H130.8V355.1H132.7V354.6H134.5V354.1H136.3V353.5H138.1V352.9H140V352H141.8V351.1H143.6V350H145.4V348.6H147.2V347.1H149.1V345.2H150.9V343.1H152.7V340.6H154.5V337.6H156.4V334.1H158.2V330H160V325.1H161.8V319.5H163.6V312.8H165.5V304.9H167.3V295.7H169.1V284.9H170.9V272.1H172.8V257.1H174.6V239.5H176.4V329.4H178.2V326.2H180V325.7H181.9V327.2H183.7V330.2H185.5V331.9H187.3V333.9H189.2V335.9H191V337.9H192.8V339.7H194.6V341.4H196.4V343H198.3V344.3H200.1V345.6H201.9V346.7H203.7V347.8H205.6V348.7H207.4V349.5H209.2V350.3H211V351H212.8V351.6H214.7V352.2H216.5V352.7H218.3V353.2H220.1V353.6H222V354H223.8V354.3H225.6V354.6H227.4V354.9H229.2V355.1H231.1V355.4H232.9V355.6H234.7V355.8H236.5V355.9H238.3V349.2H240.2V349.7H242V349.3H243.8V348.1H245.6V346.5H247.5V344.6H249.3V342.3H251.1V339.6H252.9V336.5H254.7V332.8H256.6V328.5H258.4V323.4H260.2V317.4H262V310.4H263.9V302.1H265.7V292.3H267.5V280.9H269.3V267.5H271.1V251.7H273V233.1H274.8V211.3H276.6V322.7H278.4V318.7H280.3V318.1H282.1V319.9H283.9V323.7H285.7V325.8H287.5V328.3H289.4V330.8H291.2V333.2H293" fill="none" stroke="#333" stroke-width="0.95" />
<path d="M59.8 357.5H61.6V357.5H63.4V357.5H65.3V357.5H67.1V357.5H68.9V357.5H70.7V357.5H72.5V357.5H74.4V357.5H76.2V357.5H78V357.5H79.8V357.5H81.7V357.5H83.5V357.5H85.3V357.5H87.1V357.5H88.9V357.5H90.8V357.5H92.6V357.5H94.4V357.5H96.2V357.5H98.1V357.5H99.9V357.5H101.7V357.5H103.5V357.5H105.3V357.5H107.2V357.5H109V357.4H110.8V357.5H112.6V357.4H114.5V357.4H116.3V357.4H118.1V357.4H119.9V357.4H121.7V357.4H123.6V357.4H125.4V357.3H127.2V357.3H129V357.3H130.8V357.3H132.7V357.2H134.5V357H136.3V357.1H138.1V356.9H140V357H141.8V356.8H143.6V356.9H145.4V356.5H147.2V356.3H149.1V356.2H150.9V356H152.7V354.9H154.5V354.4H156.4V355.6H158.2V353.4H160V355.2H161.8V354H163.6V352.8H165.5V351.6H167.3V352.3H169.1V350.8H170.9V347.9H172.8V348.2H174.6V346.4H176.4" fill="none" stroke="#74e043" stroke-width="1" />
<path d="M176.4 346.4V339.3H178.2V329.8H180V335H181.9V335.6H183.7V337.9H185.5V341.1H187.3V342.6H189.2V345.5H191V340.9H192.8V345H194.6V346.3H196.4V346.5H198.3V346.7H200.1V345.3H201.9V350.3H203.7V351.2H205.6V350.8H207.4V352.9H209.2V350.4H211V351.6H212.8V352.5H214.7V353.8H216.5V353.3H218.3V353.4H220.1V354.3H222V355.1H223.8V356H225.6V354.9H227.4V355.8H229.2V356.1H231.1V355.6H232.9V356H234.7V356.6H236.5V356.4H238.3" fill="none" stroke="#ff3a3a" stroke-width="1" />
<path d="M238.3 356.4V353.6H240.2V354.5H242V356.5H243.8V356.6H245.6V356.3H247.5V355.5H249.3V356.2H251.1V356.6H252.9V355.9H254.7V354.6H256.6V353.6H258.4V351.7H260.2V352.6H262V353.3H263.9V349.9H265.7V350.4H267.5V349.5H269.3V347.6H271.1V341.5H273V346.6H274.8V345H276.6" fill="none" stroke="#74e043" stroke-width="1" />
<path d="M276.6 345V338.5H278.4V343.7H280.3V322H282.1V322H283.9V334.5H285.7V319.5H287.5V325H289.4V346.7H291.2V331.1H293" fill="none" stroke="#ff3a3a" stroke-width="1" />
<path d="M63.7 195L63.7 358.5" stroke="#5a5a5a" stroke-width="1.2" />
<path d="M63.1 358.4L303 358.4" stroke="#222" stroke-width="1.5" />
<path d="M63.7 322.8L70.5 322.8" stroke="#8a8a8a" stroke-width="1" />
<text x="62" y="326.5" text-anchor="end" fill="#626262" textLength="30" lengthAdjust="spacingAndGlyphs">10000</text>
<path d="M63.7 288.1L70.5 288.1" stroke="#8a8a8a" stroke-width="1" />
<text x="62" y="291.8" text-anchor="end" fill="#626262" textLength="30" lengthAdjust="spacingAndGlyphs">20000</text>
<path d="M63.7 253.4L70.5 253.4" stroke="#8a8a8a" stroke-width="1" />
<text x="62" y="257.1" text-anchor="end" fill="#626262" textLength="30" lengthAdjust="spacingAndGlyphs">30000</text>
<path d="M63.7 218.7L70.5 218.7" stroke="#8a8a8a" stroke-width="1" />
<text x="62" y="222.4" text-anchor="end" fill="#626262" textLength="30" lengthAdjust="spacingAndGlyphs">40000</text>
<path d="M151.4 358L151.4 351" stroke="#8a8a8a" stroke-width="1" />
<text x="151.4" y="369.5" text-anchor="middle" fill="#626262">50</text>
<path d="M241.5 358L241.5 351" stroke="#8a8a8a" stroke-width="1" />
<text x="241.5" y="369.5" text-anchor="middle" fill="#626262">100</text>
<text x="179" y="380.2" text-anchor="middle"><tspan font-style="italic">t</tspan> (days)</text>
<path d="M64 340.4L303 340.4" stroke="#3b3bff" stroke-width="1" stroke-dasharray="3.5 3.07"/>
<text x="67.6" y="338" fill="#3b3bff" textLength="33.6" lengthAdjust="spacingAndGlyphs">Target</text>
<text x="77" y="210" textLength="32.4" lengthAdjust="spacingAndGlyphs">Policy</text>
<path d="M76.6 217.6L84.4 217.6" stroke="#74e043" stroke-width="1.1" />
<text x="87" y="221" textLength="83.4" lengthAdjust="spacingAndGlyphs">No intervention</text>
<path d="M76.6 228.8L84.4 228.8" stroke="#ff3a3a" stroke-width="1.1" />
<text x="87" y="231.5" textLength="53.4" lengthAdjust="spacingAndGlyphs">Lockdown</text>
<text x="126.5" y="281.5" font-size="14"><tspan font-style="italic">I</tspan><tspan font-size="9" dy="2.5">t</tspan></text>
<path d="M139 281.5L163 297" stroke="#222" stroke-width="0.9" stroke-dasharray="3 2"/>
<path d="M163 297L157.6 296.1L160 292.4Z" fill="#222"/>
<rect x="417" y="195" width="126" height="163" fill="#eeefef"/>
<text x="477.5" y="297.6" text-anchor="middle" fill="#606060" textLength="58" lengthAdjust="spacingAndGlyphs">Control off</text>
<g clip-path="url(#clipD)" fill="none" stroke="#505050" stroke-width="0.5" stroke-opacity="0.16">
<path d="M533 349.8H535V348.3H537V342.7H539V338.2H541V337.2H543V351.6H545V334H547V334.4H549V335.1H551V332.4H553V320.7H555V335.8H557V339.5H558.9V335.8H560.9V340.4H562.9V342.1H564.9V345.9H566.9V345.5H568.9V345.8H570.9V351.2H572.9V351.5H574.9V348H576.9V349.4H578.9V352.2H580.9V353.3H582.9V353.1H584.9V354.4H586.8V354.2H588.8V352.9H590.8V354.7H592.8V354.3H594.8V355.6H596.8V355.5H598.8V355.3H600.8V356.7H602.8V356.5H604.8V356.6H606.8V356.7H608.8V356.4H610.8V355.2H612.8V357H614.7V357.2H616.7V357.2H618.7V357H620.7V355.7H622.7V356.6H624.7V355.7H626.7V355.8H628.7V354.3H630.7V354H632.7V353.5H634.7V352.8H636.7V350.1H638.7V351.8H640.7V350.3H642.6V353.8H644.6V339.7H646.6"/>
<path d="M533 342.4H535V344.2H537V346.1H539V346.4H541V330.2H543V343.2H545V317.2H547V323H549V318.1H551V306H553V322.4H555V333.6H557V332.4H558.9V324.5H560.9V339.6H562.9V345.7H564.9V346.2H566.9V345H568.9V339.9H570.9V343.8H572.9V347.2H574.9V349.2H576.9V348H578.9V349H580.9V350.5H582.9V350.8H584.9V352.2H586.8V349.1H588.8V354.6H590.8V352.9H592.8V354.4H594.8V353.3H596.8V354.5H598.8V354.5H600.8V354.7H602.8V355.2H604.8V355.1H606.8V356.4H608.8V355.6H610.8V356.4H612.8V356.3H614.7V353.8H616.7V355.7H618.7V356.3H620.7V357.3H622.7V356.8H624.7V355.8H626.7V356.3H628.7V355.5H630.7V353.6H632.7V353.6H634.7V354.5H636.7V352.4H638.7V354.5H640.7V349.6H642.6V349.2H644.6V348.8H646.6"/>
<path d="M533 348H535V347.4H537V344.4H539V340.3H541V339H543V349.3H545V329.6H547V328.4H549V323.5H551V322.4H553V332.5H555V324.8H557V323.9H558.9V335.3H560.9V332.8H562.9V343.3H564.9V341.8H566.9V338.1H568.9V347.6H570.9V345.8H572.9V347.7H574.9V343.8H576.9V345.1H578.9V349.9H580.9V349.4H582.9V353.6H584.9V349.8H586.8V351.3H588.8V350.5H590.8V354.9H592.8V353H594.8V354.1H596.8V355.8H598.8V355H600.8V354.9H602.8V354.6H604.8V355.3H606.8V355.9H608.8V355.7H610.8V356.2H612.8V355H614.7V356.3H616.7V356.7H618.7V356.5H620.7V355.4H622.7V356.2H624.7V354.6H626.7V354.9H628.7V353.6H630.7V354.7H632.7V354H634.7V352.7H636.7V350H638.7V353.8H640.7V345.4H642.6V344.8H644.6V342.9H646.6"/>
<path d="M533 346.9H535V351.1H537V343.2H539V344.1H541V340.1H543V344.1H545V323.5H547V329.3H549V325.8H551V312.3H553V319.5H555V325.8H557V333.3H558.9V330.7H560.9V335.9H562.9V341.4H564.9V344.3H566.9V341.1H568.9V343.1H570.9V342H572.9V347.7H574.9V344.4H576.9V349.4H578.9V347.1H580.9V349.5H582.9V351.9H584.9V352.9H586.8V352.5H588.8V353.2H590.8V352.4H592.8V354.4H594.8V355.3H596.8V354.6H598.8V353.4H600.8V354.1H602.8V355.8H604.8V355.9H606.8V355.9H608.8V356.5H610.8V356.5H612.8V356.7H614.7V355.8H616.7V356.5H618.7V357.1H620.7V356.8H622.7V356.9H624.7V356.3H626.7V356.4H628.7V356H630.7V355.7H632.7V350.1H634.7V352.7H636.7V351.6H638.7V351.2H640.7V354.7H642.6V348.6H644.6V347.1H646.6"/>
<path d="M533 350.6H535V350.3H537V346.5H539V344.6H541V340.3H543V350.1H545V336.6H547V327.1H549V313.3H551V328H553V338.6H555V333.5H557V339.5H558.9V344.4H560.9V342.2H562.9V343.3H564.9V341.6H566.9V340.1H568.9V342.3H570.9V344.6H572.9V348.5H574.9V348.3H576.9V349.5H578.9V347.6H580.9V351.8H582.9V352.2H584.9V350H586.8V352H588.8V353.6H590.8V353.5H592.8V353.9H594.8V354.2H596.8V354.1H598.8V354.8H600.8V355.4H602.8V355.8H604.8V356.5H606.8V356.2H608.8V355.7H610.8V356.3H612.8V355.4H614.7V356.3H616.7V357.1H618.7V356.6H620.7V355.6H622.7V355.3H624.7V355.1H626.7V354.9H628.7V355H630.7V355.1H632.7V353.5H634.7V353.2H636.7V350.5H638.7V350.3H640.7V354H642.6V344.9H644.6V332.9H646.6"/>
<path d="M533 351.6H535V348.8H537V344.8H539V344.5H541V341.5H543V349H545V324.2H547V309.3H549V329.5H551V315.8H553V334.6H555V328.1H557V340.2H558.9V331H560.9V335.5H562.9V337H564.9V334.1H566.9V338.8H568.9V342.5H570.9V346H572.9V344.9H574.9V347.7H576.9V348.1H578.9V344.6H580.9V347.2H582.9V349.3H584.9V349.5H586.8V352.9H588.8V351.6H590.8V354H592.8V353.5H594.8V352.9H596.8V353.4H598.8V353.5H600.8V354.4H602.8V354.8H604.8V355.1H606.8V354.4H608.8V354.8H610.8V354.9H612.8V355.3H614.7V355.9H616.7V356.3H618.7V355.7H620.7V355.7H622.7V355.6H624.7V354.3H626.7V354.1H628.7V353.1H630.7V353.6H632.7V352.5H634.7V349.9H636.7V349.1H638.7V345.2H640.7V352.3H642.6V336.7H644.6V333.4H646.6"/>
<path d="M533 350.8H535V344.2H537V349.8H539V340.5H541V338.5H543V344.4H545V316.5H547V313.6H549V311.8H551V319.8H553V324.4H555V323.2H557V332.3H558.9V338.4H560.9V336.9H562.9V343.8H564.9V342H566.9V333.4H568.9V341.6H570.9V345H572.9V347.1H574.9V350.2H576.9V348.9H578.9V350.1H580.9V349.6H582.9V350.2H584.9V351.2H586.8V353.8H588.8V350.3H590.8V352.3H592.8V353.3H594.8V354H596.8V353.8H598.8V353.4H600.8V354.4H602.8V355.8H604.8V356H606.8V356.6H608.8V355.8H610.8V355.8H612.8V353.5H614.7V355.8H616.7V356.4H618.7V356.8H620.7V356H622.7V355.9H624.7V355.8H626.7V355.9H628.7V353.4H630.7V355.3H632.7V352.2H634.7V352.9H636.7V349.9H638.7V354.2H640.7V344.6H642.6V345.2H644.6V347.3H646.6"/>
<path d="M533 350.5H535V346.4H537V339.9H539V344.4H541V340.6H543V345.3H545V323.2H547V323.9H549V322.3H551V324.8H553V331.6H555V331.2H557V331.7H558.9V339.9H560.9V336.8H562.9V339.3H564.9V339.8H566.9V342H568.9V347.1H570.9V348.6H572.9V346.5H574.9V348.4H576.9V348.9H578.9V350.8H580.9V352.4H582.9V351.1H584.9V352.3H586.8V352H588.8V352.1H590.8V352.7H592.8V353.3H594.8V355.2H596.8V356.1H598.8V355.6H600.8V356.1H602.8V356.4H604.8V355.7H606.8V356.8H608.8V356.1H610.8V354.1H612.8V354.7H614.7V356.6H616.7V355.9H618.7V356.7H620.7V356.4H622.7V355.3H624.7V356H626.7V354H628.7V354.5H630.7V355.1H632.7V350.3H634.7V353.1H636.7V345.8H638.7V354.7H640.7V348.1H642.6V344.9H644.6V345.5H646.6"/>
<path d="M533 347.4H535V348H537V343.5H539V337.4H541V340H543V348.8H545V321.4H547V325.2H549V322.9H551V329.2H553V320.5H555V333.3H557V334.2H558.9V334H560.9V337.1H562.9V345.4H564.9V338.2H566.9V345.1H568.9V342.3H570.9V345.5H572.9V346H574.9V348.4H576.9V349.8H578.9V348.5H580.9V349.2H582.9V348.7H584.9V350.3H586.8V352.6H588.8V350.8H590.8V349.9H592.8V352.6H594.8V354H596.8V354.9H598.8V354.5H600.8V355.7H602.8V354.7H604.8V355.7H606.8V356H608.8V355.8H610.8V356.6H612.8V355.7H614.7V356.1H616.7V356.4H618.7V356.8H620.7V355.9H622.7V356.7H624.7V355.6H626.7V354.8H628.7V353.1H630.7V355.2H632.7V353.3H634.7V353.4H636.7V351H638.7V354.4H640.7V347.1H642.6V347.5H644.6V347.1H646.6"/>
<path d="M533 346.8H535V348.2H537V348.2H539V344.4H541V339.6H543V350H545V330.3H547V318.2H549V327.2H551V307.7H553V321H555V334.9H557V336.3H558.9V336.4H560.9V331.7H562.9V335.1H564.9V340.9H566.9V339.9H568.9V339.2H570.9V341.7H572.9V348.3H574.9V348.2H576.9V348.7H578.9V350.8H580.9V346.9H582.9V350.5H584.9V351.2H586.8V352H588.8V351.1H590.8V351.4H592.8V351.8H594.8V351.7H596.8V354.3H598.8V352.3H600.8V351.8H602.8V355H604.8V355.1H606.8V354.8H608.8V354.7H610.8V353.7H612.8V355.7H614.7V355.3H616.7V356.2H618.7V356.7H620.7V354.8H622.7V353.8H624.7V352.3H626.7V351.1H628.7V347.4H630.7V352H632.7V351.5H634.7V351H636.7V342.3H638.7V346H640.7V352.4H642.6V344.2H644.6V332.1H646.6"/>
<path d="M533 345.7H535V348.7H537V342.5H539V345H541V339.4H543V349.2H545V333.6H547V330.9H549V322.3H551V323.2H553V323.9H555V328.7H557V334.1H558.9V332H560.9V329.7H562.9V340.5H564.9V343.2H566.9V340.5H568.9V336.5H570.9V345.2H572.9V346.9H574.9V349.2H576.9V349.6H578.9V350.7H580.9V351.4H582.9V348.9H584.9V349.4H586.8V351.8H588.8V352.4H590.8V352.1H592.8V353.5H594.8V353.8H596.8V353.8H598.8V354.7H600.8V354H602.8V352.6H604.8V355.5H606.8V355.6H608.8V356.3H610.8V356.3H612.8V354.6H614.7V355.7H616.7V356.8H618.7V356.9H620.7V356.1H622.7V356.2H624.7V355.3H626.7V355.2H628.7V354.6H630.7V353.9H632.7V354.9H634.7V350.5H636.7V352.3H638.7V349.3H640.7V352.5H642.6V346.4H644.6V346.6H646.6"/>
<path d="M533 348H535V345.5H537V345.5H539V338.3H541V338.9H543V345.1H545V331.8H547V313.7H549V323H551V328.8H553V328H555V336.1H557V335.9H558.9V331.2H560.9V334.7H562.9V335.9H564.9V338.5H566.9V343.5H568.9V343.8H570.9V339.6H572.9V346.9H574.9V350.5H576.9V348.7H578.9V350.3H580.9V350.6H582.9V351.1H584.9V353H586.8V351.9H588.8V353.2H590.8V352.9H592.8V354.5H594.8V355H596.8V355H598.8V353.8H600.8V356.2H602.8V355H604.8V355.9H606.8V355.5H608.8V356.4H610.8V356.3H612.8V354.7H614.7V355.1H616.7V356.9H618.7V356.6H620.7V356.7H622.7V356H624.7V356.1H626.7V355.4H628.7V354.5H630.7V353.7H632.7V354.3H634.7V353.5H636.7V349.9H638.7V354.6H640.7V347.5H642.6V347.4H644.6V349.9H646.6"/>
<path d="M533 345.1H535V347.2H537V347.2H539V342.8H541V336.6H543V350.2H545V325H547V321.1H549V318.8H551V327.4H553V325.5H555V341H557V336.3H558.9V333.3H560.9V337.6H562.9V340.5H564.9V346.3H566.9V344.8H568.9V349.2H570.9V347.3H572.9V347H574.9V349.6H576.9V348.7H578.9V350.3H580.9V349.7H582.9V352.2H584.9V353.9H586.8V354H588.8V354H590.8V353.8H592.8V354.1H594.8V355.1H596.8V354.8H598.8V355.6H600.8V355.1H602.8V356.3H604.8V355.4H606.8V356H608.8V356.5H610.8V356.8H612.8V354.8H614.7V356.5H616.7V356.8H618.7V356.2H620.7V356.5H622.7V356.2H624.7V355.7H626.7V355.8H628.7V353.5H630.7V354.6H632.7V353.1H634.7V352.6H636.7V352.7H638.7V353.3H640.7V347.7H642.6V348.5H644.6V348.5H646.6"/>
<path d="M533 350H535V347.7H537V348.2H539V340.9H541V341H543V345.3H545V323.9H547V316.9H549V331.6H551V319.8H553V322.4H555V334.8H557V335.2H558.9V340.5H560.9V330.8H562.9V332.8H564.9V343.3H566.9V342.6H568.9V342.6H570.9V343.2H572.9V346.5H574.9V343.3H576.9V350.1H578.9V347.7H580.9V350.1H582.9V350.5H584.9V352.6H586.8V354H588.8V353.4H590.8V352.9H592.8V354.5H594.8V355.4H596.8V354.7H598.8V355H600.8V355.8H602.8V355.6H604.8V355.6H606.8V355.9H608.8V355.8H610.8V353.7H612.8V356H614.7V357H616.7V357.1H618.7V355.9H620.7V355.9H622.7V355.1H624.7V355.6H626.7V354.6H628.7V354.7H630.7V354.2H632.7V354H634.7V351.9H636.7V349.7H638.7V347.6H640.7V352.2H642.6V344.3H644.6V334.3H646.6"/>
<path d="M533 349.2H535V346.2H537V344.4H539V336.9H541V338.5H543V347.3H545V327.7H547V308H549V315.2H551V334.3H553V326.3H555V332.6H557V329.8H558.9V328.9H560.9V334.5H562.9V333.8H564.9V330.5H566.9V345.4H568.9V341.8H570.9V342.9H572.9V343.1H574.9V345.3H576.9V344.3H578.9V347.7H580.9V347.7H582.9V351.7H584.9V349.8H586.8V352.4H588.8V350.7H590.8V349.5H592.8V352.7H594.8V352.6H596.8V352.8H598.8V352.6H600.8V353.6H602.8V353.7H604.8V355.3H606.8V355.3H608.8V356.2H610.8V354.4H612.8V354.7H614.7V354.9H616.7V356.4H618.7V356.1H620.7V356.3H622.7V355.4H624.7V354.8H626.7V353.9H628.7V353.8H630.7V352.3H632.7V352.7H634.7V348.3H636.7V350.1H638.7V335.8H640.7V352H642.6V343.2H644.6V337.2H646.6"/>
<path d="M533 345.9H535V344.3H537V343.9H539V343.7H541V335.9H543V347.2H545V331.3H547V315.6H549V328.3H551V320.5H553V316.7H555V333.2H557V331H558.9V331.4H560.9V342.7H562.9V340H564.9V341.7H566.9V343.1H568.9V345.3H570.9V340.1H572.9V347.5H574.9V346.7H576.9V346.1H578.9V344.8H580.9V351.7H582.9V351.9H584.9V352.2H586.8V351.8H588.8V350.7H590.8V352.7H592.8V352.9H594.8V351.8H596.8V354.1H598.8V354.1H600.8V352.8H602.8V354.3H604.8V355.5H606.8V355.8H608.8V355H610.8V356.4H612.8V354.9H614.7V355.3H616.7V356.1H618.7V355.6H620.7V356.4H622.7V355.4H624.7V356.7H626.7V355.2H628.7V350.8H630.7V351.5H632.7V351.6H634.7V352.6H636.7V352H638.7V346.5H640.7V352.6H642.6V345.5H644.6V337.7H646.6"/>
<path d="M533 351H535V347.3H537V339.4H539V340.2H541V334.8H543V343.8H545V323.3H547V319.5H549V322.4H551V320.9H553V322.6H555V331.2H557V326.5H558.9V332.6H560.9V335.3H562.9V337.8H564.9V335.4H566.9V341.3H568.9V338.2H570.9V346.5H572.9V343.7H574.9V349.6H576.9V347.4H578.9V349.4H580.9V350.2H582.9V351.7H584.9V351H586.8V350.9H588.8V354.1H590.8V353H592.8V353.2H594.8V353.2H596.8V353.9H598.8V355.3H600.8V354.2H602.8V355.7H604.8V355.2H606.8V355.7H608.8V356.2H610.8V356.5H612.8V354.7H614.7V355.1H616.7V356.5H618.7V356.7H620.7V355.9H622.7V354.9H624.7V353.9H626.7V355.9H628.7V353.7H630.7V352.8H632.7V353.6H634.7V353.8H636.7V348.5H638.7V354H640.7V349.6H642.6V347.6H644.6V343H646.6"/>
<path d="M533 347.1H535V347.2H537V344.7H539V334.8H541V332.9H543V348.2H545V331.7H547V320.7H549V322.1H551V318.9H553V327.2H555V333.1H557V324.6H558.9V333.3H560.9V330.8H562.9V340H564.9V331.2H566.9V339H568.9V340.7H570.9V341.8H572.9V348.1H574.9V343.6H576.9V347.8H578.9V349.8H580.9V347.8H582.9V345.7H584.9V351.2H586.8V348.2H588.8V353.9H590.8V351.7H592.8V353.3H594.8V352.9H596.8V351H598.8V353.3H600.8V355.3H602.8V353.4H604.8V355.6H606.8V355.6H608.8V356H610.8V355.7H612.8V353.9H614.7V354.3H616.7V356.3H618.7V355.8H620.7V355.8H622.7V354.6H624.7V355.4H626.7V355.2H628.7V352.4H630.7V351.6H632.7V351.4H634.7V345.6H636.7V350.3H638.7V350.6H640.7V338.1H642.6V344.6H644.6V338.7H646.6"/>
<path d="M533 349.2H535V348.3H537V345.1H539V341.3H541V337.9H543V346.9H545V336.5H547V332.8H549V334.7H551V328.1H553V324.1H555V330.6H557V333.3H558.9V337.4H560.9V338.7H562.9V341.6H564.9V336.8H566.9V346H568.9V346.2H570.9V343.9H572.9V347.2H574.9V345.9H576.9V349.3H578.9V348.5H580.9V349.7H582.9V352.5H584.9V350.7H586.8V350.4H588.8V353.4H590.8V353.3H592.8V353.1H594.8V352.6H596.8V354.2H598.8V352.7H600.8V355.3H602.8V354H604.8V356H606.8V355.9H608.8V356.4H610.8V353.5H612.8V355.4H614.7V357.1H616.7V357.2H618.7V355H620.7V355.9H622.7V356.1H624.7V355.3H626.7V354.5H628.7V351.6H630.7V352H632.7V351.5H634.7V351.7H636.7V347.6H638.7V350.5H640.7V349.9H642.6V337.2H644.6V340.4H646.6"/>
<path d="M533 346H535V346.9H537V341.7H539V335.4H541V340.3H543V346.2H545V329H547V319.4H549V300.8H551V319.6H553V314.9H555V325.5H557V332H558.9V332.2H560.9V333.5H562.9V337.6H564.9V339H566.9V340.3H568.9V344.1H570.9V338.6H572.9V343.9H574.9V346.5H576.9V348.5H578.9V347.6H580.9V350.6H582.9V351.9H584.9V351.4H586.8V349.7H588.8V352.4H590.8V352.6H592.8V354.1H594.8V353.3H596.8V354.6H598.8V354.9H600.8V355.3H602.8V355.3H604.8V356H606.8V355.9H608.8V356H610.8V356.5H612.8V356.9H614.7V354.6H616.7V356.6H618.7V357.3H620.7V356.7H622.7V356.5H624.7V355.7H626.7V355.1H628.7V356.4H630.7V355.3H632.7V354.1H634.7V354.7H636.7V351.6H638.7V351.6H640.7V351.8H642.6V354.1H644.6V345.7H646.6"/>
<path d="M533 348.3H535V346.1H537V343.2H539V342.2H541V335.2H543V347.8H545V311.7H547V330.8H549V315.3H551V302.7H553V330.3H555V316.5H557V314.7H558.9V333.8H560.9V325H562.9V338.1H564.9V336.3H566.9V340.1H568.9V343.9H570.9V345.4H572.9V345.1H574.9V348.2H576.9V345.4H578.9V346.6H580.9V345.2H582.9V347.8H584.9V349.7H586.8V350.7H588.8V346.2H590.8V353.3H592.8V353.5H594.8V349.3H596.8V351.8H598.8V353.2H600.8V353.3H602.8V353.3H604.8V355.4H606.8V355H608.8V354.6H610.8V352.1H612.8V353.9H614.7V355.9H616.7V355.8H618.7V355.6H620.7V354.2H622.7V354H624.7V352.7H626.7V350.4H628.7V349.2H630.7V351.7H632.7V345.8H634.7V348.6H636.7V348.2H638.7V333.2H640.7V347.8H642.6V335.6H644.6V329.3H646.6"/>
<path d="M533 347.3H535V347H537V346.9H539V346.5H541V336.6H543V346.7H545V324.1H547V318.4H549V315.5H551V323.1H553V333.3H555V326.3H557V324.2H558.9V338.4H560.9V336.1H562.9V328.8H564.9V342.3H566.9V333.9H568.9V343.9H570.9V346.8H572.9V345.2H574.9V346.5H576.9V343.6H578.9V350.8H580.9V349.7H582.9V350.4H584.9V351.3H586.8V350.2H588.8V351.8H590.8V351.7H592.8V352.5H594.8V351.4H596.8V353.8H598.8V353.5H600.8V353.2H602.8V353.9H604.8V354.6H606.8V354.3H608.8V354.9H610.8V355.1H612.8V353.4H614.7V354.6H616.7V355.8H618.7V356.2H620.7V355.3H622.7V354.8H624.7V354H626.7V354.4H628.7V354.1H630.7V352.4H632.7V349.3H634.7V351.3H636.7V346.1H638.7V346.3H640.7V343.7H642.6V349.4H644.6V337.7H646.6"/>
<path d="M533 345.4H535V346.5H537V340.6H539V343.7H541V340H543V345.2H545V324.2H547V313.4H549V326.8H551V321.2H553V329.7H555V336.1H557V325.6H558.9V333.9H560.9V339.7H562.9V340.5H564.9V337.4H566.9V341.1H568.9V343H570.9V342H572.9V345.3H574.9V349.9H576.9V345.5H578.9V349.2H580.9V349.8H582.9V353.1H584.9V354.3H586.8V351.3H588.8V352.5H590.8V352.6H592.8V352.8H594.8V352.6H596.8V352.6H598.8V353.2H600.8V355.3H602.8V355.4H604.8V355.2H606.8V354.6H608.8V355.1H610.8V356.2H612.8V356.6H614.7V354.4H616.7V356H618.7V356.5H620.7V356.3H622.7V356.1H624.7V356.3H626.7V356.1H628.7V355.2H630.7V354.1H632.7V353.9H634.7V352.3H636.7V352.6H638.7V349.3H640.7V349.2H642.6V353.3H644.6V346.6H646.6"/>
<path d="M533 347.8H535V347.7H537V345.3H539V341.5H541V338.1H543V347.7H545V329.1H547V318.3H549V330.3H551V332.4H553V325.7H555V327.3H557V341.8H558.9V334.1H560.9V329.9H562.9V335.1H564.9V341.6H566.9V340.7H568.9V347.5H570.9V343H572.9V345.2H574.9V345H576.9V348.4H578.9V347.7H580.9V350.5H582.9V348.7H584.9V350.6H586.8V353.8H588.8V354.1H590.8V352.4H592.8V352.5H594.8V352.6H596.8V354.6H598.8V354.5H600.8V355.1H602.8V355.6H604.8V355.6H606.8V355.1H608.8V356.2H610.8V355.3H612.8V356.8H614.7V355.1H616.7V355.9H618.7V356.7H620.7V356.7H622.7V356.9H624.7V356.2H626.7V355H628.7V354.9H630.7V354.4H632.7V353.8H634.7V353.6H636.7V352.7H638.7V355.2H640.7V346.6H642.6V347.2H644.6V347.4H646.6"/>
<path d="M533 348H535V347.3H537V349.2H539V344.2H541V341H543V342.5H545V333.6H547V324.1H549V320.2H551V325.8H553V328.3H555V324.1H557V336.9H558.9V335H560.9V336.2H562.9V331.9H564.9V335.3H566.9V340.5H568.9V341.2H570.9V349.6H572.9V345.6H574.9V348.5H576.9V351H578.9V348H580.9V350.8H582.9V351.8H584.9V353.5H586.8V352H588.8V351.2H590.8V353.1H592.8V353H594.8V353.2H596.8V354.5H598.8V355.1H600.8V355.5H602.8V355.6H604.8V355.9H606.8V355.9H608.8V356.3H610.8V355.8H612.8V356.8H614.7V353.9H616.7V356.4H618.7V357.1H620.7V356.6H622.7V356.8H624.7V356.8H626.7V355.5H628.7V354.6H630.7V356H632.7V354H634.7V354.2H636.7V353.2H638.7V349.7H640.7V352.6H642.6V354.2H644.6V343.3H646.6"/>
<path d="M533 348.1H535V348.2H537V345.2H539V342.3H541V337.7H543V348.5H545V324.9H547V318H549V323.1H551V334.5H553V338H555V327.2H557V340.6H558.9V334.6H560.9V321.8H562.9V339.8H564.9V345.1H566.9V339.5H568.9V345.1H570.9V345.4H572.9V349.8H574.9V348.7H576.9V345.3H578.9V349.7H580.9V351.1H582.9V350.8H584.9V351.2H586.8V350.7H588.8V351.8H590.8V352H592.8V354.6H594.8V354.3H596.8V355.6H598.8V353.5H600.8V355.4H602.8V355.5H604.8V354.4H606.8V355.3H608.8V356.1H610.8V356.3H612.8V354.9H614.7V355.6H616.7V355.6H618.7V357H620.7V355.6H622.7V355.3H624.7V355.8H626.7V354.9H628.7V354.3H630.7V354.4H632.7V353.6H634.7V350.1H636.7V350.4H638.7V350.4H640.7V353.9H642.6V345.1H644.6V342.5H646.6"/>
<path d="M533 349.7H535V348.4H537V344.8H539V346.9H541V339.5H543V350.4H545V321.9H547V327.5H549V314.7H551V313.7H553V333.7H555V315.4H557V331.6H558.9V342.7H560.9V334.9H562.9V337H564.9V331.8H566.9V346.5H568.9V349.8H570.9V344.2H572.9V346.4H574.9V348.4H576.9V347.3H578.9V343.9H580.9V349.1H582.9V348.1H584.9V351.6H586.8V352.8H588.8V352.3H590.8V349.7H592.8V351.1H594.8V352.4H596.8V354H598.8V353.7H600.8V353.9H602.8V355.6H604.8V355.2H606.8V353.9H608.8V356.2H610.8V353.4H612.8V355.6H614.7V356.5H616.7V355.6H618.7V356.1H620.7V354.7H622.7V354.7H624.7V353H626.7V354.1H628.7V350.9H630.7V351.4H632.7V351H634.7V350.1H636.7V350.8H638.7V350H640.7V343.2H642.6V331.1H644.6V324.2H646.6"/>
<path d="M533 346.1H535V343.2H537V341.8H539V340.3H541V336.6H543V349.9H545V324.9H547V321.1H549V324.8H551V329.6H553V333.9H555V334H557V335H558.9V344.1H560.9V336.8H562.9V337.4H564.9V333.1H566.9V335.2H568.9V341.5H570.9V344.2H572.9V345.6H574.9V344.5H576.9V345.3H578.9V351.3H580.9V348.1H582.9V351H584.9V351H586.8V352.1H588.8V351.8H590.8V353.8H592.8V353.3H594.8V354.9H596.8V353.2H598.8V353.8H600.8V355.1H602.8V355.2H604.8V355.7H606.8V355.3H608.8V355.6H610.8V356.3H612.8V354.7H614.7V355.8H616.7V356.9H618.7V356.4H620.7V356.1H622.7V354.5H624.7V355.3H626.7V355.5H628.7V353.5H630.7V353.6H632.7V353.6H634.7V351.2H636.7V352H638.7V347.4H640.7V352.3H642.6V345.9H644.6V343.2H646.6"/>
<path d="M533 349.7H535V342.2H537V345.8H539V344.5H541V340H543V346.3H545V337.3H547V326.3H549V319.7H551V330.3H553V332.4H555V326.5H557V337.8H558.9V341.2H560.9V339H562.9V337.5H564.9V342.8H566.9V349.5H568.9V346.6H570.9V344.9H572.9V342.5H574.9V348.2H576.9V343H578.9V351.4H580.9V351.4H582.9V351.1H584.9V350.8H586.8V352.8H588.8V352.3H590.8V353.8H592.8V353.5H594.8V353.9H596.8V354.5H598.8V354.8H600.8V355.4H602.8V355.9H604.8V353.8H606.8V356.4H608.8V355.6H610.8V356H612.8V354.8H614.7V356.1H616.7V357H618.7V356.6H620.7V356.7H622.7V356H624.7V354.3H626.7V354.3H628.7V355.4H630.7V353.7H632.7V353.4H634.7V353.5H636.7V349.1H638.7V352.2H640.7V352.5H642.6V338.7H644.6V337.4H646.6"/>
<path d="M533 347.4H535V346.5H537V347.5H539V343.5H541V331.2H543V349.2H545V324.4H547V301.9H549V329.3H551V320.4H553V327.6H555V335.1H557V328.2H558.9V331.4H560.9V337.1H562.9V341.6H564.9V336.9H566.9V340.3H568.9V344.5H570.9V347.2H572.9V346.9H574.9V348.3H576.9V349.4H578.9V346.7H580.9V350.2H582.9V348.3H584.9V349.7H586.8V350.7H588.8V352H590.8V353.2H592.8V353.7H594.8V352H596.8V353.5H598.8V355H600.8V354.6H602.8V355.6H604.8V355.6H606.8V356.3H608.8V356.4H610.8V356.6H612.8V356.3H614.7V354.3H616.7V356.2H618.7V356.9H620.7V356.9H622.7V356.7H624.7V356.2H626.7V356.4H628.7V354.9H630.7V354.5H632.7V354.3H634.7V353.9H636.7V353.7H638.7V353.9H640.7V350.4H642.6V350.1H644.6V350.8H646.6"/>
<path d="M533 345.9H535V342.1H537V345.3H539V345.6H541V339.6H543V348.5H545V332.8H547V321.5H549V314.9H551V323.9H553V325.4H555V322.1H557V328.3H558.9V339.2H560.9V338.8H562.9V339.9H564.9V334.1H566.9V345.7H568.9V343.9H570.9V350.5H572.9V347.2H574.9V348.9H576.9V349.9H578.9V347.8H580.9V351.2H582.9V348.3H584.9V351.1H586.8V352.3H588.8V353.6H590.8V351H592.8V353.4H594.8V352.1H596.8V351.8H598.8V354.7H600.8V354.5H602.8V354.3H604.8V355.5H606.8V356.5H608.8V355.5H610.8V356.4H612.8V356.8H614.7V355.4H616.7V355.5H618.7V357.1H620.7V356.9H622.7V356.8H624.7V355.6H626.7V355.5H628.7V354.3H630.7V354.2H632.7V353.9H634.7V352H636.7V351.5H638.7V351.5H640.7V353.6H642.6V343H644.6V345H646.6"/>
<path d="M533 348.6H535V343.9H537V345.5H539V340.2H541V333.8H543V347.1H545V323.7H547V338.1H549V328.2H551V309.4H553V333.9H555V336.3H557V328.9H558.9V337.6H560.9V340.6H562.9V341.8H564.9V338.3H566.9V344.5H568.9V349H570.9V342.8H572.9V344.3H574.9V347.1H576.9V349.7H578.9V351.9H580.9V347.8H582.9V354H584.9V350.8H586.8V351.8H588.8V352.8H590.8V353.5H592.8V353.6H594.8V354.7H596.8V354.4H598.8V354.9H600.8V355.6H602.8V355.9H604.8V356.1H606.8V355.7H608.8V356.8H610.8V356.8H612.8V354.5H614.7V356.7H616.7V357H618.7V356.9H620.7V357.1H622.7V356.4H624.7V355.8H626.7V355.9H628.7V354.8H630.7V354.6H632.7V354.1H634.7V355H636.7V352.3H638.7V351.7H640.7V353.8H642.6V347H644.6V349.6H646.6"/>
<path d="M533 346.4H535V346.9H537V339.2H539V346.9H541V332.9H543V341.3H545V318.3H547V326.9H549V338.2H551V333.6H553V330.9H555V324.4H557V334.4H558.9V339.8H560.9V338H562.9V335.4H564.9V344H566.9V343.9H568.9V344.8H570.9V345.5H572.9V345.8H574.9V346.2H576.9V352H578.9V349.6H580.9V351.4H582.9V353H584.9V352.3H586.8V353H588.8V353.8H590.8V353.5H592.8V354.7H594.8V354.6H596.8V355.1H598.8V355.4H600.8V355.7H602.8V356.1H604.8V355.5H606.8V356.1H608.8V356.4H610.8V356.4H612.8V355.7H614.7V355.8H616.7V357.4H618.7V357H620.7V357.1H622.7V356.6H624.7V356H626.7V355.8H628.7V353.9H630.7V354.7H632.7V353.9H634.7V353.7H636.7V353.8H638.7V350.7H640.7V353H642.6V350.2H644.6V350.8H646.6"/>
<path d="M533 349.2H535V345.7H537V345.1H539V341.9H541V343.4H543V346.5H545V335.6H547V323.1H549V323.7H551V330.3H553V328.3H555V328.1H557V329.4H558.9V321.7H560.9V328H562.9V339.9H564.9V332H566.9V341.1H568.9V333.4H570.9V343.5H572.9V347H574.9V345.6H576.9V347.9H578.9V345.8H580.9V350.2H582.9V351.1H584.9V353.9H586.8V352.3H588.8V353.2H590.8V353.7H592.8V352.4H594.8V353.2H596.8V354.3H598.8V354.8H600.8V355.5H602.8V355.9H604.8V355.3H606.8V355.7H608.8V356.5H610.8V356.3H612.8V356.5H614.7V355.1H616.7V355.5H618.7V357.1H620.7V356.4H622.7V356.2H624.7V356.3H626.7V355.5H628.7V355.3H630.7V355.2H632.7V355.7H634.7V354.9H636.7V354.1H638.7V352.8H640.7V354.6H642.6V345.8H644.6V347.5H646.6"/>
<path d="M533 348.7H535V348.8H537V346.5H539V341.3H541V340.9H543V348.5H545V316.3H547V322.2H549V325.4H551V325.1H553V326.8H555V330.2H557V328.5H558.9V337.7H560.9V328.8H562.9V337.2H564.9V334.5H566.9V342H568.9V335.7H570.9V342H572.9V344.5H574.9V341.2H576.9V346.7H578.9V346.1H580.9V349.3H582.9V343H584.9V350.3H586.8V351.6H588.8V351.2H590.8V350.8H592.8V353.5H594.8V352.1H596.8V354H598.8V354.5H600.8V355H602.8V353.6H604.8V355.7H606.8V355.7H608.8V355.9H610.8V355.8H612.8V353.8H614.7V355.9H616.7V356.7H618.7V357H620.7V355.2H622.7V355.2H624.7V354.2H626.7V353.9H628.7V354.9H630.7V351.7H632.7V349.4H634.7V352.6H636.7V347H638.7V349H640.7V346.8H642.6V352.3H644.6V341.7H646.6"/>
<path d="M533 346.4H535V348H537V345.6H539V336.5H541V338.6H543V347.7H545V331.6H547V313.3H549V323.1H551V323.4H553V325.5H555V338.6H557V335.8H558.9V332.6H560.9V336.2H562.9V336.2H564.9V342.7H566.9V343.9H568.9V341.3H570.9V338.4H572.9V347.6H574.9V346.5H576.9V349.3H578.9V351.1H580.9V349.4H582.9V350.5H584.9V353.7H586.8V352.3H588.8V352.9H590.8V354.1H592.8V354H594.8V351.8H596.8V355.6H598.8V355.4H600.8V354H602.8V354.9H604.8V355H606.8V355.6H608.8V355.8H610.8V356.3H612.8V355.7H614.7V355.9H616.7V355.9H618.7V357.3H620.7V357.2H622.7V356.4H624.7V355.2H626.7V355.3H628.7V355.2H630.7V353.1H632.7V354H634.7V353.9H636.7V351.5H638.7V353H640.7V345.5H642.6V352.9H644.6V345.6H646.6"/>
<path d="M533 349.8H535V349.2H537V346.9H539V341.1H541V335.8H543V346.5H545V330.1H547V320.1H549V325.7H551V325H553V321.8H555V338.8H557V337.6H558.9V322.2H560.9V337.5H562.9V341.4H564.9V344H566.9V343.4H568.9V346.5H570.9V346.2H572.9V347H574.9V344.2H576.9V349.2H578.9V347.8H580.9V351.2H582.9V344.7H584.9V352.8H586.8V352.2H588.8V352.4H590.8V353.1H592.8V352.6H594.8V353.2H596.8V354.1H598.8V353H600.8V355.2H602.8V355.3H604.8V355.6H606.8V355.7H608.8V355.7H610.8V356.1H612.8V356.5H614.7V355.3H616.7V356.2H618.7V357.1H620.7V356.9H622.7V356.8H624.7V356.9H626.7V355.5H628.7V355.8H630.7V354.2H632.7V355H634.7V353.2H636.7V354H638.7V350.1H640.7V351.9H642.6V354.8H644.6V347.3H646.6"/>
<path d="M533 350.6H535V345.8H537V345H539V340.7H541V335.1H543V346.5H545V327.3H547V318.1H549V319.5H551V315.3H553V329.7H555V325.6H557V325.2H558.9V322.2H560.9V320.5H562.9V332.8H564.9V335.7H566.9V342H568.9V342.6H570.9V339.6H572.9V342.7H574.9V341.6H576.9V349.9H578.9V347.1H580.9V346.3H582.9V348.1H584.9V349.2H586.8V350.8H588.8V350.6H590.8V351.4H592.8V352H594.8V351.7H596.8V351.4H598.8V352.8H600.8V354.2H602.8V352.1H604.8V354.6H606.8V354.2H608.8V354.3H610.8V352.5H612.8V355.4H614.7V356.1H616.7V356.2H618.7V354H620.7V355.2H622.7V352.1H624.7V352.4H626.7V351.3H628.7V351.2H630.7V351.5H632.7V349.3H634.7V347.3H636.7V337.6H638.7V349.3H640.7V341.1H642.6V332.3H644.6V321.1H646.6"/>
<path d="M533 348.6H535V344.6H537V344.5H539V345.5H541V335.7H543V349.2H545V325.2H547V321.6H549V327H551V327.8H553V336.7H555V334.9H557V312.6H558.9V343.7H560.9V333.4H562.9V343.1H564.9V342.9H566.9V348.2H568.9V347.3H570.9V346.1H572.9V345.3H574.9V344.9H576.9V345.5H578.9V349.6H580.9V351.5H582.9V349.1H584.9V351.3H586.8V353.5H588.8V350.1H590.8V352.1H592.8V352.3H594.8V354H596.8V354.9H598.8V354.2H600.8V355.3H602.8V354.3H604.8V355.8H606.8V356H608.8V355.4H610.8V355.6H612.8V356.3H614.7V354.2H616.7V356H618.7V357.1H620.7V356.3H622.7V356.8H624.7V356.2H626.7V356H628.7V355.7H630.7V355.4H632.7V354.3H634.7V354.1H636.7V353H638.7V352.4H640.7V354.9H642.6V349H644.6V345.3H646.6"/>
<path d="M533 351.1H535V347H537V343.8H539V341.5H541V340.2H543V347.4H545V328.1H547V331.4H549V319.5H551V322.4H553V331.6H555V329H557V336.8H558.9V335.5H560.9V341.3H562.9V339.4H564.9V340.8H566.9V344.9H568.9V349.1H570.9V342.8H572.9V346H574.9V347.5H576.9V348H578.9V350.3H580.9V350.1H582.9V351.3H584.9V353.8H586.8V354H588.8V354.9H590.8V354.8H592.8V354.9H594.8V355.3H596.8V356.3H598.8V355.5H600.8V356.2H602.8V356.5H604.8V356.1H606.8V355.9H608.8V356.1H610.8V356.5H612.8V354.9H614.7V355.3H616.7V357.3H618.7V356.6H620.7V356.9H622.7V356.2H624.7V356.1H626.7V355.6H628.7V355.4H630.7V355.1H632.7V354.8H634.7V352.3H636.7V351.6H638.7V350.6H640.7V354.2H642.6V350.4H644.6V347.1H646.6"/>
</g>
<path d="M417.4 358.2H419.4V358.2H421.4V358.2H423.4V358.2H425.4V358.2H427.4V358.2H429.4V358.2H431.4V358.2H433.4V358.2H435.4V358.2H437.4V358.2H439.4V358.2H441.4V358.2H443.4V358.1H445.3V358.1H447.3V358.1H449.3V358.1H451.3V358.1H453.3V358.1H455.3V358.1H457.3V358H459.3V358H461.3V358H463.3V357.9H465.3V357.9H467.3V357.8H469.3V357.8H471.3V357.7H473.2V357.6H475.2V357.5H477.2V357.4H479.2V357.2H481.2V357H483.2V356.8H485.2V356.6H487.2V356.3H489.2V356H491.2V355.6H493.2V355.1H495.2V354.6H497.2V353.9H499.2V353.1H501.1V352.2H503.1V351.2H505.1V350H507.1V348.5H509.1V346.8H511.1V344.7H513.1V342.4H515.1V339.5H517.1V336.2H519.1V332.3H521.1V327.8H523.1V322.4H525.1V316H527.1V308.5H529V299.7H531V289.4H533V277.2H535V262.8H537V245.9H539V226H541V202.5H543V320H545V318.6H547V318.5H549V318.7H551V320.4H553V322.8H555V325.5H557V328.3H558.9V330.9H560.9V333.3H562.9V335.6H564.9V337.6H566.9V339.5H568.9V341.2H570.9V342.7H572.9V344.1H574.9V345.4H576.9V346.5H578.9V347.6H580.9V348.5H582.9V349.4H584.9V350.2H586.8V350.9H588.8V351.6H590.8V352.2H592.8V352.8H594.8V353.3H596.8V353.7H598.8V354.1H600.8V354.5H602.8V354.8H604.8V355.1H606.8V355.4H608.8V355.7H610.8V355.9H612.8V346.5H614.7V347.1H616.7V346.5H618.7V344.8H620.7V342.5H622.7V339.7H624.7V336.4H626.7V332.5H628.7V327.9H630.7V322.6H632.7V316.2H634.7V308.8H636.7V300H638.7V289.7H640.7V341.4H642.6V340.8H644.6V340.8H646.6" fill="none" stroke="#333" stroke-width="0.95" />
<path d="M417.4 358.2H419.4V358.2H421.4V358.2H423.4V358.2H425.4V358.2H427.4V358.2H429.4V358.2H431.4V358.2H433.4V358.2H435.4V358.2H437.4V358.2H439.4V358.2H441.4V358.2H443.4V358.2H445.3V358.2H447.3V358.2H449.3V358.2H451.3V358.2H453.3V358.2H455.3V358.2H457.3V358.2H459.3V358.2H461.3V358.2H463.3V358.1H465.3V358.2H467.3V358.2H469.3V358.1H471.3V358.1H473.2V358.1H475.2V358.1H477.2V358.1H479.2V358.1H481.2V358.1H483.2V358.1H485.2V358.1H487.2V357.9H489.2V357.9H491.2V357.9H493.2V357.8H495.2V357.8H497.2V357.7H499.2V357.5H501.1V357.5H503.1V357.5H505.1V357.4H507.1V357.1H509.1V357H511.1V355.8H513.1V356.7H515.1V356.4H517.1V355.7H519.1V354.7H521.1V354.7H523.1V354.6H525.1V353.9H527.1V352.6H529V349.7H531V351.4H533V348.7H535V348.1H537V343.8H539V341H541V344.3H543" fill="none" stroke="#74e043" stroke-width="1" />
<path d="M543 344.3V339.7H545V327.4H547V330.3H549V332.5H551V330.2H553V330.4H555V329.5H557V334.8H558.9V334.7H560.9V344.1H562.9V343H564.9V345.1H566.9V343.1H568.9V343.6H570.9V349.2H572.9V347.6H574.9V346.6H576.9V347.3H578.9V351.6H580.9V349.8H582.9V350.9H584.9V352.5H586.8V349.8H588.8V354.1H590.8V353.8H592.8V353.6H594.8V354.2H596.8V354.8H598.8V354H600.8V354.3H602.8V355H604.8V355.3H606.8V356H608.8V356.6H610.8V355.4H612.8" fill="none" stroke="#ff3a3a" stroke-width="1" />
<path d="M612.8 355.4V355.3H614.7V354.7H616.7V356.8H618.7V356.5H620.7V356.4H622.7V355.5H624.7V355.8H626.7V353.7H628.7V354.2H630.7V353.8H632.7V353.7H634.7V351.9H636.7V351.2H638.7V346.2H640.7" fill="none" stroke="#74e043" stroke-width="1" />
<path d="M640.7 346.2V352.1H642.6V348.6H644.6V339.7H646.6" fill="none" stroke="#ff3a3a" stroke-width="1" />
<path d="M416.8 195L416.8 358.5" stroke="#5a5a5a" stroke-width="1.2" />
<path d="M416.2 358.4L656.4 358.4" stroke="#222" stroke-width="1.5" />
<path d="M416.8 301.6L423.5 301.6" stroke="#8a8a8a" stroke-width="1" />
<text x="415" y="305.3" text-anchor="end" fill="#626262" textLength="30" lengthAdjust="spacingAndGlyphs">20000</text>
<path d="M416.8 245L423.5 245" stroke="#8a8a8a" stroke-width="1" />
<text x="415" y="248.7" text-anchor="end" fill="#626262" textLength="30" lengthAdjust="spacingAndGlyphs">40000</text>
<path d="M478 358L478 351" stroke="#8a8a8a" stroke-width="1" />
<text x="478" y="369.5" text-anchor="middle" fill="#626262">30</text>
<path d="M537.6 358L537.6 351" stroke="#8a8a8a" stroke-width="1" />
<text x="537.6" y="369.5" text-anchor="middle" fill="#626262">60</text>
<path d="M597 358L597 351" stroke="#8a8a8a" stroke-width="1" />
<text x="597" y="369.5" text-anchor="middle" fill="#626262">90</text>
<text x="541.5" y="380.2" text-anchor="middle"><tspan font-style="italic">t</tspan> (days)</text>
<path d="M417 344.4L659 344.4" stroke="#3b3bff" stroke-width="1" stroke-dasharray="3.5 3.07"/>
<text x="421" y="339.3" fill="#3b3bff" textLength="33.8" lengthAdjust="spacingAndGlyphs">Target</text>
<text x="423" y="210" textLength="32.4" lengthAdjust="spacingAndGlyphs">Policy</text>
<path d="M422.6 217.6L430.4 217.6" stroke="#74e043" stroke-width="1.1" />
<text x="433" y="221" textLength="83.4" lengthAdjust="spacingAndGlyphs">No intervention</text>
<path d="M422.6 228.8L430.4 228.8" stroke="#ff3a3a" stroke-width="1.1" />
<text x="433" y="231.5" textLength="53.4" lengthAdjust="spacingAndGlyphs">Lockdown</text>
<text x="497" y="261" font-size="14"><tspan font-style="italic">I</tspan><tspan font-size="9" dy="2.5">t</tspan></text>
<path d="M509 261L532 275.5" stroke="#222" stroke-width="0.9" stroke-dasharray="3 2"/>
<path d="M532 275.5L526.6 274.7L528.9 271Z" fill="#222"/>
<path d="M32.6 458.6L32.6 452.6" stroke="#a0a0a0" stroke-width="1" />
<text x="32.6" y="469.9" text-anchor="middle" fill="#626262">6</text>
<path d="M56.6 458.6L56.6 452.6" stroke="#a0a0a0" stroke-width="1" />
<text x="56.6" y="469.9" text-anchor="middle" fill="#626262">8</text>
<path d="M80.6 458.6L80.6 452.6" stroke="#a0a0a0" stroke-width="1" />
<text x="80.6" y="469.9" text-anchor="middle" fill="#626262">10</text>
<path d="M104.6 458.6L104.6 452.6" stroke="#a0a0a0" stroke-width="1" />
<text x="104.6" y="469.9" text-anchor="middle" fill="#626262">12</text>
<path d="M38.6 458.6V393.4H50.6V452.5H62.6V458.6Z" fill="#1212ee"/>
<rect x="51.2" y="449.1" width="10.8" height="9.5" fill="none" stroke="#ff33ff" stroke-width="1.3"/>
<rect x="63.2" y="402.7" width="10.8" height="56" fill="none" stroke="#ff33ff" stroke-width="1.3"/>
<rect x="75.2" y="453.4" width="10.8" height="5.2" fill="none" stroke="#ff33ff" stroke-width="1.3"/>
<path d="M24.6 459.4L112 459.4" stroke="#ff55ff" stroke-width="1" />
<path d="M23.6 391L23.6 459.4" stroke="#333" stroke-width="1.3" />
<path d="M23.6 458.6L114 458.6" stroke="#111" stroke-width="1.5" />
<path d="M23.6 444.1L29.6 444.1" stroke="#8a8a8a" stroke-width="1" />
<text x="21.6" y="448.3" text-anchor="end" fill="#626262">0.2</text>
<path d="M23.6 429.6L29.6 429.6" stroke="#8a8a8a" stroke-width="1" />
<text x="21.6" y="433.8" text-anchor="end" fill="#626262">0.4</text>
<path d="M23.6 415.1L29.6 415.1" stroke="#8a8a8a" stroke-width="1" />
<text x="21.6" y="419.3" text-anchor="end" fill="#626262">0.6</text>
<path d="M23.6 400.6L29.6 400.6" stroke="#8a8a8a" stroke-width="1" />
<text x="21.6" y="404.8" text-anchor="end" fill="#626262">0.8</text>
<text x="115.6" y="398.8" text-anchor="end">Start</text>
<text x="68.4" y="480.5" text-anchor="middle">Week</text>
<path d="M150 458.6L150 452.6" stroke="#a0a0a0" stroke-width="1" />
<text x="150" y="469.9" text-anchor="middle" fill="#626262">8</text>
<path d="M178.2 458.6L178.2 452.6" stroke="#a0a0a0" stroke-width="1" />
<text x="178.2" y="469.9" text-anchor="middle" fill="#626262">12</text>
<path d="M206.4 458.6L206.4 452.6" stroke="#a0a0a0" stroke-width="1" />
<text x="206.4" y="469.9" text-anchor="middle" fill="#626262">16</text>
<path d="M146.5 458.6V396.1H153.5V393.3H160.6V446.4H167.6V458.6Z" fill="#1212ee"/>
<rect x="168.2" y="453.5" width="5.9" height="5.1" fill="none" stroke="#ff33ff" stroke-width="1.3"/>
<rect x="175.3" y="445" width="5.8" height="13.6" fill="none" stroke="#ff33ff" stroke-width="1.3"/>
<rect x="182.3" y="421.6" width="5.9" height="37" fill="none" stroke="#ff33ff" stroke-width="1.3"/>
<rect x="189.4" y="395.3" width="5.8" height="63.3" fill="none" stroke="#ff33ff" stroke-width="1.3"/>
<rect x="196.4" y="444" width="5.9" height="14.6" fill="none" stroke="#ff33ff" stroke-width="1.3"/>
<rect x="203.5" y="453.9" width="5.9" height="4.7" fill="none" stroke="#ff33ff" stroke-width="1.3"/>
<rect x="210.5" y="457.8" width="5.8" height="0.8" fill="none" stroke="#ff33ff" stroke-width="1.3"/>
<path d="M138 459.4L225 459.4" stroke="#ff55ff" stroke-width="1" />
<path d="M137 391L137 459.4" stroke="#333" stroke-width="1.3" />
<path d="M137 458.6L227 458.6" stroke="#111" stroke-width="1.5" />
<path d="M137 444.4L143 444.4" stroke="#8a8a8a" stroke-width="1" />
<text x="135" y="448.6" text-anchor="end" fill="#626262">0.1</text>
<path d="M137 430.2L143 430.2" stroke="#8a8a8a" stroke-width="1" />
<text x="135" y="434.4" text-anchor="end" fill="#626262">0.2</text>
<path d="M137 416L143 416" stroke="#8a8a8a" stroke-width="1" />
<text x="135" y="420.2" text-anchor="end" fill="#626262">0.3</text>
<path d="M137 401.8L143 401.8" stroke="#8a8a8a" stroke-width="1" />
<text x="135" y="406" text-anchor="end" fill="#626262">0.4</text>
<text x="226" y="398.8" text-anchor="end">End</text>
<text x="178.5" y="480.5" text-anchor="middle">Week</text>
<path d="M265.6 458.6L265.6 452.6" stroke="#a0a0a0" stroke-width="1" />
<text x="265.6" y="469.9" text-anchor="middle" fill="#626262">2</text>
<path d="M286.4 458.6L286.4 452.6" stroke="#a0a0a0" stroke-width="1" />
<text x="286.4" y="469.9" text-anchor="middle" fill="#626262">4</text>
<path d="M307.2 458.6L307.2 452.6" stroke="#a0a0a0" stroke-width="1" />
<text x="307.2" y="469.9" text-anchor="middle" fill="#626262">6</text>
<path d="M328 458.6L328 452.6" stroke="#a0a0a0" stroke-width="1" />
<text x="328" y="469.9" text-anchor="middle" fill="#626262">8</text>
<path d="M250 458.6V404.6H260.4V393.8H270.8V458.6Z" fill="#1212ee"/>
<rect x="271.4" y="454.4" width="9.2" height="4.2" fill="none" stroke="#ff33ff" stroke-width="1.3"/>
<rect x="281.8" y="417.2" width="9.2" height="41.4" fill="none" stroke="#ff33ff" stroke-width="1.3"/>
<rect x="292.2" y="401.6" width="9.2" height="57" fill="none" stroke="#ff33ff" stroke-width="1.3"/>
<rect x="302.6" y="446" width="9.2" height="12.6" fill="none" stroke="#ff33ff" stroke-width="1.3"/>
<rect x="313" y="458" width="9.2" height="0.6" fill="none" stroke="#ff33ff" stroke-width="1.3"/>
<path d="M248.4 459.4L335 459.4" stroke="#ff55ff" stroke-width="1" />
<path d="M247.4 391L247.4 459.4" stroke="#333" stroke-width="1.3" />
<path d="M247.4 458.6L337 458.6" stroke="#111" stroke-width="1.5" />
<path d="M247.4 446.6L253.4 446.6" stroke="#8a8a8a" stroke-width="1" />
<text x="245.4" y="450.8" text-anchor="end" fill="#626262">0.1</text>
<path d="M247.4 422.6L253.4 422.6" stroke="#8a8a8a" stroke-width="1" />
<text x="245.4" y="426.8" text-anchor="end" fill="#626262">0.3</text>
<path d="M247.4 398.6L253.4 398.6" stroke="#8a8a8a" stroke-width="1" />
<text x="245.4" y="402.8" text-anchor="end" fill="#626262">0.5</text>
<text x="338" y="398.8" text-anchor="end">Length</text>
<text x="296.8" y="480.5" text-anchor="middle">Weeks</text>
<path d="M378 458.6L378 452.6" stroke="#a0a0a0" stroke-width="1" />
<text x="378" y="469.9" text-anchor="middle" fill="#626262">6</text>
<path d="M402 458.6L402 452.6" stroke="#a0a0a0" stroke-width="1" />
<text x="402" y="469.9" text-anchor="middle" fill="#626262">8</text>
<path d="M426 458.6L426 452.6" stroke="#a0a0a0" stroke-width="1" />
<text x="426" y="469.9" text-anchor="middle" fill="#626262">10</text>
<path d="M450 458.6L450 452.6" stroke="#a0a0a0" stroke-width="1" />
<text x="450" y="469.9" text-anchor="middle" fill="#626262">12</text>
<path d="M408 458.6V393.6H420V458.6Z" fill="#1212ee"/>
<rect x="408.6" y="394.2" width="10.8" height="64.4" fill="none" stroke="#ff33ff" stroke-width="1.3"/>
<path d="M370.4 459.4L457.4 459.4" stroke="#ff55ff" stroke-width="1" />
<path d="M369.4 391L369.4 459.4" stroke="#333" stroke-width="1.3" />
<path d="M369.4 458.6L459.4 458.6" stroke="#111" stroke-width="1.5" />
<path d="M369.4 445.6L375.4 445.6" stroke="#8a8a8a" stroke-width="1" />
<text x="367.4" y="449.8" text-anchor="end" fill="#626262">0.2</text>
<path d="M369.4 419.6L375.4 419.6" stroke="#8a8a8a" stroke-width="1" />
<text x="367.4" y="423.8" text-anchor="end" fill="#626262">0.6</text>
<path d="M369.4 393.6L375.4 393.6" stroke="#8a8a8a" stroke-width="1" />
<text x="367.4" y="397.8" text-anchor="end" fill="#626262">1.0</text>
<text x="458.6" y="398.8" text-anchor="end">Start</text>
<text x="414.3" y="480.5" text-anchor="middle">Week</text>
<path d="M493.4 458.6L493.4 452.6" stroke="#a0a0a0" stroke-width="1" />
<text x="493.4" y="469.9" text-anchor="middle" fill="#626262">8</text>
<path d="M521.4 458.6L521.4 452.6" stroke="#a0a0a0" stroke-width="1" />
<text x="521.4" y="469.9" text-anchor="middle" fill="#626262">12</text>
<path d="M549.4 458.6L549.4 452.6" stroke="#a0a0a0" stroke-width="1" />
<text x="549.4" y="469.9" text-anchor="middle" fill="#626262">16</text>
<path d="M531.9 458.6V393.6H538.9V458.6Z" fill="#1212ee"/>
<rect x="525.5" y="452.7" width="5.8" height="5.9" fill="none" stroke="#ff33ff" stroke-width="1.3"/>
<rect x="532.5" y="411.1" width="5.8" height="47.5" fill="none" stroke="#ff33ff" stroke-width="1.3"/>
<rect x="539.5" y="448.2" width="5.8" height="10.5" fill="none" stroke="#ff33ff" stroke-width="1.3"/>
<path d="M481 459.4L568 459.4" stroke="#ff55ff" stroke-width="1" />
<path d="M480 391L480 459.4" stroke="#333" stroke-width="1.3" />
<path d="M480 458.6L570 458.6" stroke="#111" stroke-width="1.5" />
<path d="M480 445.6L486 445.6" stroke="#8a8a8a" stroke-width="1" />
<text x="478" y="449.8" text-anchor="end" fill="#626262">0.2</text>
<path d="M480 419.6L486 419.6" stroke="#8a8a8a" stroke-width="1" />
<text x="478" y="423.8" text-anchor="end" fill="#626262">0.6</text>
<path d="M480 393.6L486 393.6" stroke="#8a8a8a" stroke-width="1" />
<text x="478" y="397.8" text-anchor="end" fill="#626262">1.0</text>
<text x="566" y="398.8" text-anchor="end">End</text>
<text x="524.8" y="480.5" text-anchor="middle">Week</text>
<path d="M608 458.6L608 452.6" stroke="#a0a0a0" stroke-width="1" />
<text x="608" y="469.9" text-anchor="middle" fill="#626262">2</text>
<path d="M628.8 458.6L628.8 452.6" stroke="#a0a0a0" stroke-width="1" />
<text x="628.8" y="469.9" text-anchor="middle" fill="#626262">4</text>
<path d="M649.6 458.6L649.6 452.6" stroke="#a0a0a0" stroke-width="1" />
<text x="649.6" y="469.9" text-anchor="middle" fill="#626262">6</text>
<path d="M670.4 458.6L670.4 452.6" stroke="#a0a0a0" stroke-width="1" />
<text x="670.4" y="469.9" text-anchor="middle" fill="#626262">8</text>
<path d="M634 458.6V393.6H644.4V458.6Z" fill="#1212ee"/>
<rect x="624.2" y="452.7" width="9.2" height="5.9" fill="none" stroke="#ff33ff" stroke-width="1.3"/>
<rect x="634.6" y="411.1" width="9.2" height="47.5" fill="none" stroke="#ff33ff" stroke-width="1.3"/>
<rect x="645" y="448.2" width="9.2" height="10.5" fill="none" stroke="#ff33ff" stroke-width="1.3"/>
<path d="M590.6 459.4L677.6 459.4" stroke="#ff55ff" stroke-width="1" />
<path d="M589.6 391L589.6 459.4" stroke="#333" stroke-width="1.3" />
<path d="M589.6 458.6L679.6 458.6" stroke="#111" stroke-width="1.5" />
<path d="M589.6 445.6L595.6 445.6" stroke="#8a8a8a" stroke-width="1" />
<text x="587.6" y="449.8" text-anchor="end" fill="#626262">0.2</text>
<path d="M589.6 419.6L595.6 419.6" stroke="#8a8a8a" stroke-width="1" />
<text x="587.6" y="423.8" text-anchor="end" fill="#626262">0.6</text>
<path d="M589.6 393.6L595.6 393.6" stroke="#8a8a8a" stroke-width="1" />
<text x="587.6" y="397.8" text-anchor="end" fill="#626262">1.0</text>
<text x="684" y="398.8" text-anchor="end">Length</text>
<text x="637.8" y="480.5" text-anchor="middle">Weeks</text>
<text x="35.8" y="21.1" font-size="11" fill="#111" font-family='"Liberation Sans", sans-serif' font-weight="bold">(a)</text>
<text x="349" y="21.1" font-size="11" fill="#111" font-family='"Liberation Sans", sans-serif' font-weight="bold">(b)</text>
<text x="35.6" y="189.9" font-size="11" fill="#111" font-family='"Liberation Sans", sans-serif' font-weight="bold">(c)</text>
<text x="349" y="189.9" font-size="11" fill="#111" font-family='"Liberation Sans", sans-serif' font-weight="bold">(d)</text>
<text x="35.6" y="377" font-size="11" fill="#111" font-family='"Liberation Sans", sans-serif' font-weight="bold">(e)</text>
<text x="350.7" y="377.1" font-size="11" fill="#111" font-family='"Liberation Sans", sans-serif' font-weight="bold">(f)</text>
<text x="9.7" y="83.1" text-anchor="middle" fill="#3b3bff" textLength="45" lengthAdjust="spacingAndGlyphs" transform="rotate(-90 9.7 83.1)">No noise</text>
<text x="9.7" y="285.5" text-anchor="middle" fill="#ff44ff" textLength="58" lengthAdjust="spacingAndGlyphs" transform="rotate(-90 9.7 285.5)">With noise</text>
<text x="357" y="83.1" text-anchor="middle" fill="#3b3bff" textLength="45" lengthAdjust="spacingAndGlyphs" transform="rotate(-90 357 83.1)">No noise</text>
<text x="357" y="285.5" text-anchor="middle" fill="#ff44ff" textLength="58" lengthAdjust="spacingAndGlyphs" transform="rotate(-90 357 285.5)">With noise</text>
<text x="25.6" y="81.8" text-anchor="middle" transform="rotate(-90 25.6 81.8)" textLength="118.5" lengthAdjust="spacingAndGlyphs">Infection incidence (<tspan font-style="italic">I</tspan><tspan font-size="9" dy="2">t</tspan><tspan dy="-2">)</tspan></text>
<text x="377.7" y="81.5" text-anchor="middle" transform="rotate(-90 377.7 81.5)" textLength="118.5" lengthAdjust="spacingAndGlyphs">Infection incidence (<tspan font-style="italic">I</tspan><tspan font-size="9" dy="2">t</tspan><tspan dy="-2">)</tspan></text>
<text x="24.8" y="281" text-anchor="middle" transform="rotate(-90 24.8 281)" textLength="106" lengthAdjust="spacingAndGlyphs">Reported cases (<tspan font-style="italic">C</tspan><tspan font-size="9" dy="2">t</tspan><tspan dy="-2">)</tspan></text>
<text x="378.2" y="281.5" text-anchor="middle" transform="rotate(-90 378.2 281.5)" textLength="106" lengthAdjust="spacingAndGlyphs">Reported cases (<tspan font-style="italic">C</tspan><tspan font-size="9" dy="2">t</tspan><tspan dy="-2">)</tspan></text>
</g>
</svg>
</body></html>
